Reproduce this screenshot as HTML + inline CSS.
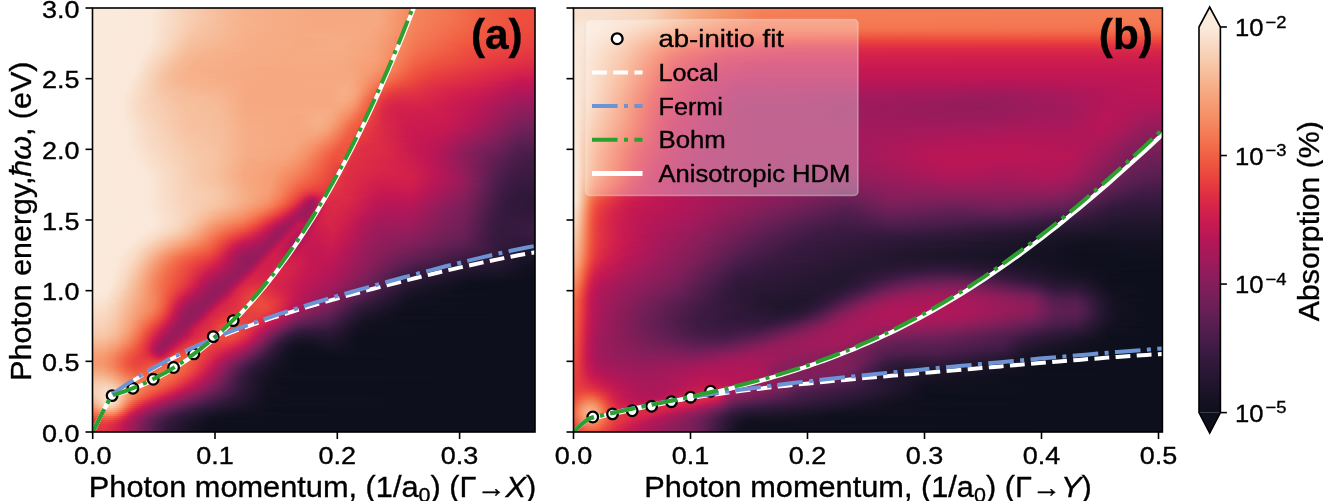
<!DOCTYPE html>
<html><head><meta charset="utf-8"><style>
html,body{margin:0;padding:0;background:#fff;width:1323px;height:501px;overflow:hidden}
.hm{position:absolute;overflow:hidden}
.hm i{display:block;width:100%}
svg{position:absolute;left:0;top:0;will-change:transform}
text{font-family:"Liberation Sans",sans-serif;fill:#000;stroke:#000;stroke-width:0.35px}
</style></head><body>
<div class="hm" style="left:92.5px;top:8px;width:442px;height:424px">
<i style="height:2px;background:linear-gradient(90deg,#faebdd 0,#fae9da 58px,#f8d7c0 82px,#f6be9b 124px,#f6b18b 153px,#f6a981 216px,#f6a981 284px,#f69b71 301px,#f4865e 319px,#f37450 356px,#f05e42 390px,#ed503e 423px,#ed4e3e 441px)"></i>
<i style="height:2px;background:linear-gradient(90deg,#faebdd 0,#fae9da 58px,#f8d7c0 82px,#f6be9b 124px,#f6b18b 153px,#f6a981 216px,#f6a981 284px,#f69b71 301px,#f4865e 319px,#f37450 356px,#f05e42 390px,#ed503e 423px,#ed4e3e 441px)"></i>
<i style="height:2px;background:linear-gradient(90deg,#faebdd 0,#fae9da 57px,#f8d1b8 91px,#f6bc99 127px,#f6b18b 154px,#f6a981 216px,#f6a981 284px,#f69b71 301px,#f4865e 319px,#f37450 356px,#f05e42 390px,#ed503e 423px,#ed4e3e 441px)"></i>
<i style="height:2px;background:linear-gradient(90deg,#faebdd 0,#fae9da 57px,#f8d1b8 91px,#f6bc99 127px,#f6b18b 154px,#f6a981 216px,#f6a981 284px,#f69b71 301px,#f4865e 319px,#f3734e 359px,#f05e42 390px,#ed503e 423px,#ed4e3e 441px)"></i>
<i style="height:2px;background:linear-gradient(90deg,#faebdd 0,#fae9da 57px,#f7ccaf 100px,#f6b893 136px,#f6b089 163px,#f6a981 218px,#f6a981 284px,#f59970 302px,#f4835b 323px,#f37450 356px,#f05c42 393px,#ed4e3e 429px,#ed4e3e 441px)"></i>
<i style="height:2px;background:linear-gradient(90deg,#faebdd 0,#fae9da 57px,#f7c7a8 107px,#f6b48f 144px,#f6b089 164px,#f6a981 217px,#f6a880 287px,#f4845d 321px,#f3734e 358px,#f05e42 389px,#ed4e3e 427px,#ed4e3e 441px)"></i>
<i style="height:2px;background:linear-gradient(90deg,#faebdd 0,#fae9da 57px,#f7c7a8 106px,#f6b48f 143px,#f6ae87 172px,#f6a981 222px,#f6a880 286px,#f59269 307px,#f4815a 326px,#f3734e 357px,#f05e42 388px,#ed4e3e 426px,#ec4c3e 441px)"></i>
<i style="height:2px;background:linear-gradient(90deg,#faebdd 0,#fae9da 57px,#f7c7a8 105px,#f6b48f 143px,#f6b089 163px,#f6a981 218px,#f6a880 285px,#f5966c 304px,#f4835b 323px,#f26f4c 361px,#f05c42 391px,#ed4e3e 426px,#ec4c3e 441px)"></i>
<i style="height:2px;background:linear-gradient(90deg,#faebdd 0,#fae9da 57px,#f7c6a6 106px,#f6b18b 151px,#f6a981 217px,#f6a880 284px,#f5966c 304px,#f4815a 324px,#f26f4c 360px,#ef5a41 393px,#ec4c3e 432px,#ec4c3e 441px)"></i>
<i style="height:2px;background:linear-gradient(90deg,#faebdd 0,#fae9da 57px,#f7c6a6 105px,#f6b38d 146px,#f6ae87 177px,#f6a981 218px,#f6a880 283px,#f5976e 302px,#f4825a 322px,#f26e4b 359px,#ef5a41 391px,#ec4c3e 430px,#ec4c3e 441px)"></i>
<i style="height:2px;background:linear-gradient(90deg,#faebdd 0,#fae9da 57px,#f8d1b8 87px,#f7c4a4 106px,#f6b18b 150px,#f6a981 217px,#f6a881 278px,#f6a077 294px,#f4835b 320px,#f26b49 361px,#ef5840 394px,#ec4a3e 435px,#ec4a3e 441px)"></i>
<i style="height:2px;background:linear-gradient(90deg,#faebdd 0,#fae9da 57px,#f8d6be 81px,#f7c2a2 107px,#f6b089 154px,#f6ab83 199px,#f6a881 276px,#f6a077 293px,#f48059 322px,#f26c4a 358px,#ef5840 391px,#ec4a3e 432px,#ec4a3e 441px)"></i>
<i style="height:2px;background:linear-gradient(90deg,#faebdd 0,#fae9da 57px,#f8d7c0 79px,#f7c6a6 99px,#f6b089 153px,#f6ab83 199px,#f6a981 274px,#f69e75 294px,#f4815a 320px,#f26848 361px,#ef5640 392px,#eb483e 437px,#eb483e 441px)"></i>
<i style="height:2px;background:linear-gradient(90deg,#faebdd 0,#fae9da 57px,#f8d9c3 77px,#f7c4a4 100px,#f6b089 152px,#f6ab83 199px,#f6ac84 235px,#f6a77f 279px,#f69b71 296px,#f47d57 323px,#f26848 359px,#ef5640 390px,#eb483e 432px,#eb483e 441px)"></i>
<i style="height:2px;background:linear-gradient(90deg,#faebdd 0,#fae9da 56px,#f8dac5 75px,#f7c3a3 99px,#f6b089 152px,#f6aa82 199px,#f6ac84 230px,#f6a981 271px,#f69d74 293px,#f47d57 321px,#f16647 359px,#ee543f 390px,#eb463e 437px,#eb463e 441px)"></i>
<i style="height:2px;background:linear-gradient(90deg,#faebdd 0,#fae9da 56px,#f8d9c3 76px,#f7c3a3 97px,#f6b995 124px,#f6ae87 157px,#f6ad85 190px,#f6a981 216px,#f6ad85 249px,#f6a47b 284px,#f59067 303px,#f47b55 324px,#f16244 363px,#ee523f 393px,#ea453e 435px,#ea453e 441px)"></i>
<i style="height:2px;background:linear-gradient(90deg,#faebdd 0,#fae9da 55px,#f8dac5 74px,#f7c2a1 97px,#f6b995 120px,#f6ae87 156px,#f6ad85 190px,#f6a981 216px,#f6ad85 248px,#f6a47b 283px,#f58d64 305px,#f37852 325px,#f16445 358px,#ee523f 388px,#ea443e 434px,#ea443e 441px)"></i>
<i style="height:2px;background:linear-gradient(90deg,#faebdd 0,#fae9da 54px,#f9ddc9 70px,#f6c09e 97px,#f6b995 118px,#f6ae87 155px,#f6ad85 190px,#f6a981 216px,#f6ad85 242px,#f6a67e 278px,#f5946b 299px,#f37852 323px,#f05e42 363px,#ed4f3e 393px,#e9423e 435px,#e9423e 441px)"></i>
<i style="height:2px;background:linear-gradient(90deg,#faebdd 0,#fae9da 54px,#f8d8c1 74px,#f6bf9c 97px,#f6b893 120px,#f6ae87 155px,#f6ad85 190px,#f6a981 215px,#f6ad85 244px,#f6a47b 281px,#f59269 300px,#f37651 323px,#ef5941 367px,#ea433e 420px,#e8403e 441px)"></i>
<i style="height:2px;background:linear-gradient(90deg,#faebdd 0,#fae9da 53px,#f8d8c1 73px,#f6be9b 96px,#f6b792 118px,#f6ad85 160px,#f6ad85 189px,#f6a981 215px,#f6ae87 240px,#f6a279 283px,#f58b63 304px,#f3744f 324px,#ee513f 378px,#e83f3f 435px,#e83f3f 441px)"></i>
<i style="height:2px;background:linear-gradient(90deg,#faebdd 0,#fae9da 52px,#f8d7bf 73px,#f6be9b 95px,#f6b691 112px,#f6b18a 139px,#f6ad85 163px,#f6ab83 197px,#f6ac84 223px,#f6ad85 250px,#f6a077 285px,#f4865e 307px,#f3724e 324px,#ed4f3e 377px,#e73d3f 436px,#e73d3f 441px)"></i>
<i style="height:2px;background:linear-gradient(90deg,#faebdd 0,#fae9da 51px,#f8d4bb 74px,#f6bd9a 94px,#f6b691 109px,#f6ad85 159px,#f6aa82 197px,#f6ab83 222px,#f6ad85 242px,#f6a37a 281px,#f58f66 300px,#f3724e 322px,#ed4f3e 373px,#e63b40 435px,#e63b40 441px)"></i>
<i style="height:2px;background:linear-gradient(90deg,#faebdd 0,#fae9da 49px,#f8d7bf 70px,#f6bc99 93px,#f6b48f 109px,#f6ad86 146px,#f6ab83 196px,#f6ab83 223px,#f6ab83 254px,#f6a178 283px,#f58a61 303px,#f26e4b 323px,#ed4d3e 374px,#e53840 435px,#e53840 441px)"></i>
<i style="height:2px;background:linear-gradient(90deg,#faebdd 0,#fae9da 48px,#f8d6be 69px,#f6bc98 92px,#f6b48e 108px,#f6ac84 160px,#f6ab83 195px,#f6ab83 223px,#f6ab83 252px,#f6a077 285px,#f4845c 306px,#f26a49 325px,#ec4b3e 374px,#e43741 434px,#e43741 441px)"></i>
<i style="height:2px;background:linear-gradient(90deg,#faebdd 0,#fae9da 48px,#f7ceb2 74px,#f6b894 94px,#f6b28c 113px,#f6ab83 164px,#f6aa82 195px,#f6ac84 224px,#f6aa82 251px,#f6a077 284px,#f58960 302px,#f26a49 322px,#ec4c3e 367px,#e33541 431px,#e23442 441px)"></i>
<i style="height:2px;background:linear-gradient(90deg,#faebdd 0,#fae9da 47px,#f6bb97 90px,#f6b28c 105px,#f6ab83 166px,#f6ab83 224px,#f6ab83 249px,#f6a077 283px,#f58960 301px,#f26948 321px,#ef5740 346px,#e9413e 388px,#e13243 435px,#e13243 441px)"></i>
<i style="height:2px;background:linear-gradient(90deg,#faebdd 0,#fae9da 46px,#f6bb97 88px,#f6b18b 105px,#f6ab83 167px,#f6ab83 226px,#f6aa82 248px,#f6a077 282px,#f58b62 299px,#f26948 319px,#ef5941 337px,#e73e3f 392px,#e03043 433px,#e03043 441px)"></i>
<i style="height:2px;background:linear-gradient(90deg,#faebdd 0,#fae9da 45px,#f6bc99 85px,#f6b18b 102px,#f6ab83 164px,#f6ab83 231px,#f6a77f 259px,#f69c73 284px,#f4855d 301px,#f16646 320px,#ee553f 338px,#e43741 403px,#dd2d45 437px,#dd2d45 441px)"></i>
<i style="height:2px;background:linear-gradient(90deg,#faebdd 0,#fae9da 44px,#f8d2b9 64px,#f6bc98 84px,#f6b18b 101px,#f6ab83 161px,#f6a981 251px,#f69c73 283px,#f48059 303px,#f16345 320px,#ee513f 339px,#e03043 414px,#db2a46 441px)"></i>
<i style="height:2px;background:linear-gradient(90deg,#faebdd 0,#fae9da 44px,#f6bf9c 79px,#f6b18b 98px,#f6a981 166px,#f6a981 250px,#f69b72 282px,#f4855d 298px,#f16144 319px,#ed4f3e 337px,#df2f44 411px,#da2947 436px,#da2947 441px)"></i>
<i style="height:2px;background:linear-gradient(90deg,#faebdd 0,#fae9da 43px,#f7d0b5 63px,#f6bc98 81px,#f6b18b 98px,#f6a981 167px,#f6a981 250px,#f69c73 278px,#f58960 295px,#f16647 314px,#ee533f 328px,#ea433e 355px,#d82648 430px,#d82648 441px)"></i>
<i style="height:2px;background:linear-gradient(90deg,#faebdd 0,#fae9da 42px,#f8d8c1 56px,#f6c09e 75px,#f6b48f 90px,#f6ae87 113px,#f6a981 173px,#f6a880 256px,#f5986f 281px,#f47b55 301px,#ef5941 320px,#eb473e 339px,#dc2b46 407px,#d5234a 436px,#d5234a 441px)"></i>
<i style="height:2px;background:linear-gradient(90deg,#faebdd 0,#fae9da 41px,#f8d4bc 58px,#f6c09e 74px,#f6b48f 89px,#f6ae87 114px,#f6a981 171px,#f6a880 257px,#f59a71 277px,#f47d57 297px,#f05b41 317px,#eb483e 333px,#e63c3f 359px,#d82648 413px,#d3214b 441px)"></i>
<i style="height:2px;background:linear-gradient(90deg,#faebdd 0,#fae9da 41px,#f7d0b5 60px,#f6be9b 75px,#f6b38d 93px,#f6a981 158px,#f6a880 258px,#f5966d 278px,#f26848 306px,#ed4d3e 324px,#e73e3f 345px,#da2947 401px,#d01e4d 432px,#d01e4d 441px)"></i>
<i style="height:2px;background:linear-gradient(90deg,#faebdd 0,#fae9da 40px,#f7d1b6 59px,#f6bc99 76px,#f6b18b 98px,#f6a881 166px,#f6a880 259px,#f5956c 277px,#f16546 306px,#ec4a3e 324px,#e63a40 345px,#db2a46 393px,#cd1c4e 428px,#cd1c4e 441px)"></i>
<i style="height:2px;background:linear-gradient(90deg,#faebdd 0,#fae9da 38px,#f8dac4 52px,#f6c19f 71px,#f6b48f 89px,#f6a880 167px,#f6a881 257px,#f69e75 269px,#f26a49 299px,#ed4d3e 319px,#e63a40 339px,#d92748 393px,#ca1a50 428px,#c91a50 441px)"></i>
<i style="height:2px;background:linear-gradient(90deg,#faebdd 0,#fae9da 37px,#f8d9c3 52px,#f6c19f 71px,#f6b48f 90px,#f6ab83 144px,#f6a880 172px,#f6aa82 243px,#f6a981 258px,#f59a71 271px,#f26f4c 293px,#ee543f 310px,#e63c3f 332px,#e13243 353px,#d82648 391px,#c71951 426px,#c61852 441px)"></i>
<i style="height:2px;background:linear-gradient(90deg,#faebdd 0,#fae9da 36px,#f8d9c3 51px,#f7c4a4 68px,#f6b691 88px,#f6ad85 139px,#f6a880 164px,#f6a981 241px,#f6aa82 257px,#f69c73 269px,#f26b49 291px,#ed503e 309px,#e33541 338px,#dc2c45 369px,#cd1c4e 406px,#c31753 432px,#c21753 441px)"></i>
<i style="height:2px;background:linear-gradient(90deg,#faebdd 0,#fae9da 35px,#f8d6be 53px,#f7c2a1 71px,#f6b792 89px,#f6ad86 136px,#f6a880 163px,#f6a880 224px,#f6ab83 245px,#f6ab83 257px,#f69b71 269px,#f26b49 288px,#ee553f 300px,#e43741 331px,#dc2c45 354px,#d4224a 389px,#c11754 423px,#be1655 441px)"></i>
<i style="height:2px;background:linear-gradient(90deg,#faebdd 0,#fae9da 34px,#f7cfb3 59px,#f6bf9d 74px,#f6b691 97px,#f6af88 134px,#f6a880 160px,#f6a880 221px,#f6a880 236px,#f6ad85 254px,#f6a47c 263px,#f5875f 276px,#f16445 288px,#ec4c3e 301px,#dc2c45 345px,#d3214b 387px,#be1655 420px,#bb1656 441px)"></i>
<i style="height:2px;background:linear-gradient(90deg,#faebdd 0,#fae9da 33px,#f7c2a2 71px,#f6b893 94px,#f6b18a 132px,#f6a880 157px,#f6a880 219px,#f6a880 236px,#f6ad86 252px,#f6a67e 262px,#f58960 274px,#f16445 286px,#ed503e 294px,#e9423e 305px,#d92748 351px,#d01e4d 387px,#bb1656 421px,#b61657 441px)"></i>
<i style="height:2px;background:linear-gradient(90deg,#faebdd 0,#fae9da 32px,#f7c2a2 72px,#f6b894 97px,#f6b38d 129px,#f6a880 157px,#f6a880 219px,#f6a880 236px,#f6ae87 253px,#f6a47b 263px,#f4855d 274px,#f06043 285px,#eb463e 295px,#e63a40 310px,#d62449 354px,#cf1d4d 385px,#b81657 420px,#b31758 440px,#b31758 441px)"></i>
<i style="height:2px;background:linear-gradient(90deg,#faebdd 0,#fae9da 31px,#f7c6a6 69px,#f6bb97 92px,#f6b48e 129px,#f6a880 156px,#f6a880 219px,#f6a880 235px,#f6ae87 252px,#f6a67e 261px,#f59168 269px,#f16546 282px,#eb473e 291px,#e53940 301px,#df2f44 329px,#d4224a 357px,#cc1b4f 386px,#b31758 421px,#af1759 441px)"></i>
<i style="height:2px;background:linear-gradient(90deg,#faebdd 0,#fae9da 30px,#f7c7a8 68px,#f6bc98 92px,#f6b590 128px,#f6a880 155px,#f6a981 210px,#f6a77f 229px,#f6ae87 251px,#f6a67e 260px,#f5966c 267px,#f3744f 276px,#ed4f3e 286px,#e63b40 294px,#e13342 307px,#dd2d45 328px,#d3214b 356px,#ca1a50 385px,#ae1759 422px,#aa185a 441px)"></i>
<i style="height:2px;background:linear-gradient(90deg,#faebdd 0,#fae9da 30px,#f7d0b5 57px,#f6bf9d 83px,#f6bb97 112px,#f6b38d 134px,#f6a880 156px,#f6a981 210px,#f6a880 234px,#f6ad86 250px,#f6a47b 261px,#f58e65 268px,#f3714d 275px,#f05e42 281px,#e8413e 289px,#e13243 298px,#db2a46 329px,#d11f4c 358px,#c61852 387px,#a9185a 426px,#a7195a 441px)"></i>
<i style="height:2px;background:linear-gradient(90deg,#faebdd 0,#fae9da 29px,#f7d0b5 57px,#f6bf9d 86px,#f6b893 127px,#f6a981 152px,#f6a981 237px,#f6ad85 251px,#f6a178 261px,#f58b62 268px,#f3724e 273px,#f05f43 280px,#e9413e 287px,#e13243 294px,#dc2c45 305px,#da2947 328px,#cf1d4d 360px,#c41753 387px,#a5195b 425px,#a21a5b 441px)"></i>
<i style="height:2px;background:linear-gradient(90deg,#faebdd 0,#fae9da 29px,#f8d3ba 53px,#f6c19f 85px,#f6bc99 114px,#f6b48f 134px,#f6a981 152px,#f6a981 236px,#f6ac84 249px,#f6a47b 258px,#f5936a 265px,#f3724e 272px,#f05f43 279px,#ea433e 285px,#df2f44 293px,#da2947 304px,#d92748 328px,#cd1c4e 361px,#c21753 386px,#a21a5b 425px,#9e1a5b 441px)"></i>
<i style="height:2px;background:linear-gradient(90deg,#faebdd 0,#fae9da 29px,#f8d4bc 51px,#f6c19f 87px,#f6b995 127px,#f6a981 152px,#f6a981 251px,#f5986f 262px,#f47b55 269px,#f26a49 274px,#f05b41 279px,#e8403f 285px,#df2f44 291px,#d82648 303px,#d62449 330px,#c41753 381px,#9d1a5b 427px,#9b1b5b 441px)"></i>
<i style="height:2px;background:linear-gradient(90deg,#faebdd 0,#fae9da 29px,#f8d7bf 49px,#f7c2a2 85px,#f6be9b 108px,#f6b995 128px,#f6a981 153px,#f6a981 248px,#f59a71 260px,#f4845d 266px,#f26f4c 271px,#f05b41 278px,#e8403f 284px,#df2f44 290px,#d62449 301px,#d5234a 330px,#c31753 380px,#991b5b 427px,#981b5b 441px)"></i>
<i style="height:2px;background:linear-gradient(90deg,#faebdd 0,#fae9da 29px,#f8d9c3 46px,#f7c2a2 86px,#f6be9b 111px,#f6bb97 126px,#f6a981 154px,#f6a981 245px,#f69b72 257px,#f58860 264px,#f26e4b 270px,#f05f43 276px,#e8403f 283px,#dc2b46 291px,#d4224a 302px,#d3214b 333px,#c21753 379px,#a01a5b 414px,#941c5b 432px,#941c5b 441px)"></i>
<i style="height:2px;background:linear-gradient(90deg,#faebdd 0,#fae9da 29px,#f8d7c0 48px,#f6c19f 91px,#f6bc99 124px,#f6a981 154px,#f6ab83 219px,#f6ab83 240px,#f69d74 254px,#f58a61 262px,#f26c4a 270px,#f05b41 276px,#e63c3f 283px,#d92847 292px,#d3214b 305px,#d11f4c 336px,#c21753 377px,#a21a5b 410px,#911d5b 431px,#911d5b 441px)"></i>
<i style="height:2px;background:linear-gradient(90deg,#faebdd 0,#fae9da 29px,#f8d7c0 49px,#f6c19f 92px,#f6bc98 125px,#f6a981 155px,#f6ab83 215px,#f6ac84 236px,#f6a077 249px,#f58e65 259px,#f26a49 269px,#f05f43 274px,#e9413e 281px,#dd2d45 288px,#d3214b 298px,#cf1d4d 343px,#c11754 377px,#a01a5b 409px,#8f1d5b 428px,#8d1d5b 441px)"></i>
<i style="height:2px;background:linear-gradient(90deg,#faebdd 0,#fae9da 29px,#f8d7c0 50px,#f6c19f 92px,#f6bc99 125px,#f6a981 155px,#f6ab83 213px,#f6ad86 232px,#f6a47b 245px,#f58b63 258px,#f26a49 268px,#f05b41 274px,#e73e3f 281px,#db2946 290px,#d2204c 301px,#cd1c4e 352px,#bb1656 383px,#8d1d5b 425px,#8a1d5b 441px)"></i>
<i style="height:2px;background:linear-gradient(90deg,#faebdd 0,#fae9da 29px,#f8d7c0 51px,#f7c2a2 90px,#f6bf9d 106px,#f6bb97 128px,#f6ab83 153px,#f6a981 208px,#f6af88 228px,#f6a981 239px,#f58e65 255px,#f26848 267px,#f05d42 272px,#e83f3f 280px,#d92847 290px,#d11f4c 305px,#cd1c4e 351px,#ba1656 382px,#8a1d5b 425px,#861e5b 441px)"></i>
<i style="height:2px;background:linear-gradient(90deg,#faebdd 0,#fae9da 29px,#f8d9c3 49px,#f6c19f 94px,#f6bc99 126px,#f6ab83 154px,#f6a981 207px,#f6b089 229px,#f6a57d 241px,#f58960 255px,#f26a49 265px,#ef5941 272px,#e63c3f 280px,#d82748 291px,#cf1e4d 308px,#ca1a50 355px,#b71657 384px,#871e5b 425px,#831e5a 441px)"></i>
<i style="height:2px;background:linear-gradient(90deg,#faebdd 0,#fae9da 30px,#f8d9c3 50px,#f7c2a2 91px,#f6bf9d 110px,#f6bb97 129px,#f6ab83 154px,#f6a981 205px,#f6b089 228px,#f6a57d 240px,#f4865e 254px,#f26848 264px,#f05b41 270px,#e8403f 278px,#d92847 290px,#cf1e4d 306px,#ca1a50 354px,#b61657 383px,#851e5a 424px,#801e5a 441px)"></i>
<i style="height:2px;background:linear-gradient(90deg,#faebdd 0,#fae9da 30px,#f8d7c0 54px,#f6c19f 94px,#f6be9b 123px,#f6ab83 155px,#f6a981 203px,#f6b089 228px,#f6a37a 240px,#f4815a 254px,#f16647 263px,#ef5740 270px,#e83f3f 277px,#d82748 292px,#ce1d4e 310px,#ca1a50 355px,#b11758 386px,#811e5a 424px,#7c1f59 441px)"></i>
<i style="height:2px;background:linear-gradient(90deg,#faebdd 0,#fae9da 31px,#f8d7c0 55px,#f7c2a2 92px,#f6bf9d 111px,#f6bb97 130px,#f6ab83 155px,#f6a880 202px,#f6b089 226px,#f6a67e 237px,#f4855d 251px,#f16647 261px,#ef5941 268px,#e73e3f 276px,#d82648 293px,#cd1c4e 314px,#ca1a50 353px,#ae1759 387px,#801e5a 423px,#791f59 440px,#791f59 441px)"></i>
<i style="height:2px;background:linear-gradient(90deg,#faebdd 0,#fae9da 31px,#f8d9c3 53px,#f7c2a2 93px,#f6bf9d 114px,#f6bb97 130px,#f6ad85 153px,#f6a981 182px,#f6a981 208px,#f6ae87 224px,#f6a881 234px,#f59168 245px,#f16647 259px,#ef5740 267px,#e8403f 274px,#d82748 292px,#cb1b4f 316px,#c91a50 352px,#ac185a 386px,#7b1f59 425px,#761f58 441px)"></i>
<i style="height:2px;background:linear-gradient(90deg,#faebdd 0,#fae9da 32px,#f8d9c3 54px,#f7c2a2 93px,#f6bc99 128px,#f6ad85 154px,#f6a880 202px,#f6ad86 225px,#f6a47c 235px,#f58b62 246px,#f16546 258px,#ef5941 265px,#e9413e 272px,#de2e44 285px,#cd1c4e 310px,#c81951 351px,#af1759 380px,#8c1d5b 409px,#761f58 427px,#721f58 441px)"></i>
<i style="height:2px;background:linear-gradient(90deg,#faebdd 0,#fae9da 32px,#f8d9c3 55px,#f7c2a2 94px,#f6be9b 125px,#f6ad85 155px,#f6a880 203px,#f6ab83 225px,#f6a279 235px,#f4845c 247px,#f16445 257px,#ee553f 265px,#e73e3f 272px,#db2946 290px,#ca1a50 316px,#c71951 350px,#ac185a 380px,#8d1d5b 406px,#741f58 425px,#6f1f57 441px)"></i>
<i style="height:2px;background:linear-gradient(90deg,#faebdd 0,#fae9da 33px,#f8dac5 53px,#f7c2a2 95px,#f6be9b 126px,#f6ad85 155px,#f6a881 204px,#f6a881 226px,#f5986f 238px,#f26e4b 252px,#f05f43 258px,#ef5740 263px,#e8403f 270px,#df2f44 283px,#cb1b4f 313px,#c51852 351px,#a21a5b 387px,#861e5b 408px,#6f1f57 427px,#6c1f56 441px)"></i>
<i style="height:2px;background:linear-gradient(90deg,#faebdd 0,#fae9da 33px,#f8dac5 54px,#f7c4a4 93px,#f6c19f 114px,#f6bb97 132px,#f6ae87 152px,#f6a981 182px,#f6a77f 224px,#f5986f 236px,#f3744f 249px,#f06043 256px,#ef5740 262px,#e73e3f 269px,#de2e44 285px,#ca1a50 315px,#c41852 349px,#9e1a5b 387px,#7e1f5a 412px,#6c1f56 427px,#681f55 441px)"></i>
<i style="height:2px;background:linear-gradient(90deg,#faebdd 0,#fae9da 33px,#f8dac5 55px,#f7c4a4 94px,#f6be9b 127px,#f6ad85 155px,#f6a57d 222px,#f5976e 234px,#f37550 247px,#f16144 254px,#ef5740 261px,#e73e3f 268px,#e03143 279px,#d2204c 303px,#c71951 324px,#c41753 347px,#aa185a 371px,#861e5b 404px,#6a1f56 425px,#651f54 439px,#651f54 441px)"></i>
<i style="height:2px;background:linear-gradient(90deg,#faebdd 0,#fae9da 34px,#f8dcc7 53px,#f7c4a4 96px,#f6bf9d 125px,#f6ad85 155px,#f6a57d 216px,#f59970 230px,#f47f58 242px,#f05f43 253px,#ef5740 260px,#e63c3f 267px,#dd2c45 287px,#c81951 316px,#c11754 348px,#961c5b 387px,#811e5a 405px,#661f54 426px,#621f53 441px)"></i>
<i style="height:2px;background:linear-gradient(90deg,#faebdd 0,#fae9da 34px,#f8dac5 56px,#f7c6a6 94px,#f6bf9c 126px,#f6ae87 153px,#f6ab83 173px,#f6a67e 210px,#f59a71 226px,#f4825a 239px,#f05e42 252px,#ef5640 259px,#e63c3f 266px,#e03143 278px,#d2204c 304px,#c71951 322px,#bf1654 348px,#961c5b 383px,#801e5a 404px,#621f53 426px,#5f1f52 441px)"></i>
<i style="height:2px;background:linear-gradient(90deg,#faebdd 0,#fae9da 34px,#f8dac5 57px,#f7c6a6 96px,#f6bf9d 126px,#f6ae87 153px,#f6ab83 173px,#f6a77f 204px,#f59a71 223px,#f4815a 237px,#f05d42 251px,#ef5640 258px,#e53840 266px,#de2e44 284px,#cb1b4f 313px,#c41753 334px,#bb1656 350px,#951c5b 380px,#7c1f59 404px,#5f1f52 426px,#5b1e51 441px)"></i>
<i style="height:2px;background:linear-gradient(90deg,#faebdd 0,#fae9da 35px,#f8dcc7 55px,#f7c6a6 97px,#f6bf9d 127px,#f6ae87 153px,#f6ab83 173px,#f6a77f 203px,#f5956c 224px,#f37450 240px,#f05b41 250px,#ee553f 257px,#e43841 265px,#df2f44 277px,#d82748 296px,#c71951 319px,#bc1656 347px,#911d5b 380px,#791f59 404px,#5b1e51 426px,#581e50 441px)"></i>
<i style="height:2px;background:linear-gradient(90deg,#faebdd 0,#fae9da 35px,#f8dac5 59px,#f7c6a6 98px,#f6c09e 125px,#f6ad85 155px,#f6a981 197px,#f59a71 217px,#f37953 236px,#ef5a41 249px,#ee553f 256px,#e43741 264px,#df2f44 274px,#d92847 294px,#c71951 319px,#bb1656 346px,#8f1d5b 378px,#761f58 404px,#581e50 426px,#551e4e 441px)"></i>
<i style="height:2px;background:linear-gradient(90deg,#faebdd 0,#fae9da 36px,#f8dcc7 57px,#f7c7a8 98px,#f6c19f 125px,#f6ae87 152px,#f6ab83 172px,#f6a880 199px,#f5986f 216px,#f37852 234px,#ef5941 247px,#ee553f 255px,#e43741 263px,#df2f44 271px,#dc2b46 290px,#c81951 318px,#b91656 346px,#8c1d5b 378px,#721f58 404px,#571e4f 425px,#521e4d 439px,#521e4d 441px)"></i>
<i style="height:2px;background:linear-gradient(90deg,#faebdd 0,#fae9da 36px,#f8dac5 61px,#f7c7a8 99px,#f6c19f 125px,#f6ad85 154px,#f6a77f 199px,#f5986f 214px,#f47c55 230px,#ef5941 245px,#ef5840 251px,#ee513f 255px,#e43741 262px,#de2e44 270px,#dc2b46 290px,#c81951 319px,#b81657 346px,#891e5b 378px,#6d1f56 405px,#521e4d 427px,#4f1d4c 441px)"></i>
<i style="height:2px;background:linear-gradient(90deg,#faebdd 0,#fae9da 37px,#f8dcc7 60px,#f7c7a8 99px,#f7c2a2 123px,#f6ae87 151px,#f6a981 177px,#f6a67e 199px,#f59168 217px,#f06043 240px,#ee553f 246px,#ee553f 253px,#e43741 261px,#de2e44 269px,#dc2b46 289px,#c71951 321px,#b91657 344px,#861e5b 378px,#6c1f56 404px,#501d4c 426px,#4c1d4b 441px)"></i>
<i style="height:2px;background:linear-gradient(90deg,#faebdd 0,#fae9da 38px,#f9ddc9 58px,#f7c7a8 102px,#f7c2a2 123px,#f6ad85 153px,#f6a981 182px,#f6a37a 201px,#f59067 216px,#f06043 238px,#ee543f 245px,#ee543f 252px,#e23342 261px,#de2e44 271px,#d92847 294px,#c71951 323px,#b51657 346px,#831e5a 379px,#641f54 408px,#4d1d4b 427px,#4a1d49 441px)"></i>
<i style="height:2px;background:linear-gradient(90deg,#faebdd 0,#fae9da 38px,#f7c9aa 99px,#f7c2a2 123px,#f6ad85 153px,#f6a981 176px,#f6a47b 198px,#f5936a 212px,#f3744f 228px,#ee553f 241px,#ee543f 247px,#ee543f 251px,#e23342 260px,#de2e44 269px,#d82748 296px,#c51852 327px,#b41658 347px,#811e5a 380px,#601f53 408px,#4a1d49 428px,#481c48 441px)"></i>
<i style="height:2px;background:linear-gradient(90deg,#faebdd 0,#fae9da 39px,#f7d0b5 85px,#f7c9aa 102px,#f6c19f 125px,#f6ad85 152px,#f6a880 183px,#f69f76 202px,#f58b63 215px,#f05f43 235px,#ee513f 243px,#ee533f 250px,#e23342 259px,#de2e44 268px,#d72549 299px,#c31753 331px,#b01759 349px,#811e5a 379px,#501d4c 419px,#461c48 434px,#461c48 441px)"></i>
<i style="height:2px;background:linear-gradient(90deg,#faebdd 0,#fae9da 40px,#f8d3ba 81px,#f7c9aa 102px,#f6c19f 125px,#f6ab83 153px,#f6a37a 194px,#f59168 210px,#f26a49 229px,#ee523f 240px,#ee523f 245px,#ee533f 249px,#e23342 258px,#dd2c45 269px,#d72549 299px,#bf1654 336px,#ab185a 352px,#7a1f59 384px,#491d49 424px,#441c46 441px)"></i>
<i style="height:2px;background:linear-gradient(90deg,#faebdd 0,#fae9da 41px,#f8d4bc 80px,#f7caac 98px,#f6c19f 125px,#f6ab83 153px,#f6a279 192px,#f59168 208px,#f26e4b 226px,#ee513f 239px,#ed4f3e 244px,#ee533f 248px,#e23342 257px,#dd2c45 266px,#d62449 302px,#bf1654 337px,#9f1a5b 360px,#741f58 388px,#491d49 422px,#421b45 440px,#421b45 441px)"></i>
<i style="height:2px;background:linear-gradient(90deg,#faebdd 0,#fae9da 43px,#f8d3ba 83px,#f7caac 99px,#f6c19f 124px,#f6a981 154px,#f6a178 190px,#f59168 206px,#f26d4b 225px,#ed4f3e 239px,#ec4b3e 245px,#ec4a3e 249px,#e03143 257px,#dd2c45 270px,#d11f4c 314px,#ba1656 342px,#871e5b 375px,#4d1d4b 416px,#421b45 433px,#421b45 441px)"></i>
<i style="height:2px;background:linear-gradient(90deg,#faebdd 0,#fae9da 44px,#f8d7c0 77px,#f7ccaf 96px,#f6c19f 124px,#f6a981 154px,#f6a077 190px,#f58e65 206px,#f3714d 222px,#ed503e 237px,#ea443e 247px,#e63a40 252px,#de2e44 259px,#d2204c 313px,#bc1656 341px,#8c1d5b 373px,#501d4c 412px,#401b44 432px,#401b44 441px)"></i>
<i style="height:2px;background:linear-gradient(90deg,#faebdd 0,#fae9da 45px,#f8d7c0 78px,#f7caac 99px,#f6c19f 124px,#f6ab83 150px,#f6a47c 176px,#f5966d 197px,#f47e57 214px,#ef5941 232px,#e8403f 246px,#de2e44 258px,#d11f4c 317px,#bc1656 341px,#931c5b 369px,#5b1e51 402px,#441c46 422px,#3f1b43 441px)"></i>
<i style="height:2px;background:linear-gradient(90deg,#faebdd 0,#fae9da 47px,#f8d6be 81px,#f7caac 100px,#f6c19f 123px,#f6a880 154px,#f69f76 185px,#f58b62 204px,#f16144 227px,#e9423e 243px,#de2e44 257px,#d01e4d 319px,#ba1656 343px,#8e1d5b 373px,#571e4f 404px,#421b45 423px,#3e1b43 441px)"></i>
<i style="height:2px;background:linear-gradient(90deg,#faebdd 0,#fae9da 48px,#f8d9c3 77px,#f7ccaf 97px,#f6c19f 123px,#f6a981 151px,#f69e75 184px,#f5875f 204px,#ef5941 230px,#e63b40 246px,#de2e44 256px,#d62449 297px,#cf1d4d 322px,#b51657 347px,#901d5b 373px,#561e4f 403px,#401b44 423px,#3c1a42 441px)"></i>
<i style="height:2px;background:linear-gradient(90deg,#faebdd 0,#fae9da 50px,#f8d7c0 80px,#f7caac 100px,#f6c19f 123px,#f6a981 151px,#f69d74 183px,#f4845c 204px,#ef5a41 228px,#e63b40 245px,#de2e44 255px,#d62449 290px,#d11f4c 320px,#ba1656 343px,#981b5b 369px,#631f53 395px,#471c48 413px,#3c1a42 433px,#3c1a42 441px)"></i>
<i style="height:2px;background:linear-gradient(90deg,#faebdd 0,#fae9da 51px,#f8dac5 76px,#f7ccaf 98px,#f6bf9d 126px,#f6a981 150px,#f69e75 181px,#f47e57 205px,#ef5941 227px,#e53940 245px,#de2e44 255px,#d5224a 289px,#d2204c 318px,#bd1655 340px,#9a1b5b 368px,#781f59 385px,#511e4d 404px,#3f1b43 422px,#3a1a41 441px)"></i>
<i style="height:2px;background:linear-gradient(90deg,#faebdd 0,#fae9da 52px,#f8d5bd 83px,#f7c9aa 105px,#f6c19f 124px,#f6a981 151px,#f69c73 181px,#f4825a 200px,#f05f43 222px,#e8403f 241px,#df2f44 251px,#d4224a 285px,#d2204c 318px,#bd1655 340px,#981b5b 370px,#631f53 394px,#471c48 410px,#3a1a41 429px,#391a40 441px)"></i>
<i style="height:2px;background:linear-gradient(90deg,#faebdd 0,#fae9da 53px,#f8d7c0 81px,#f7ccaf 99px,#f6c09e 125px,#f6a981 151px,#f69d74 179px,#f4845c 197px,#f16546 216px,#ea453e 237px,#de2e44 252px,#d3214b 286px,#d11f4c 320px,#b81657 344px,#9a1b5b 369px,#751f58 386px,#4e1d4b 404px,#3c1a42 422px,#38193f 441px)"></i>
<i style="height:2px;background:linear-gradient(90deg,#faebdd 0,#fae9da 53px,#f8dac5 77px,#f7ccaf 99px,#f6c19f 125px,#f6a981 152px,#f69e75 178px,#f4845d 195px,#f16144 215px,#e9413e 238px,#df2f44 250px,#d11f4c 285px,#d01e4d 320px,#b71657 344px,#971c5b 371px,#601f53 394px,#451c47 409px,#38193f 428px,#36193e 441px)"></i>
<i style="height:2px;background:linear-gradient(90deg,#faebdd 0,#fae9da 54px,#f8d3ba 87px,#f7caac 105px,#f6c19f 126px,#f6a981 152px,#f69e75 177px,#f5875f 192px,#f16144 212px,#e9423e 236px,#df2f44 249px,#d01e4d 285px,#d01e4d 318px,#bc1656 339px,#981b5b 369px,#7b1f59 383px,#4f1d4c 402px,#3c1a42 418px,#35193d 440px,#35193e 441px)"></i>
<i style="height:2px;background:linear-gradient(90deg,#faebdd 0,#fae9da 54px,#f7cfb3 95px,#f7c2a2 125px,#f6ab83 151px,#f69e75 177px,#f48059 194px,#f16144 209px,#eb493e 227px,#e43841 241px,#de2e44 251px,#cf1d4d 285px,#cf1d4d 319px,#b41658 343px,#981b5b 369px,#751f58 385px,#4d1d4b 402px,#3a1a41 418px,#34193d 439px,#34193d 441px)"></i>
<i style="height:2px;background:linear-gradient(90deg,#faebdd 0,#fae9da 54px,#f7cdb1 98px,#f7c5a5 123px,#f6ab83 152px,#f69d74 177px,#f4845d 191px,#f06043 207px,#eb493e 222px,#e63c3f 237px,#de2e44 249px,#d4224a 270px,#cc1b4f 292px,#ce1d4e 317px,#b91656 338px,#941c5b 370px,#6e1f57 387px,#491c49 404px,#36193e 421px,#33193c 441px)"></i>
<i style="height:2px;background:linear-gradient(90deg,#faebdd 0,#fae9da 54px,#f7d0b5 93px,#f7c6a6 124px,#f6ab83 153px,#f69e75 176px,#f4825a 191px,#f05f43 205px,#eb463e 218px,#e63a40 236px,#de2e44 248px,#d72549 265px,#ca1a50 288px,#cb1b4f 319px,#b81657 337px,#911d5b 371px,#601f53 392px,#431c46 407px,#34193d 423px,#32183b 441px)"></i>
<i style="height:2px;background:linear-gradient(90deg,#faebdd 0,#fae9da 54px,#f7cfb3 96px,#f7c7a8 123px,#f6ab83 153px,#f69e75 175px,#f58960 187px,#f16244 202px,#e9433e 214px,#e63b40 222px,#e63a40 233px,#de2e44 247px,#d82748 262px,#c91a50 286px,#ca1a50 318px,#b11758 340px,#8f1d5b 371px,#5c1e51 393px,#401b44 408px,#32183b 427px,#31183a 441px)"></i>
<i style="height:2px;background:linear-gradient(90deg,#faebdd 0,#fae9da 54px,#f8d1b8 91px,#f7c7a8 124px,#f6ad85 152px,#f69d74 175px,#f4845c 188px,#f05d42 202px,#e73e3f 212px,#e03143 219px,#e33641 234px,#de2e44 248px,#d01e4d 272px,#c61852 293px,#c81951 317px,#b71657 334px,#9f1a5b 354px,#8c1d5b 371px,#601f52 391px,#3f1b44 408px,#32183b 424px,#2f1839 441px)"></i>
<i style="height:2px;background:linear-gradient(90deg,#faebdd 0,#fae9da 54px,#f8d1b8 91px,#f7c9aa 122px,#f6ad85 152px,#f69b72 175px,#f4845c 187px,#f05d42 200px,#e83f3f 209px,#d82748 217px,#d92748 223px,#e23342 233px,#d62449 263px,#c41852 287px,#c61852 318px,#b11758 336px,#9b1b5b 355px,#881e5b 372px,#551e4e 395px,#3a1a41 411px,#2f1839 431px,#2f1839 441px)"></i>
<i style="height:2px;background:linear-gradient(90deg,#faebdd 0,#fae9da 54px,#f8d3ba 89px,#f7cdb1 110px,#f7c4a4 128px,#f6ab83 154px,#f5986f 176px,#f47d56 188px,#ef5a41 199px,#e73e3f 207px,#d11f4c 215px,#ca1a50 219px,#d11f4c 224px,#df2f44 232px,#db2946 256px,#c61852 282px,#c21753 297px,#c31753 319px,#a7195a 341px,#861e5b 372px,#561e4f 394px,#3b1a41 410px,#2f1839 426px,#2e1838 441px)"></i>
<i style="height:2px;background:linear-gradient(90deg,#faebdd 0,#fae9da 54px,#f8d1b8 92px,#f7c9aa 122px,#f6a981 155px,#f5986f 174px,#f48059 185px,#ef5740 198px,#e53940 206px,#cc1c4e 213px,#bb1656 218px,#be1755 222px,#d5224a 228px,#dd2d45 234px,#da2947 255px,#c31753 283px,#c11754 301px,#c11754 318px,#a9185a 338px,#961c5b 354px,#851e5a 371px,#571e4f 393px,#3c1a42 408px,#2f1839 424px,#2e1838 441px)"></i>
<i style="height:2px;background:linear-gradient(90deg,#faebdd 0,#fae9da 54px,#f8d3ba 90px,#f7c6a7 124px,#f6a880 156px,#f5936a 175px,#f3734e 188px,#ed503e 198px,#e03043 206px,#c71951 212px,#ae1759 217px,#ab185a 220px,#bb1656 224px,#d3214b 229px,#dc2b46 234px,#db2946 253px,#c11754 282px,#bd1655 297px,#be1655 318px,#a5195b 338px,#921c5b 354px,#811e5a 372px,#511e4d 395px,#35193e 413px,#2d1837 435px,#2d1837 441px)"></i>
<i style="height:2px;background:linear-gradient(90deg,#faebdd 0,#fae9da 54px,#f8d4bc 88px,#f7c6a6 123px,#f69f76 163px,#f58b62 177px,#f16646 190px,#eb483e 198px,#d92748 206px,#c11754 211px,#a3195b 217px,#a11a5b 220px,#b41758 224px,#cc1b4f 228px,#da2947 233px,#da2947 252px,#c31753 279px,#ba1656 295px,#bb1656 319px,#a21a5b 338px,#8f1d5b 355px,#7c1f59 373px,#4a1d49 398px,#34193d 414px,#2d1837 438px,#2d1837 441px)"></i>
<i style="height:2px;background:linear-gradient(90deg,#faebdd 0,#fae9da 54px,#f8d1b8 95px,#f7c2a1 126px,#f59269 170px,#f47d57 180px,#ef5640 192px,#e43741 200px,#cc1b4f 207px,#b71657 211px,#a01a5b 216px,#9e1a5b 220px,#aa185a 223px,#c51852 227px,#d5234a 231px,#dc2b46 239px,#d5234a 259px,#be1655 281px,#b81657 297px,#b91656 317px,#a5195b 334px,#901d5b 351px,#7b1f59 373px,#471c48 399px,#33183c 415px,#2d1837 441px)"></i>
<i style="height:2px;background:linear-gradient(90deg,#faebdd 0,#fae9da 54px,#f7cdb1 104px,#f6bc98 130px,#f59168 167px,#f47c55 178px,#ee543f 190px,#e33541 198px,#cb1b4f 205px,#b11758 210px,#9e1a5b 215px,#9d1a5b 219px,#ac185a 223px,#c61852 227px,#d72549 232px,#db2a46 242px,#d11f4c 262px,#bb1656 282px,#b51657 297px,#b61657 318px,#9b1b5b 339px,#861e5b 360px,#761f58 375px,#3f1b44 403px,#32183b 418px,#2e1838 441px)"></i>
<i style="height:2px;background:linear-gradient(90deg,#faebdd 0,#fae9da 55px,#f7c2a1 120px,#f69d74 155px,#f47d57 174px,#ef5941 186px,#e63a40 194px,#d3214b 201px,#bc1655 206px,#a11a5b 212px,#9a1b5b 215px,#a01a5b 219px,#c31753 226px,#d62449 231px,#db2946 241px,#d11f4c 261px,#ba1656 281px,#b31758 294px,#b31758 319px,#8c1d5b 350px,#781f59 372px,#481c48 397px,#35193e 411px,#2e1838 436px,#2e1838 441px)"></i>
<i style="height:2px;background:linear-gradient(90deg,#faebdd 0,#fae9da 56px,#f7cfb3 100px,#f6a881 142px,#f4865e 166px,#f16647 179px,#eb473e 188px,#db2a46 196px,#c41852 202px,#a11a5b 210px,#991b5b 214px,#a01a5b 218px,#c31753 225px,#d4224a 230px,#da2947 239px,#d2204c 258px,#bb1656 278px,#b01759 293px,#b11758 317px,#991b5b 337px,#871e5b 353px,#761f58 373px,#421b45 400px,#33183c 415px,#2f1839 441px)"></i>
<i style="height:2px;background:linear-gradient(90deg,#faebdd 0,#fae9da 57px,#f7d0b5 97px,#f59a71 150px,#f37550 170px,#ed4d3e 183px,#db2a46 193px,#c31753 200px,#a11a5b 208px,#981b5b 212px,#9e1a5b 216px,#b91657 222px,#cf1d4d 227px,#d82748 234px,#d72549 249px,#c11754 271px,#af1759 288px,#ad1759 319px,#871e5b 351px,#741f58 373px,#3e1b43 402px,#33183c 416px,#31183a 441px)"></i>
<i style="height:2px;background:linear-gradient(90deg,#faebdd 0,#fae9da 58px,#f8d4bc 92px,#f6ab83 130px,#f59269 151px,#f37550 166px,#ed4f3e 179px,#e03043 188px,#c51852 197px,#a21a5b 206px,#991b5b 212px,#a5195b 217px,#c31753 223px,#d5224a 229px,#d92748 241px,#ce1d4e 259px,#b61657 278px,#ac185a 291px,#ab185a 318px,#861e5b 350px,#731f58 373px,#3f1b43 401px,#33183c 416px,#32183b 441px)"></i>
<i style="height:2px;background:linear-gradient(90deg,#faebdd 0,#fae9da 59px,#f8d9c3 86px,#f7c5a5 105px,#f6a880 128px,#f58a61 153px,#f16445 169px,#e9433e 179px,#cc1c4e 192px,#b31758 199px,#a4195b 205px,#9e1a5b 212px,#a6195a 216px,#c61852 223px,#d3214b 228px,#d82748 237px,#d2204c 253px,#b91656 273px,#aa185a 290px,#a8185a 319px,#851e5a 349px,#761f58 370px,#501d4c 390px,#381a40 405px,#33183c 424px,#34193c 441px)"></i>
<i style="height:2px;background:linear-gradient(90deg,#faebdd 0,#fae9da 59px,#f8dac5 84px,#f7c9ab 100px,#f6a77f 124px,#f58860 149px,#f26d4b 162px,#ec4b3e 173px,#d92847 184px,#c41852 191px,#a8185a 200px,#a7195a 209px,#a5195b 214px,#bd1655 220px,#d11f4c 226px,#d82748 235px,#d2204c 252px,#bb1656 270px,#a8185a 289px,#a6195a 318px,#841e5a 349px,#741f58 371px,#451c47 395px,#37193f 407px,#35193d 429px,#35193d 441px)"></i>
<i style="height:2px;background:linear-gradient(90deg,#faebdd 0,#fae9da 60px,#f8dac5 84px,#f7c5a5 102px,#f6a47b 122px,#f47f58 150px,#f16144 163px,#e9433e 172px,#d3214b 183px,#bd1655 190px,#a6195a 198px,#a9185a 202px,#b51657 206px,#b11758 210px,#ab185a 214px,#bb1656 219px,#d01e4d 225px,#d72549 235px,#d3214b 250px,#bb1656 268px,#a7195a 286px,#a4195b 319px,#821e5a 349px,#731f58 371px,#421b45 396px,#35193e 409px,#36193e 441px)"></i>
<i style="height:2px;background:linear-gradient(90deg,#faebdd 0,#fae9da 60px,#f8d7c0 86px,#f7c7a8 99px,#f69e75 122px,#f37550 151px,#ee533f 164px,#e33541 173px,#c71951 184px,#a8185a 193px,#a3195b 198px,#af1759 202px,#c01754 206px,#bf1754 209px,#b11758 213px,#b61657 217px,#cf1d4d 224px,#d72549 235px,#d11f4c 250px,#bb1656 267px,#a5195b 285px,#a3195b 303px,#a11a5b 318px,#801e5a 350px,#731f58 370px,#4f1d4c 389px,#38193f 404px,#35193e 418px,#38193f 441px)"></i>
<i style="height:2px;background:linear-gradient(90deg,#faebdd 0,#fae9da 59px,#f8d7c0 85px,#f7c3a3 100px,#f59970 121px,#f26a49 152px,#eb483e 164px,#d82648 175px,#c01754 183px,#a3195b 192px,#9f1a5b 196px,#b11758 201px,#c41853 205px,#c71951 208px,#b41658 213px,#b91656 217px,#cf1e4d 224px,#d62449 238px,#ce1d4e 252px,#b41658 269px,#a11a5b 288px,#9e1a5b 319px,#801e5a 348px,#721f58 370px,#521e4d 387px,#3b1a41 400px,#34193d 414px,#391a40 441px)"></i>
<i style="height:2px;background:linear-gradient(90deg,#faebdd 0,#fae9da 58px,#f8d5bd 85px,#f6b893 104px,#f58f66 123px,#f16345 151px,#e9433e 162px,#d5234a 173px,#bd1655 181px,#9f1a5b 190px,#9e1a5b 194px,#af1759 199px,#c21753 203px,#c61852 206px,#b51657 213px,#bc1656 217px,#ce1d4e 223px,#d62449 239px,#cb1b4f 253px,#b11758 270px,#9f1a5b 287px,#9c1b5b 318px,#7c1f59 350px,#721f58 369px,#551e4e 385px,#381a40 401px,#34193d 414px,#3a1a41 441px)"></i>
<i style="height:2px;background:linear-gradient(90deg,#faebdd 0,#fae9da 56px,#f8d5bd 83px,#f6b893 102px,#f58d64 121px,#f26e4b 139px,#ee533f 153px,#e23442 164px,#c81951 175px,#ab185a 183px,#9d1a5b 189px,#9e1a5b 193px,#af1759 197px,#c21753 201px,#c61852 204px,#b31758 212px,#c11754 218px,#cf1e4d 224px,#d5224a 242px,#c51852 256px,#a4195b 278px,#9b1b5b 296px,#991b5b 318px,#7b1f59 350px,#701f57 370px,#4c1d4a 389px,#37193f 402px,#35193e 419px,#3a1a41 441px)"></i>
<i style="height:2px;background:linear-gradient(90deg,#faebdd 0,#fae9da 53px,#f8d5bd 80px,#f7c2a2 94px,#f5956c 115px,#f3734e 131px,#ed4f3e 150px,#df2f44 163px,#c31753 174px,#9e1a5b 185px,#9b1b5b 190px,#a9185a 194px,#c41852 200px,#c41852 203px,#b01759 210px,#b61657 214px,#cb1b4f 221px,#d4224a 241px,#c71951 254px,#a7195a 274px,#9a1b5b 290px,#981b5b 317px,#7a1f59 349px,#6e1f57 370px,#3f1b43 396px,#34193d 407px,#3a1a41 441px)"></i>
<i style="height:2px;background:linear-gradient(90deg,#faebdd 0,#fae9da 50px,#f8d5bd 77px,#f6bb97 96px,#f4835b 120px,#f16345 135px,#e9413e 151px,#d4224a 165px,#bb1656 174px,#9b1b5b 184px,#9d1a5b 189px,#b11758 194px,#c41853 198px,#c21753 202px,#ae1759 208px,#b01759 212px,#c81951 219px,#d3214b 237px,#cb1b4f 250px,#b11758 265px,#9b1b5b 284px,#921c5b 320px,#771f59 349px,#6b1f56 371px,#3b1a41 398px,#34193d 409px,#3a1a41 441px)"></i>
<i style="height:2px;background:linear-gradient(90deg,#faebdd 0,#fae9da 47px,#f8d8c1 70px,#f6c19f 89px,#f69e75 107px,#f3714d 125px,#ee533f 138px,#e13342 153px,#c91a50 167px,#ad1759 176px,#9b1b5b 182px,#9a1b5b 186px,#a7195a 190px,#c41853 196px,#c31753 200px,#ac185a 206px,#ab185a 209px,#c81951 219px,#d2204c 240px,#c61852 252px,#a3195b 274px,#961c5b 292px,#911d5b 318px,#741f58 351px,#6a1f56 370px,#3c1a42 397px,#34193d 408px,#381a40 441px)"></i>
<i style="height:2px;background:linear-gradient(90deg,#faebdd 0,#fae9da 44px,#f8dbc6 63px,#f6bf9d 86px,#f6a178 103px,#f26747 126px,#eb493e 138px,#dc2c45 152px,#c11754 167px,#9b1b5b 180px,#9b1b5b 185px,#b11758 190px,#c61852 195px,#c41853 198px,#aa185a 205px,#aa185a 208px,#c61852 217px,#d11f4c 239px,#c61852 251px,#a4195b 272px,#941c5b 291px,#8d1d5b 319px,#721f58 350px,#681f55 369px,#3c1a42 397px,#33183c 409px,#36193e 441px)"></i>
<i style="height:2px;background:linear-gradient(90deg,#faebdd 0,#fae9da 41px,#f9ddc8 58px,#f6b893 87px,#f59269 107px,#f05e42 127px,#e83f3f 138px,#d5234a 152px,#bd1655 166px,#9d1a5b 178px,#9b1b5b 183px,#aa185a 187px,#c41853 192px,#c71951 195px,#ba1656 199px,#aa185a 203px,#a8185a 206px,#c51852 216px,#d01e4d 240px,#c01754 254px,#a01a5b 273px,#921c5b 293px,#8a1d5b 319px,#711f57 348px,#641f54 371px,#37193f 400px,#32183b 419px,#35193d 441px)"></i>
<i style="height:2px;background:linear-gradient(90deg,#faebdd 0,#fae9da 39px,#f9ddc8 55px,#f6af88 88px,#f48059 112px,#ee543f 128px,#e33641 138px,#d01e4d 150px,#b81657 165px,#9b1b5b 177px,#9e1a5b 182px,#c41853 190px,#c81951 193px,#b81657 198px,#a8185a 203px,#ae1759 207px,#c41753 214px,#cd1c4e 232px,#cd1c4e 242px,#ba1656 256px,#9c1b5b 275px,#8e1d5b 297px,#861e5b 319px,#6c1f56 352px,#601f53 371px,#37193f 400px,#31183b 420px,#32193b 441px)"></i>
<i style="height:2px;background:linear-gradient(90deg,#faebdd 0,#fae9da 37px,#f9ddc8 52px,#f6a078 92px,#f3744f 115px,#ed4e3e 128px,#db2946 140px,#c71951 150px,#aa185a 168px,#9a1b5b 176px,#9e1a5b 180px,#c41852 188px,#c91a50 191px,#bf1754 195px,#ab185a 201px,#ae1759 205px,#c41852 213px,#c81951 228px,#cd1c4e 239px,#c11754 251px,#9c1b5b 274px,#8d1d5b 294px,#811e5a 321px,#681f55 352px,#5a1e50 374px,#34193d 403px,#2f1839 437px,#2f1839 441px)"></i>
<i style="height:2px;background:linear-gradient(90deg,#faebdd 0,#fae9da 35px,#f9ddc8 50px,#f6ac84 81px,#f47a54 109px,#ef5840 123px,#e53940 132px,#d01e4d 142px,#bc1656 152px,#a21a5b 169px,#9a1b5b 176px,#a5195a 180px,#c41852 186px,#ca1a50 189px,#c31753 193px,#b01759 198px,#af1759 203px,#c61852 213px,#c61852 226px,#cd1c4e 238px,#bf1654 251px,#9a1b5b 274px,#8a1d5b 297px,#7b1f59 325px,#651f54 352px,#571e4f 374px,#34193d 403px,#2c1837 435px,#2c1837 441px)"></i>
<i style="height:2px;background:linear-gradient(90deg,#faebdd 0,#fae9da 33px,#f9ddc8 48px,#f6af88 75px,#f58960 96px,#f06043 118px,#e8413e 128px,#ce1d4e 140px,#b91657 149px,#991b5b 172px,#9e1a5b 176px,#bc1655 182px,#ca1a50 186px,#c91a50 190px,#b11758 198px,#b71657 204px,#c61852 211px,#c41852 225px,#cb1b4f 238px,#bc1656 252px,#9a1b5b 273px,#861e5b 299px,#741f58 328px,#5f1f52 357px,#4c1d4a 381px,#32183b 406px,#2a1835 434px,#2a1835 441px)"></i>
<i style="height:2px;background:linear-gradient(90deg,#faebdd 0,#fae9da 31px,#f9deca 45px,#f7c2a1 62px,#f59a71 82px,#f37953 101px,#f05f43 116px,#e8413e 126px,#ce1d4e 138px,#b71657 146px,#a6195a 156px,#991b5b 172px,#a5195a 176px,#c61852 182px,#cd1c4e 186px,#bd1655 193px,#b51657 199px,#c71951 210px,#c31753 223px,#ca1a50 237px,#bd1655 250px,#971c5b 275px,#811e5a 303px,#4c1d4a 378px,#2f1839 409px,#271732 437px,#271732 441px)"></i>
<i style="height:2px;background:linear-gradient(90deg,#faebdd 0,#fae9da 29px,#f9e0cc 42px,#f7c7a8 57px,#f69e75 76px,#f47c55 94px,#f05c42 114px,#e9423e 124px,#d11f4c 135px,#b91657 143px,#a6195a 151px,#981b5b 169px,#9f1a5b 173px,#c11754 179px,#cf1d4d 183px,#ca1a50 188px,#bb1656 195px,#c11754 202px,#c91a50 210px,#c21753 222px,#c81951 237px,#bb1656 250px,#951c5b 275px,#771f59 313px,#441c46 383px,#291734 417px,#24162f 441px)"></i>
<i style="height:2px;background:linear-gradient(90deg,#faebdd 0,#fae9da 28px,#f9ddc8 43px,#f6c09e 58px,#f59269 78px,#f3724e 95px,#ee523f 116px,#e33641 126px,#c81951 136px,#ac185a 145px,#9e1a5b 153px,#971c5b 167px,#9f1a5b 171px,#c11754 177px,#cf1d4d 181px,#cd1c4e 186px,#c01754 195px,#ca1a50 209px,#c21753 221px,#c71951 237px,#b61657 252px,#941c5b 275px,#721f58 314px,#3a1a41 392px,#22162e 428px,#21162d 441px)"></i>
<i style="height:2px;background:linear-gradient(90deg,#faebdd 0,#fae9da 27px,#f9deca 40px,#f7ccaf 51px,#f59970 72px,#f37651 88px,#f05c42 105px,#eb463e 118px,#db2a46 128px,#c41853 136px,#9f1a5b 148px,#981b5b 156px,#971c5b 166px,#a7195a 171px,#c61852 176px,#d11f4c 180px,#c51852 195px,#cc1b4f 208px,#c21753 220px,#c41852 238px,#af1759 255px,#8e1d5b 279px,#5b1e51 338px,#2f1839 405px,#1f152b 431px,#1e152a 441px)"></i>
<i style="height:2px;background:linear-gradient(90deg,#faebdd 0,#fae9da 25px,#f9deca 39px,#f7cbae 50px,#f5986f 70px,#f37450 85px,#ef5a41 101px,#e9423e 117px,#d92847 127px,#c21753 135px,#9d1a5b 147px,#951c5b 155px,#981b5b 165px,#ac1859 170px,#ca1a50 175px,#d2204c 179px,#ca1a50 195px,#ce1d4e 206px,#c21753 221px,#c41753 237px,#af1759 254px,#8c1d5b 280px,#631f53 323px,#3c1a42 379px,#2a1735 409px,#1b1428 433px,#1c1428 441px)"></i>
<i style="height:2px;background:linear-gradient(90deg,#faebdd 0,#fae9da 24px,#f9ddc9 38px,#f7c8a9 50px,#f5976e 68px,#f3714d 84px,#ee543f 100px,#e63b40 117px,#d3214b 128px,#bd1655 135px,#9e1a5b 145px,#941c5b 152px,#951c5b 162px,#a11a5b 166px,#c41852 172px,#d11f4c 176px,#cf1d4d 198px,#ce1d4e 207px,#c41753 218px,#c11754 239px,#a11a5b 262px,#6d1f56 305px,#3a1a41 372px,#2d1837 404px,#1a1427 430px,#191326 441px)"></i>
<i style="height:2px;background:linear-gradient(90deg,#faebdd 0,#fae9da 24px,#f9ddc9 37px,#f7c9ab 48px,#f5986f 66px,#f3724e 81px,#ee553f 96px,#e33641 116px,#d11f4c 127px,#b91656 135px,#9c1b5b 145px,#931c5b 152px,#961c5b 161px,#a4195b 165px,#c31753 170px,#d11f4c 174px,#cf1e4d 206px,#c41753 218px,#c01754 238px,#a4195b 259px,#6b1f56 304px,#501d4c 335px,#34193d 376px,#2b1836 403px,#181325 430px,#171224 441px)"></i>
<i style="height:2px;background:linear-gradient(90deg,#faebdd 0,#fae9da 23px,#f9ddc9 36px,#f7cbae 46px,#f5936a 66px,#f3704c 80px,#ee513f 95px,#e23342 114px,#cf1e4d 126px,#b91657 134px,#981b5b 146px,#931c5b 155px,#981b5b 160px,#af1759 165px,#cc1b4f 170px,#d2204c 174px,#d2204c 203px,#c41753 218px,#bd1655 239px,#8c1d5b 275px,#561e4f 319px,#31183b 373px,#291734 403px,#161223 431px,#151122 441px)"></i>
<i style="height:2px;background:linear-gradient(90deg,#faebdd 0,#fae9da 22px,#f9ddc9 35px,#f7c6a7 47px,#f5956c 64px,#f3704c 78px,#ee513f 93px,#e03143 112px,#ca1a50 126px,#ae1759 136px,#971c5b 147px,#931c5b 155px,#9e1a5b 160px,#c11754 166px,#d01e4d 170px,#d5224a 199px,#c41753 218px,#bc1656 239px,#8b1d5b 275px,#531e4d 317px,#2e1838 371px,#261731 405px,#131121 432px,#131121 441px)"></i>
<i style="height:2px;background:linear-gradient(90deg,#faebdd 0,#fae9da 22px,#f8dcc7 35px,#f7c3a3 47px,#f59168 64px,#f3744f 75px,#ee553f 89px,#e33541 106px,#cd1c4e 122px,#b31758 133px,#971c5b 146px,#941c5b 154px,#9e1a5b 158px,#c11754 164px,#d01e4d 168px,#d62449 197px,#c51852 216px,#b91657 240px,#861e5b 277px,#4e1d4b 316px,#2a1734 371px,#23162f 404px,#121020 433px,#11101f 441px)"></i>
<i style="height:2px;background:linear-gradient(90deg,#faebdd 0,#fae9da 21px,#f9ddc9 33px,#f7c6a7 45px,#f5936a 62px,#f3724e 74px,#ee513f 90px,#e13342 105px,#c81951 121px,#aa185a 135px,#971c5b 145px,#961c5b 153px,#9e1a5b 156px,#c11754 162px,#d01e4d 166px,#d62449 197px,#c51852 215px,#b71657 240px,#831e5a 277px,#481c48 317px,#251630 373px,#20152c 405px,#11101f 433px,#10101f 441px)"></i>
<i style="height:2px;background:linear-gradient(90deg,#faebdd 0,#fae9da 21px,#f8dac5 34px,#f7c3a3 45px,#f59067 62px,#f26d4b 75px,#ec4c3e 91px,#dd2c45 106px,#c71951 119px,#a8185a 134px,#951c5b 146px,#981b5b 152px,#af1759 157px,#ca1a50 162px,#d3214b 166px,#d3214b 179px,#d72549 193px,#c41753 216px,#b61657 239px,#8c1d5b 270px,#561e4f 303px,#3d1a42 323px,#21162d 375px,#1d1429 407px,#10101e 433px,#0f0f1e 441px)"></i>
<i style="height:2px;background:linear-gradient(90deg,#faebdd 0,#fae9da 20px,#f8dcc7 32px,#f7c6a7 43px,#f59067 61px,#f3724e 72px,#ee513f 88px,#e13243 102px,#c81951 115px,#aa185a 130px,#961c5b 144px,#981b5b 149px,#a4195b 153px,#c21753 158px,#d11f4c 162px,#d3214b 167px,#d4224a 178px,#d62449 195px,#c51852 214px,#b41658 240px,#801e5a 276px,#4c1d4b 306px,#37193f 324px,#1d1429 376px,#1a1327 407px,#0f0f1d 435px,#0f0f1d 441px)"></i>
<i style="height:2px;background:linear-gradient(90deg,#faebdd 0,#fae9da 20px,#f8d9c3 33px,#f6bc98 46px,#f58b62 62px,#f26d4b 73px,#ed4d3e 89px,#df2f44 102px,#c71951 113px,#a7195a 129px,#951c5b 143px,#9a1b5b 148px,#b71657 154px,#cc1b4f 158px,#d5224a 162px,#d5234a 178px,#d5234a 194px,#c41753 214px,#af1759 242px,#7b1f59 277px,#461c48 307px,#33193c 322px,#1a1327 377px,#171224 409px,#0e0f1c 436px,#0e0f1c 441px)"></i>
<i style="height:2px;background:linear-gradient(90deg,#faebdd 0,#fae9da 19px,#f9ddc8 30px,#f7c2a1 43px,#f58b63 61px,#f26b49 73px,#ec4b3e 89px,#dd2d45 101px,#c41852 112px,#a6195a 126px,#951c5b 141px,#9e1a5b 147px,#bf1754 153px,#d11f4c 157px,#d62449 163px,#d62449 178px,#d5224a 193px,#c31753 214px,#ac185a 243px,#771f59 277px,#451c47 305px,#31183b 320px,#161224 377px,#151222 409px,#0e0f1c 438px,#0e0f1c 441px)"></i>
<i style="height:2px;background:linear-gradient(90deg,#faebdd 0,#fae9da 19px,#f8d6be 33px,#f6af88 49px,#f4845c 63px,#f26747 74px,#eb483e 89px,#db2a46 101px,#c51852 110px,#a5195b 123px,#951c5b 138px,#9c1b5b 144px,#ba1656 150px,#cf1d4d 154px,#d82648 159px,#d62449 190px,#c31753 212px,#ae1759 239px,#801e5a 270px,#4e1d4b 297px,#2f1839 317px,#131121 377px,#10101f 416px,#0d0e1c 441px)"></i>
<i style="height:2px;background:linear-gradient(90deg,#faebdd 0,#fae9da 18px,#f8dac4 30px,#f6b894 45px,#f58b63 60px,#f26848 73px,#eb483e 88px,#db2a46 100px,#c61852 108px,#a4195b 121px,#951c5b 135px,#981b5b 140px,#aa185a 145px,#c21753 149px,#d62449 154px,#d92847 161px,#d62449 189px,#c41753 210px,#a9185a 241px,#731f58 275px,#421b45 301px,#2f1839 314px,#21162d 338px,#10101f 378px,#0e0e1c 441px)"></i>
<i style="height:2px;background:linear-gradient(90deg,#faebdd 0,#fae9da 18px,#f8d4bc 32px,#f6ab83 49px,#f47d57 64px,#f05e42 77px,#e73e3f 91px,#d3214b 102px,#bc1656 110px,#9e1a5b 121px,#951c5b 133px,#981b5b 138px,#aa185a 143px,#c81951 148px,#d92748 153px,#dc2c45 170px,#d3214b 191px,#c11754 212px,#a9185a 239px,#721f58 273px,#421b45 299px,#2b1835 314px,#1d1429 342px,#0e0f1d 377px,#0e0f1c 441px)"></i>
<i style="height:2px;background:linear-gradient(90deg,#faebdd 0,#fae9da 17px,#f8d4bc 31px,#f6af88 47px,#f48059 63px,#f16144 75px,#e9413e 88px,#d5224a 100px,#bd1655 108px,#9e1a5b 119px,#951c5b 127px,#961c5b 135px,#a5195a 140px,#c41853 145px,#d5234a 149px,#dc2c45 154px,#df2f44 167px,#d3214b 191px,#c11754 209px,#a7195a 238px,#731f58 270px,#421b45 296px,#2b1835 311px,#1d1429 332px,#0e0f1c 376px,#0e0f1c 441px)"></i>
<i style="height:2px;background:linear-gradient(90deg,#faebdd 0,#fae9da 16px,#f8d3ba 31px,#f6a880 49px,#f37651 66px,#ee553f 79px,#e43841 90px,#cb1b4f 102px,#b11758 110px,#9b1b5b 119px,#931c5b 129px,#991b5b 135px,#b01759 140px,#c91a50 144px,#d82748 148px,#e23442 161px,#dd2d45 174px,#d2204c 192px,#be1655 211px,#a4195b 238px,#6e1f57 270px,#3e1b43 296px,#251630 314px,#181325 338px,#0e0f1c 374px,#0e0f1c 441px)"></i>
<i style="height:2px;background:linear-gradient(90deg,#faebdd 0,#fae9da 15px,#f8d3ba 30px,#f6a178 51px,#f3714d 68px,#ed4f3e 80px,#de2e44 92px,#c51852 102px,#a01a5b 114px,#941c5b 123px,#961c5b 131px,#a01a5b 135px,#c21753 141px,#d62449 145px,#e43741 158px,#e43741 167px,#d2204c 192px,#be1655 210px,#a01a5b 238px,#6a1f56 269px,#391a40 296px,#21152c 315px,#161223 339px,#0e0f1c 373px,#0e0f1c 441px)"></i>
<i style="height:2px;background:linear-gradient(90deg,#faebdd 0,#fae9da 13px,#f8dcc7 24px,#f6b48f 43px,#f4845d 61px,#f05b41 75px,#e73e3f 84px,#ce1d4e 97px,#b51657 105px,#991b5b 116px,#921c5b 124px,#991b5b 131px,#a9185a 135px,#c71951 140px,#d82648 144px,#e73d3f 161px,#e43741 169px,#d4224a 191px,#c01754 207px,#9d1a5b 238px,#641f54 269px,#32183b 298px,#1c1428 318px,#0e0f1c 363px,#0e0f1c 441px)"></i>
<i style="height:2px;background:linear-gradient(90deg,#faebdd 0,#fae9da 12px,#f8dac5 24px,#f6a47c 49px,#f3714d 68px,#ed4d3e 78px,#dc2b46 89px,#c81951 97px,#ac185a 106px,#981b5b 115px,#931c5b 124px,#9c1b5b 130px,#ba1656 136px,#d4224a 141px,#e03143 150px,#e8403f 159px,#e73e3f 167px,#e03043 177px,#d72549 189px,#c11754 205px,#9d1a5b 235px,#671f55 264px,#32193b 295px,#181325 319px,#0e0f1c 366px,#0e0f1c 441px)"></i>
<i style="height:2px;background:linear-gradient(90deg,#faeadc 0,#fae7d7 13px,#f8d5bd 26px,#f6a178 50px,#f37651 66px,#ee533f 76px,#e23442 84px,#ca1a50 94px,#af1759 103px,#981b5b 113px,#931c5b 122px,#9c1b5b 128px,#b91656 134px,#d3214b 139px,#dd2d45 146px,#ea433e 160px,#e8403f 168px,#e13243 180px,#d01e4d 195px,#b91656 210px,#961c5b 237px,#611f53 264px,#32183b 292px,#181325 316px,#10101e 345px,#0e0f1c 441px)"></i>
<i style="height:2px;background:linear-gradient(90deg,#fae9da 0,#fae6d5 13px,#f8d5bd 25px,#f6a47c 48px,#f47d56 64px,#ee533f 75px,#e33641 82px,#c81951 92px,#ab185a 102px,#981b5b 111px,#931c5b 120px,#9a1b5b 125px,#b41758 131px,#ca1a50 135px,#d92748 140px,#e43841 151px,#ea453e 160px,#ea433e 168px,#db2a46 188px,#c41753 202px,#991b5b 232px,#6d1f56 255px,#451c47 276px,#22162d 303px,#121120 324px,#0e0f1c 378px,#0e0f1c 441px)"></i>
<i style="height:2px;background:linear-gradient(90deg,#fae8d8 0,#f9e4d3 13px,#f7cfb4 27px,#f6a981 45px,#f4835b 62px,#ef5a41 73px,#e73e3f 79px,#d2204c 87px,#be1655 93px,#9f1a5b 104px,#931c5b 113px,#971c5b 121px,#a5195a 126px,#c51852 132px,#d72549 137px,#e33541 149px,#eb463e 159px,#eb463e 168px,#df2f44 186px,#c71951 200px,#a6195a 220px,#891e5b 239px,#511e4d 265px,#32183b 286px,#141122 316px,#0e0f1c 355px,#0e0f1c 441px)"></i>
<i style="height:2px;background:linear-gradient(90deg,#fae6d5 0,#f9e4d3 11px,#f8d7bf 22px,#f6a880 45px,#f4825a 62px,#f05c42 72px,#e73e3f 78px,#cd1c4e 87px,#b41758 94px,#9c1b5b 103px,#931c5b 112px,#981b5b 119px,#a7195a 124px,#c71951 130px,#d92748 136px,#e13342 147px,#eb463e 158px,#eb483e 169px,#e13342 185px,#c71951 199px,#a9185a 215px,#881e5b 237px,#531e4d 261px,#35193d 279px,#131121 315px,#0e0f1c 354px,#0e0f1c 441px)"></i>
<i style="height:2px;background:linear-gradient(90deg,#f9e4d3 0,#f9e2d0 11px,#f8d6be 21px,#f6a881 44px,#f4815a 62px,#f05f43 71px,#e8403f 77px,#d2204c 84px,#bf1754 89px,#9e1a5b 99px,#931c5b 108px,#941c5b 115px,#a4195b 121px,#c21753 127px,#d5234a 132px,#e33641 148px,#eb463e 158px,#ec4a3e 169px,#e53940 182px,#cf1e4d 195px,#b81657 205px,#971c5b 225px,#7c1f59 240px,#421b45 266px,#2c1836 283px,#10101f 317px,#0e0f1c 438px,#0e0f1c 441px)"></i>
<i style="height:2px;background:linear-gradient(90deg,#f9e3d1 0,#f9e0cd 11px,#f8d3ba 22px,#f6a881 43px,#f4835b 61px,#f16144 70px,#ea453e 75px,#d2204c 83px,#bd1655 88px,#9f1a5b 96px,#941c5b 104px,#931c5b 112px,#9e1a5b 117px,#c41852 125px,#d62449 130px,#e23442 146px,#eb483e 160px,#eb483e 173px,#e03143 186px,#c61852 198px,#a4195b 213px,#7b1f59 238px,#481c48 260px,#2f1839 275px,#10101f 314px,#0e0f1c 387px,#0e0f1c 441px)"></i>
<i style="height:2px;background:linear-gradient(90deg,#f9e1cf 0,#f9dfcb 11px,#f8d3ba 21px,#f6a77f 43px,#f4845c 60px,#f16345 69px,#e9413e 75px,#cd1c4e 83px,#b71657 88px,#9d1a5b 95px,#921c5b 104px,#941c5b 111px,#a11a5b 116px,#c11754 122px,#d5224a 127px,#dc2b46 136px,#eb483e 162px,#eb483e 173px,#df2f44 186px,#c61852 197px,#a4195b 210px,#761f58 238px,#421b45 260px,#2f1839 271px,#10101f 312px,#0e0f1c 360px,#0e0f1c 441px)"></i>
<i style="height:2px;background:linear-gradient(90deg,#f9e0cc 0,#f9ddc8 12px,#f7ceb2 23px,#f6a77f 42px,#f4815a 60px,#f05f43 69px,#ea433e 74px,#d2204c 81px,#ba1656 86px,#9e1a5b 93px,#941c5b 98px,#931c5b 109px,#a5195a 115px,#c21753 120px,#d62449 125px,#dc2c45 134px,#eb483e 163px,#ea453e 174px,#e03043 185px,#c41852 196px,#9e1a5b 210px,#721f58 237px,#401b44 258px,#2d1837 269px,#10101e 310px,#0e0f1c 441px)"></i>
<i style="height:2px;background:linear-gradient(90deg,#f9deca 0,#f8dbc6 12px,#f7ccb0 23px,#f6a077 44px,#f4845c 58px,#f05f43 68px,#ea433e 73px,#d3214b 80px,#bf1754 84px,#a01a5b 91px,#921c5b 97px,#941c5b 108px,#a01a5b 112px,#c21753 118px,#d62449 123px,#e8403e 154px,#eb463e 168px,#e63c3f 178px,#d4224a 189px,#bf1754 196px,#971c5b 210px,#6d1f56 237px,#3f1b43 256px,#2b1836 267px,#151122 297px,#0e0f1c 322px,#0e0f1c 441px)"></i>
<i style="height:2px;background:linear-gradient(90deg,#f9ddc8 0,#f8dac4 12px,#f7cbae 23px,#f69f76 44px,#f47d56 59px,#ef5a41 68px,#e83f3f 73px,#ce1d4e 80px,#b51657 85px,#9c1b5b 91px,#921c5b 97px,#941c5b 106px,#a01a5b 110px,#c21753 116px,#d3214b 120px,#dc2c45 127px,#e8403e 154px,#e9413e 171px,#dd2c45 183px,#c31753 193px,#981b5b 206px,#801e5a 220px,#671f55 237px,#37193f 257px,#24162f 270px,#0f0f1d 307px,#0e0f1c 441px)"></i>
<i style="height:2px;background:linear-gradient(90deg,#f8dbc6 0,#f8d8c1 12px,#f7ccaf 22px,#f59a71 45px,#f37752 59px,#ee543f 68px,#e53940 73px,#cf1d4d 79px,#b51657 84px,#9c1b5b 90px,#921c5b 96px,#941c5b 104px,#a4195b 109px,#c21753 114px,#d3214b 118px,#df2f44 128px,#e73e3f 144px,#e8403f 165px,#e33541 176px,#d11f4c 186px,#bb1656 193px,#901d5b 206px,#791f59 219px,#611f53 237px,#31183a 258px,#1c1428 276px,#0d0e1c 311px,#0e0f1c 441px)"></i>
<i style="height:2px;background:linear-gradient(90deg,#f8dac4 0,#f8d7bf 12px,#f7c9aa 23px,#f59067 48px,#f26d4b 60px,#ec4c3e 68px,#db2946 75px,#c51852 80px,#a01a5b 88px,#931c5b 93px,#941c5b 102px,#a01a5b 106px,#c21753 112px,#d62449 117px,#e8403f 139px,#e73e3f 164px,#df2f44 176px,#cc1b4f 185px,#b11758 193px,#881e5b 205px,#761f58 214px,#5e1f52 235px,#36193e 253px,#1e152a 269px,#10101e 298px,#0e0f1c 441px)"></i>
<i style="height:2px;background:linear-gradient(90deg,#f8d8c1 0,#f8d6be 11px,#f7cbae 21px,#f6a47b 39px,#f3714d 57px,#ed4e3e 66px,#e03143 72px,#c41853 79px,#a01a5b 87px,#941c5b 92px,#931c5b 99px,#9c1b5b 103px,#c21753 110px,#d62449 115px,#e53840 129px,#ea433e 140px,#e73e3f 159px,#dc2b46 174px,#cc1b4f 182px,#b21758 190px,#7e1f5a 205px,#6d1f56 214px,#581e4f 235px,#32183b 253px,#1c1428 269px,#10101f 293px,#0e0e1c 362px,#0e0f1c 441px)"></i>
<i style="height:2px;background:linear-gradient(90deg,#f8d7bf 0,#f8d4bc 11px,#f7c9ab 21px,#f6a67e 37px,#f37450 54px,#ed4e3e 64px,#df2f44 71px,#c81951 77px,#ab185a 83px,#981b5b 89px,#931c5b 96px,#9e1a5b 101px,#bd1655 107px,#d11f4c 111px,#da2947 117px,#e53940 127px,#eb473e 138px,#e9423e 152px,#de2e44 169px,#c91a50 180px,#ae1759 188px,#781f59 203px,#651f54 212px,#511e4d 235px,#2c1836 254px,#171224 271px,#0e0f1c 307px,#0e0f1c 441px)"></i>
<i style="height:2px;background:linear-gradient(90deg,#f8d5bd 0,#f8d3ba 11px,#f7c8a9 21px,#f6a77f 36px,#f26f4c 54px,#ec4a3e 63px,#da2947 71px,#c21753 77px,#9e1a5b 85px,#931c5b 92px,#981b5b 97px,#ad1759 102px,#c91a50 107px,#d62449 112px,#e13342 122px,#eb493e 134px,#eb493e 145px,#e23342 162px,#cd1c4e 175px,#b41658 183px,#821e5a 196px,#631f53 207px,#561e4f 219px,#4b1d4a 235px,#261731 256px,#131121 273px,#0e0f1c 317px,#0e0f1c 441px)"></i>
<i style="height:2px;background:linear-gradient(90deg,#f8d4bb 0,#f8d1b8 11px,#f7c5a5 22px,#f6a279 37px,#f26747 54px,#ec4a3e 61px,#d82648 70px,#bf1754 76px,#9e1a5b 84px,#951c5b 89px,#981b5b 94px,#a01a5b 97px,#c51852 104px,#d3214b 108px,#e13243 120px,#eb473e 129px,#ed4d3e 139px,#eb463e 149px,#dc2c45 164px,#c41852 175px,#a01a5b 185px,#6c1f56 199px,#561e4f 208px,#4c1d4a 221px,#451c47 235px,#181325 264px,#0f0f1e 283px,#0e0f1c 441px)"></i>
<i style="height:2px;background:linear-gradient(90deg,#f8d2b9 0,#f7cfb4 12px,#f6c09e 24px,#f69d74 38px,#f16646 53px,#eb463e 60px,#d5234a 69px,#c11754 74px,#9d1a5b 83px,#951c5b 88px,#991b5b 93px,#a9185a 97px,#c71951 102px,#d62449 107px,#e03143 118px,#eb493e 128px,#ed503e 140px,#ea443e 150px,#da2947 163px,#c01754 173px,#8e1d5b 186px,#591e50 201px,#471c48 212px,#3f1b43 235px,#161223 264px,#0f0f1d 284px,#0e0f1c 441px)"></i>
<i style="height:2px;background:linear-gradient(90deg,#f7d0b5 0,#f7ceb2 12px,#f6c09e 23px,#f6a077 36px,#f37450 48px,#ed503e 56px,#e13342 63px,#c71951 71px,#a9185a 78px,#981b5b 84px,#961c5b 89px,#a6195a 95px,#c61852 100px,#d3214b 103px,#e03043 116px,#ed4d3e 129px,#ee513f 139px,#ec4a3e 146px,#e03043 158px,#c81951 168px,#aa185a 176px,#751f58 189px,#4c1d4a 202px,#3e1b43 211px,#381a40 235px,#121020 266px,#0e0f1c 302px,#0e0f1c 441px)"></i>
<i style="height:2px;background:linear-gradient(90deg,#f7ceb2 0,#f7ccb0 11px,#f6bd9a 23px,#f6a47b 34px,#f37852 46px,#ee533f 54px,#e13342 61px,#c71951 69px,#aa185a 76px,#971c5b 83px,#9a1b5b 89px,#aa185a 94px,#c71951 99px,#d62449 103px,#e03043 114px,#ec4c3e 127px,#ee523f 137px,#eb483e 147px,#dd2c45 158px,#c41853 167px,#9a1b5b 177px,#611f53 191px,#421b45 201px,#35193d 210px,#32183b 237px,#10101f 267px,#0e0f1c 330px,#0e0f1c 441px)"></i>
<i style="height:2px;background:linear-gradient(90deg,#f7cbae 0,#f7c9ab 12px,#f6bc98 23px,#f59a71 36px,#f26a49 48px,#ec4c3e 54px,#db2946 62px,#c41852 68px,#9e1a5b 78px,#971c5b 83px,#9f1a5b 89px,#bd1655 96px,#d62449 102px,#e43741 115px,#ed503e 129px,#ed503e 140px,#e63c3f 151px,#d4224a 160px,#bf1754 166px,#8e1d5b 177px,#541e4e 191px,#38193f 201px,#2e1838 211px,#2d1837 238px,#0f0f1e 267px,#0e0f1c 441px)"></i>
<i style="height:2px;background:linear-gradient(90deg,#f7c9ab 0,#f7c6a7 12px,#f6b894 23px,#f5966d 36px,#f26948 47px,#ec4b3e 53px,#d92847 61px,#c71951 66px,#a8185a 73px,#981b5b 79px,#991b5b 84px,#af1759 91px,#c91a50 97px,#d92748 103px,#eb473e 122px,#ed503e 132px,#ec4b3e 142px,#e13243 153px,#c71951 162px,#a9185a 169px,#741f58 180px,#451c47 192px,#31183b 200px,#281733 209px,#291734 238px,#0f0f1d 266px,#0e0f1c 441px)"></i>
<i style="height:2px;background:linear-gradient(90deg,#f7c5a6 0,#f7c3a3 12px,#f6b691 22px,#f5986f 34px,#f37752 43px,#ee553f 50px,#e43841 56px,#c81951 64px,#ad1759 70px,#991b5b 77px,#981b5b 81px,#a9185a 87px,#c61852 94px,#d92847 101px,#eb463e 120px,#ed4d3e 132px,#eb493e 140px,#e13342 151px,#c81951 160px,#ae1759 166px,#7b1f59 176px,#411b45 190px,#2b1836 199px,#22162d 211px,#261731 237px,#0e0f1c 266px,#0e0f1c 441px)"></i>
<i style="height:2px;background:linear-gradient(90deg,#f7c2a1 0,#f6c09e 11px,#f6b28c 22px,#f59067 35px,#f16445 46px,#ea453e 52px,#d3214b 60px,#bd1655 65px,#9e1a5b 73px,#981b5b 78px,#a3195b 83px,#c41852 91px,#d92847 98px,#e8403e 114px,#ec4b3e 130px,#e8413e 142px,#db2946 152px,#c01754 160px,#8f1d5b 170px,#551e4e 182px,#32183b 192px,#1f152b 204px,#1d1429 217px,#23162e 237px,#0e0f1c 265px,#0e0f1c 441px)"></i>
<i style="height:2px;background:linear-gradient(90deg,#f6be9b 0,#f6bb97 12px,#f6ad86 22px,#f58e65 34px,#f05f43 46px,#e9413e 52px,#cf1e4d 60px,#bc1656 64px,#9e1a5b 71px,#981b5b 76px,#a3195b 81px,#c21753 88px,#da2947 95px,#e8403f 109px,#eb473e 127px,#e73d3f 140px,#d62449 151px,#c01754 158px,#8f1d5b 168px,#541e4e 180px,#33193c 189px,#1c1428 202px,#191326 216px,#1f152b 237px,#0e0f1c 266px,#0e0f1c 441px)"></i>
<i style="height:2px;background:linear-gradient(90deg,#f6ba96 0,#f6b792 12px,#f6a077 26px,#f37651 39px,#ee553f 47px,#e53840 53px,#ca1a50 60px,#b01759 65px,#9b1b5b 71px,#991b5b 75px,#ac1859 81px,#c91a50 87px,#e03043 95px,#e8403f 105px,#ea443e 121px,#e53940 137px,#d62449 148px,#c21753 155px,#941c5b 165px,#581e4f 177px,#32183b 187px,#1c1428 199px,#151122 211px,#1d1429 238px,#0e0f1c 265px,#0e0f1c 441px)"></i>
<i style="height:2px;background:linear-gradient(90deg,#f6b590 0,#f6b28c 12px,#f69b72 25px,#f3744f 38px,#ed4f3e 47px,#e03043 54px,#ca1a50 59px,#af1759 64px,#9d1a5b 69px,#9c1b5b 74px,#b21758 80px,#ca1a50 85px,#e03043 92px,#e9413e 102px,#ea443e 115px,#e33641 133px,#d5234a 145px,#bc1655 154px,#881e5b 165px,#4f1d4c 177px,#2f1839 186px,#171225 199px,#11101f 212px,#1b1427 238px,#0e0f1c 264px,#0e0f1c 441px)"></i>
<i style="height:2px;background:linear-gradient(90deg,#f6b18a 0,#f6ae87 11px,#f69b71 23px,#f3714d 37px,#ed4f3e 46px,#e13342 53px,#cc1b4f 58px,#b31758 62px,#a01a5b 66px,#9a1b5b 70px,#a5195a 75px,#c41853 81px,#dd2d45 88px,#e9423e 97px,#eb473e 107px,#e63a40 124px,#d62449 140px,#bc1655 151px,#8c1d5b 162px,#541e4e 174px,#32193b 183px,#181325 196px,#0f0f1e 208px,#181325 238px,#0e0f1c 264px,#0e0f1c 441px)"></i>
<i style="height:2px;background:linear-gradient(90deg,#f6ac84 0,#f6a981 11px,#f5966d 22px,#f26d4b 36px,#ed4e3e 45px,#e03143 53px,#cb1b4f 58px,#b71657 61px,#a01a5b 65px,#9c1b5b 68px,#a3195b 72px,#c51852 79px,#dd2c45 85px,#ea443e 94px,#ec4a3e 103px,#e9413e 115px,#d82648 134px,#c21753 145px,#9c1b5b 156px,#651f54 168px,#34193d 180px,#181325 194px,#0f0f1d 206px,#131121 228px,#141122 243px,#0e0f1c 267px,#0e0f1c 441px)"></i>
<i style="height:2px;background:linear-gradient(90deg,#f6a880 0,#f6a47b 12px,#f58f66 23px,#f06043 38px,#e9413e 48px,#da2947 55px,#c61852 59px,#a5195b 64px,#9e1a5b 67px,#ac1859 72px,#c71951 77px,#dc2c45 82px,#e9423e 89px,#ed4d3e 97px,#ec4a3e 107px,#de2e44 125px,#c41852 140px,#9f1a5b 152px,#681f55 165px,#34193d 178px,#171224 193px,#0e0e1c 207px,#131121 242px,#0e0f1c 270px,#0e0f1c 441px)"></i>
<i style="height:2px;background:linear-gradient(90deg,#f6a47b 0,#f6a077 11px,#f58e65 21px,#f05d42 37px,#e8403f 48px,#dc2c45 55px,#c51852 60px,#aa185a 65px,#a7195a 68px,#c41852 74px,#df2f44 80px,#eb463e 87px,#ee513f 95px,#ec4c3e 105px,#df2f44 121px,#c41853 136px,#9c1b5b 149px,#651f54 163px,#2f1839 178px,#141122 194px,#0e0f1c 207px,#11101f 245px,#0e0f1c 280px,#0e0f1c 441px)"></i>
<i style="height:2px;background:linear-gradient(90deg,#f6a077 0,#f69d74 11px,#f5875f 22px,#f05e42 35px,#ea433e 45px,#dd2c45 56px,#c41853 62px,#b61657 66px,#b91656 69px,#cd1c4e 73px,#e43841 79px,#ed4e3e 86px,#ee553f 95px,#ec4c3e 105px,#dd2d45 120px,#c41852 132px,#9e1a5b 145px,#661f54 160px,#35193d 174px,#171224 190px,#0e0e1c 203px,#0f0f1d 250px,#0e0f1c 441px)"></i>
<i style="height:2px;background:linear-gradient(90deg,#f69d74 0,#f59a71 11px,#f4855d 21px,#f05f43 33px,#ea453e 43px,#e23442 55px,#cb1b4f 64px,#c91a50 68px,#d5234a 72px,#e8413f 78px,#ee513f 83px,#ef5941 91px,#ee523f 101px,#e63c3f 112px,#cd1c4e 126px,#b31758 135px,#7f1e5a 150px,#471c48 166px,#2e1838 175px,#161223 190px,#0e0f1c 203px,#0e0f1c 254px,#0e0f1c 441px)"></i>
<i style="height:2px;background:linear-gradient(90deg,#f69b72 0,#f5976e 11px,#f4855d 20px,#f05b41 33px,#ea433e 43px,#e33541 58px,#d82748 66px,#df3044 71px,#ed4d3e 78px,#ef5a41 83px,#f05c42 93px,#ed4e3e 103px,#e03043 115px,#c51852 126px,#a21a5b 137px,#6c1f56 152px,#34193c 170px,#191326 186px,#0d0e1c 201px,#0e0f1c 441px)"></i>
<i style="height:2px;background:linear-gradient(90deg,#f69b71 0,#f5956c 12px,#f47d57 22px,#ef5941 33px,#ea453e 41px,#e8403f 51px,#e63b40 62px,#e53940 67px,#eb493e 73px,#f05e42 80px,#f06043 91px,#ee543f 100px,#e43741 111px,#c81951 123px,#aa185a 132px,#761f58 146px,#391a40 165px,#1a1327 183px,#0e0f1c 199px,#0e0f1c 441px)"></i>
<i style="height:2px;background:linear-gradient(90deg,#f69b71 0,#f5966c 11px,#f4835b 20px,#f06043 31px,#eb483e 39px,#e9413e 47px,#ec4c3e 67px,#f16646 81px,#f16244 91px,#ec4a3e 103px,#db2a46 114px,#c21753 123px,#941c5b 135px,#5a1e50 151px,#34193d 164px,#191326 183px,#0e0f1c 199px,#0e0f1c 441px)"></i>
<i style="height:2px;background:linear-gradient(90deg,#f69b72 0,#f5976e 11px,#f4815a 21px,#f05d42 32px,#eb473e 41px,#eb473e 51px,#f16445 73px,#f26a49 83px,#f05f43 93px,#e9413e 105px,#d3214b 116px,#bc1656 123px,#8c1d5b 135px,#501d4c 151px,#30183a 163px,#171224 183px,#0e0f1c 204px,#0e0f1c 441px)"></i>
<i style="height:2px;background:linear-gradient(90deg,#f69d74 0,#f69d74 8px,#f58c63 18px,#f05f43 32px,#ed4d3e 40px,#eb493e 47px,#f16646 68px,#f26e4b 79px,#f16445 90px,#eb493e 101px,#d92748 112px,#c11754 120px,#901d5b 132px,#561e4f 147px,#33183c 159px,#1a1327 177px,#0e0f1c 200px,#0e0f1c 441px)"></i>
<i style="height:2px;background:linear-gradient(90deg,#f6a279 0,#f69e75 11px,#f58860 21px,#f16244 33px,#ed4f3e 42px,#ee543f 52px,#f26e4b 70px,#f26f4c 81px,#f05d42 92px,#e73e3f 103px,#cd1c4e 115px,#b41758 122px,#811e5a 134px,#481c48 149px,#2f1839 159px,#191326 176px,#0e0f1c 199px,#0e0f1c 441px)"></i>
<i style="height:2px;background:linear-gradient(90deg,#f6a67e 0,#f6a47c 10px,#f59067 20px,#f26747 33px,#ef5640 42px,#ef5941 51px,#f3724e 69px,#f3714d 79px,#f05d42 91px,#e83f3f 101px,#ce1d4e 113px,#b51657 120px,#831e5a 132px,#491d49 147px,#2f1839 157px,#171224 177px,#0e0f1c 200px,#0e0f1c 441px)"></i>
<i style="height:2px;background:linear-gradient(90deg,#f6ac84 0,#f6ab83 9px,#f69b71 19px,#f26f4c 33px,#f05c42 43px,#f16345 54px,#f3734e 68px,#f26f4c 79px,#ee553f 92px,#e33641 102px,#c81951 113px,#ab185a 121px,#751f58 134px,#3f1b43 149px,#291734 159px,#131121 180px,#0e0f1c 211px,#0e0f1c 441px)"></i>
<i style="height:2px;background:linear-gradient(90deg,#f6b18b 0,#f6b18b 9px,#f6a47c 18px,#f3734e 35px,#f16445 43px,#f26848 55px,#f37450 70px,#f26747 82px,#eb483e 94px,#d72549 106px,#c21753 113px,#911d5b 126px,#581e50 140px,#31183b 153px,#1a1327 169px,#0f0f1d 191px,#0e0f1c 441px)"></i>
<i style="height:2px;background:linear-gradient(90deg,#f6b893 0,#f6b893 10px,#f6a77f 20px,#f37852 36px,#f26b49 43px,#f26c4a 55px,#f3734e 68px,#f26a49 78px,#ed4e3e 90px,#df2f44 100px,#c51852 110px,#a3195b 120px,#6b1f56 134px,#38193f 149px,#1e152a 164px,#10101e 185px,#0e0f1c 441px)"></i>
<i style="height:2px;background:linear-gradient(90deg,#f6be9b 0,#f6be9b 10px,#f6b48e 18px,#f59269 30px,#f47a54 39px,#f3704c 47px,#f3714d 69px,#f16445 79px,#e9423e 91px,#d11f4c 104px,#b91657 112px,#891e5b 125px,#501d4c 140px,#31183b 151px,#191326 168px,#0f0f1d 188px,#0e0f1c 441px)"></i>
<i style="height:2px;background:linear-gradient(90deg,#f7c2a2 0,#f7c4a4 11px,#f6ba96 19px,#f58860 36px,#f37752 45px,#f26c4a 70px,#ef5840 81px,#e63a40 91px,#ca1a50 104px,#ae1759 113px,#781f59 128px,#411b45 144px,#281733 155px,#121120 176px,#0e0f1c 209px,#0e0f1c 441px)"></i>
<i style="height:2px;background:linear-gradient(90deg,#f7c8a9 0,#f7caac 12px,#f6bf9d 20px,#f69c73 32px,#f4845d 40px,#f37651 51px,#f26747 70px,#ec4c3e 82px,#db2a46 94px,#c41852 103px,#9f1a5b 115px,#681f55 131px,#34193d 148px,#1a1327 166px,#0e0f1c 186px,#0e0f1c 441px)"></i>
<i style="height:2px;background:linear-gradient(90deg,#f7ccaf 0,#f7cfb4 11px,#f7caac 18px,#f6b48f 27px,#f59269 37px,#f47e57 46px,#f16244 69px,#ea453e 81px,#d4224a 94px,#bd1655 103px,#8d1d5b 118px,#571e4f 135px,#31183b 149px,#181325 168px,#0e0f1c 186px,#0e0f1c 441px)"></i>
<i style="height:2px;background:linear-gradient(90deg,#f7cfb3 0,#f8d4bb 13px,#f7cdb1 20px,#f6b893 28px,#f5936a 38px,#f37852 50px,#ef5a41 69px,#e63a40 81px,#c91a50 95px,#ac1859 105px,#761f58 123px,#3f1b44 142px,#23162f 157px,#11101f 176px,#0e0f1c 216px,#0e0f1c 441px)"></i>
<i style="height:2px;background:linear-gradient(90deg,#f7d0b5 0,#f8d8c1 14px,#f8d3ba 20px,#f6c09e 27px,#f59a71 37px,#f47f58 46px,#ef5a41 65px,#e63a40 77px,#ca1a50 91px,#b11758 100px,#7d1f5a 118px,#461c48 138px,#2a1734 152px,#11101f 175px,#0e0f1c 202px,#0e0f1c 441px)"></i>
<i style="height:2px;background:linear-gradient(90deg,#f7d0b5 0,#f8dbc6 13px,#f8d9c3 19px,#f7cfb3 24px,#f69b71 37px,#f48059 45px,#f05c42 60px,#e73d3f 72px,#ca1a50 87px,#b11758 96px,#7c1f59 115px,#451c47 137px,#2b1836 150px,#121020 173px,#0e0f1c 197px,#0e0f1c 441px)"></i>
<i style="height:2px;background:linear-gradient(90deg,#f7cfb3 0,#f9deca 14px,#f9ddc8 19px,#f8d2b9 24px,#f69e75 36px,#f4835b 43px,#f16646 53px,#eb473e 64px,#d72549 77px,#c21753 86px,#951c5b 102px,#5b1e51 125px,#31183b 145px,#131121 171px,#0e0f1c 192px,#0e0f1c 441px)"></i>
<i style="height:2px;background:linear-gradient(90deg,#f7cbae 0,#f9e1cf 14px,#f9e0cc 19px,#f8d7c0 23px,#f7c4a4 28px,#f69b71 36px,#f37852 44px,#ee5540 55px,#e33541 66px,#cb1b4f 78px,#b21758 87px,#7e1f5a 106px,#431c46 133px,#291734 149px,#10101f 175px,#0e0f1c 222px,#0e0f1c 441px)"></i>
<i style="height:2px;background:linear-gradient(90deg,#f7c7a8 0,#f9e3d1 14px,#f9e3d1 19px,#f8d5bd 24px,#f6a077 34px,#f37852 42px,#f05b41 50px,#e63c3f 59px,#cf1e4d 71px,#b51657 81px,#841e5a 99px,#4b1d4a 125px,#2c1837 144px,#100f1e 175px,#0e0f1c 347px,#0e0f1c 441px)"></i>
<i style="height:2px;background:linear-gradient(90deg,#f6c19f 0,#f9e3d2 14px,#f9e3d2 19px,#f8d4bc 24px,#f6b48e 30px,#f5946b 35px,#f3744f 41px,#ef5941 47px,#e63b40 55px,#d01e4d 66px,#b91657 75px,#871e5b 93px,#571e4f 114px,#30183a 137px,#100f1e 174px,#0e0f1c 347px,#0e0f1c 441px)"></i>
<i style="height:2px;background:linear-gradient(90deg,#f6b995 0,#f9e0cc 13px,#f9e4d3 17px,#f9deca 21px,#f7cdb1 25px,#f5986f 33px,#f26c4a 40px,#ed4f3e 46px,#dc2c45 56px,#c71951 65px,#a7195a 76px,#701f57 97px,#411b45 121px,#271732 143px,#0f0f1d 176px,#0e0f1c 441px)"></i>
<i style="height:2px;background:linear-gradient(90deg,#f6b18a 0,#f7ccaf 8px,#f9ddc9 14px,#f9e0cd 17px,#f8d9c3 21px,#f7c7a8 25px,#f58e65 33px,#f26c4a 38px,#ed4e3e 43px,#dc2b46 52px,#c71951 60px,#aa185a 70px,#731f58 90px,#471c48 112px,#2d1837 131px,#0f0f1e 174px,#0e0f1c 441px)"></i>
<i style="height:2px;background:linear-gradient(90deg,#f6a67e 0,#f7c3a3 8px,#f8d4bb 13px,#f8d8c1 17px,#f8d4bb 20px,#f7c3a3 24px,#f59269 31px,#f26b49 36px,#ed503f 40px,#e13342 46px,#cc1c4e 54px,#b41758 62px,#811e5a 79px,#4e1d4b 102px,#2e1838 124px,#10101e 171px,#0e0f1c 347px,#0e0f1c 441px)"></i>
<i style="height:2px;background:linear-gradient(90deg,#f59b71 0,#f6b48f 7px,#f7c6a7 12px,#f7cdb1 16px,#f7caad 19px,#f6c09e 22px,#f6a37a 27px,#f3734f 33px,#ee543f 37px,#e13243 43px,#cc1c4e 50px,#b51657 57px,#861e5b 72px,#581e4f 91px,#34193d 112px,#1e152a 139px,#0e0f1c 177px,#0e0f1c 441px)"></i>
<i style="height:2px;background:linear-gradient(90deg,#f58d64 0,#f6aa82 8px,#f6ba96 13px,#f6bd9a 17px,#f6b893 20px,#f6a67e 24px,#f3734e 31px,#ee523f 35px,#e13342 40px,#d11f4c 45px,#b91657 52px,#891e5b 66px,#631f53 80px,#35193d 105px,#1e152a 131px,#0e0f1c 175px,#0e0f1c 441px)"></i>
<i style="height:2px;background:linear-gradient(90deg,#f47f58 0,#f6a67e 12px,#f6ab83 16px,#f6a47c 20px,#f58d64 25px,#f06044 31px,#eb483e 34px,#db2a46 39px,#c51852 45px,#a11a5b 55px,#721f58 69px,#4b1d4a 86px,#2f1839 104px,#1b1427 129px,#0d0e1c 177px,#0e0f1c 441px)"></i>
<i style="height:2px;background:linear-gradient(90deg,#f3714d 0,#f59269 12px,#f5956c 17px,#f5875f 22px,#f16345 28px,#ea453e 32px,#d92748 37px,#c51852 42px,#a21a5b 51px,#681f55 68px,#421b45 85px,#23162f 110px,#141122 135px,#0e0f1c 192px,#0e0f1c 441px)"></i>
<i style="height:2px;background:linear-gradient(90deg,#f16445 0,#f47e57 12px,#f47f58 17px,#f3714d 22px,#ec4d3e 28px,#db2946 34px,#c71951 39px,#aa185a 46px,#721f58 61px,#4f1d4c 74px,#31183b 91px,#181325 119px,#0f0f1e 148px,#0e0f1c 441px)"></i>
<i style="height:2px;background:linear-gradient(90deg,#ef5640 0,#f26a49 12px,#f16747 18px,#ee513f 24px,#e03043 30px,#c91a50 36px,#af1759 42px,#7c1f59 55px,#4f1d4c 70px,#33193c 85px,#151223 116px,#0f0f1d 140px,#0e0f1c 441px)"></i>
<i style="height:2px;background:linear-gradient(90deg,#ec4b3e 0,#ef5941 13px,#ed503f 19px,#e33641 26px,#cc1b4f 33px,#b31758 39px,#7f1e5a 52px,#4a1d49 69px,#33193c 81px,#141122 113px,#0e0f1c 134px,#0e0f1c 441px)"></i>
<i style="height:2px;background:linear-gradient(90deg,#e9423e 0,#ec4a3e 12px,#e8413f 19px,#d5234a 28px,#c01754 34px,#931c5b 45px,#5b1e51 61px,#391a40 74px,#1f152b 96px,#0f0f1d 119px,#0e0f1c 441px)"></i>
<i style="height:2px;background:linear-gradient(90deg,#e63c3f 0,#e8403f 11px,#e23342 20px,#cd1c4e 29px,#b61657 35px,#831e5a 48px,#541e4e 62px,#35193d 74px,#1c1428 97px,#0e0e1c 119px,#0e0f1c 441px)"></i>
<i style="height:2px;background:linear-gradient(90deg,#e53840 0,#e43841 13px,#d72549 23px,#bd1655 32px,#8c1d5b 45px,#531e4d 61px,#35193d 73px,#191326 99px,#0e0f1c 118px,#0e0f1c 441px)"></i>
<i style="height:2px;background:linear-gradient(90deg,#e33641 0,#e33541 12px,#d62449 22px,#be1655 31px,#8d1d5b 44px,#511e4d 61px,#32183b 74px,#151223 102px,#0e0f1c 119px,#0e0f1c 441px)"></i>
<i style="height:2px;background:linear-gradient(90deg,#e33641 0,#e13342 12px,#d3214b 23px,#bd1655 31px,#8c1d5b 44px,#511e4d 61px,#33183c 73px,#1b1427 95px,#0e0e1c 115px,#0e0f1c 441px)"></i>
<i style="height:2px;background:linear-gradient(90deg,#e33641 0,#e13342 12px,#d11f4c 24px,#b91656 32px,#891e5b 45px,#511e4d 61px,#32183b 74px,#131121 105px,#0e0f1c 122px,#0e0f1c 441px)"></i>
</div>
<div class="hm" style="left:573.5px;top:8px;width:589px;height:424px">
<i style="height:2px;background:linear-gradient(90deg,#f9e2d0 0,#f9e1cf 29px,#f8d4bb 73px,#f6a880 123px,#f59269 156px,#f4815a 190px,#f47d57 233px,#f47e57 588px)"></i>
<i style="height:2px;background:linear-gradient(90deg,#f9e0cd 0,#f9e0cd 30px,#f8d4bc 73px,#f6ae87 116px,#f59970 144px,#f4815a 187px,#f47d57 234px,#f47d57 588px)"></i>
<i style="height:2px;background:linear-gradient(90deg,#f9e0cd 0,#f9deca 36px,#f8d4bc 73px,#f6ab83 119px,#f5966c 150px,#f47f58 188px,#f47d57 429px,#f47d57 588px)"></i>
<i style="height:2px;background:linear-gradient(90deg,#f9e0cd 0,#f9dfcb 35px,#f8d4bb 73px,#f6a880 122px,#f59269 155px,#f47d57 188px,#f47c55 588px)"></i>
<i style="height:2px;background:linear-gradient(90deg,#f9e0cd 0,#f9e0cd 28px,#f8d4bb 72px,#f6a880 121px,#f59067 155px,#f47d56 188px,#f47c55 588px)"></i>
<i style="height:2px;background:linear-gradient(90deg,#f9e2d0 0,#f9e0cd 31px,#f8d3ba 71px,#f6a881 118px,#f5936a 147px,#f47c55 187px,#f47a54 588px)"></i>
<i style="height:2px;background:linear-gradient(90deg,#f9e3d2 0,#f9e2d0 28px,#f7d1b6 72px,#f6b590 101px,#f59a71 132px,#f47b55 186px,#f47a54 588px)"></i>
<i style="height:2px;background:linear-gradient(90deg,#f9e5d4 0,#f9e3d1 27px,#f7d1b6 69px,#f6b18a 102px,#f5936a 138px,#f47a54 185px,#f37953 588px)"></i>
<i style="height:2px;background:linear-gradient(90deg,#fae6d6 0,#f9e5d4 23px,#f7cfb4 67px,#f6ac84 103px,#f58c63 141px,#f37953 182px,#f37752 588px)"></i>
<i style="height:2px;background:linear-gradient(90deg,#fae8d8 0,#f9e5d4 23px,#f8d4bb 55px,#f7c4a4 75px,#f6aa82 100px,#f58d64 133px,#f37752 176px,#f37550 588px)"></i>
<i style="height:2px;background:linear-gradient(90deg,#fae9da 0,#f9e4d3 23px,#f8d2b9 53px,#f6bb97 79px,#f69f76 106px,#f4845d 137px,#f3744f 174px,#f3724e 588px)"></i>
<i style="height:2px;background:linear-gradient(90deg,#faeadc 0,#f9e3d1 25px,#f7ceb2 55px,#f6a077 98px,#f4835b 131px,#f26e4b 171px,#f26d4b 207px,#f26d4b 588px)"></i>
<i style="height:2px;background:linear-gradient(90deg,#faebdd 0,#f9e3d2 21px,#f8d2b9 47px,#f6a67e 87px,#f58860 116px,#f26f4c 153px,#f26747 175px,#f16647 203px,#f26747 588px)"></i>
<i style="height:2px;background:linear-gradient(90deg,#faebdd 0,#f9e3d2 19px,#f8d4bb 42px,#f6a880 81px,#f58f66 102px,#f3734e 135px,#f16244 168px,#f05f43 244px,#f06043 588px)"></i>
<i style="height:2px;background:linear-gradient(90deg,#faebdd 0,#fae6d5 13px,#f8d4bb 39px,#f6ae87 72px,#f58d64 97px,#f26f4c 129px,#ef5a41 168px,#ef5640 255px,#ef5740 588px)"></i>
<i style="height:2px;background:linear-gradient(90deg,#faebdd 0,#fae6d6 11px,#f7ceb2 43px,#f6a077 78px,#f4825a 101px,#f16646 132px,#ee523f 170px,#ec4c3e 227px,#ed4e3e 588px)"></i>
<i style="height:2px;background:linear-gradient(90deg,#faebdd 0,#fae7d7 9px,#f7ccb0 42px,#f6a077 74px,#f47d57 98px,#f16445 125px,#ec4c3e 164px,#ea443e 217px,#ea453e 588px)"></i>
<i style="height:2px;background:linear-gradient(90deg,#faebdd 0,#fae8d8 8px,#f7c9ab 42px,#f6a178 70px,#f47c55 94px,#f16244 118px,#ec4a3e 153px,#e8413e 184px,#e73d3f 224px,#e73d3f 588px)"></i>
<i style="height:2px;background:linear-gradient(90deg,#faebdd 0,#fae8d8 7px,#f7c5a5 44px,#f4845d 84px,#f16646 106px,#ec4a3e 140px,#e63b40 177px,#e33641 217px,#e33641 588px)"></i>
<i style="height:2px;background:linear-gradient(90deg,#faebdd 0,#fae6d6 8px,#f7c3a3 43px,#f59168 74px,#f26d4b 95px,#ee523f 119px,#e63b40 157px,#e03043 207px,#e03143 588px)"></i>
<i style="height:2px;background:linear-gradient(90deg,#faebdd 0,#fae6d6 8px,#f6bd9a 46px,#f59269 71px,#f26848 94px,#ed4d3e 117px,#e43741 154px,#dc2c45 206px,#dc2c45 588px)"></i>
<i style="height:2px;background:linear-gradient(90deg,#faebdd 0,#fae8d8 6px,#f6bb97 46px,#f58b62 73px,#f26848 91px,#ed4e3e 110px,#e53840 139px,#db2a46 186px,#da2947 260px,#d92748 588px)"></i>
<i style="height:2px;background:linear-gradient(90deg,#faebdd 0,#fae8d8 6px,#f7ceb2 29px,#f6af88 52px,#f47e57 77px,#f05e42 94px,#ea433e 115px,#dd2d45 156px,#d62449 209px,#d62449 588px)"></i>
<i style="height:2px;background:linear-gradient(90deg,#faebdd 0,#fae8d8 6px,#f7d1b6 25px,#f6b18a 50px,#f37550 79px,#ee553f 96px,#e8403f 114px,#db2a46 153px,#d4224a 207px,#d4224a 588px)"></i>
<i style="height:2px;background:linear-gradient(90deg,#faebdd 0,#fae9da 4px,#f7caac 30px,#f6ac84 51px,#f3704c 80px,#ee533f 95px,#e73e3f 111px,#db2a46 145px,#d3214b 191px,#d11f4c 588px)"></i>
<i style="height:2px;background:linear-gradient(90deg,#faebdd 0,#fae9da 4px,#f7ccb0 27px,#f6b089 48px,#f37550 76px,#ee553f 91px,#e73e3f 107px,#dd2d45 132px,#d3214b 170px,#d11f4c 353px,#cf1d4d 588px)"></i>
<i style="height:2px;background:linear-gradient(90deg,#faebdd 0,#fae9da 4px,#f7caac 28px,#f6a881 51px,#f3704c 77px,#ed4f3e 92px,#e43741 111px,#d5234a 149px,#ce1d4e 199px,#ce1d4e 516px,#cd1c4e 588px)"></i>
<i style="height:2px;background:linear-gradient(90deg,#faebdd 0,#fae9da 4px,#f7ceb2 24px,#f6ae87 47px,#f3724e 75px,#ee553f 88px,#e63c3f 103px,#da2947 129px,#cd1c4e 173px,#cb1b4f 545px,#ca1a50 588px)"></i>
<i style="height:2px;background:linear-gradient(90deg,#faebdd 0,#fae9da 4px,#f7c9ab 27px,#f6a37a 52px,#f26c4a 76px,#ed4d3e 90px,#e43741 105px,#d62449 134px,#cb1b4f 175px,#ca1a50 536px,#c91a50 588px)"></i>
<i style="height:2px;background:linear-gradient(90deg,#faebdd 0,#fae6d6 6px,#f7c5a5 30px,#f6a37a 51px,#f26c4a 75px,#ed4f3e 88px,#e53940 101px,#d72549 128px,#c91a50 172px,#c81951 533px,#c71951 588px)"></i>
<i style="height:2px;background:linear-gradient(90deg,#faebdd 0,#fae6d6 6px,#f7c9aa 26px,#f6a57d 49px,#f26c4a 74px,#ed4e3e 87px,#e33641 102px,#d5234a 128px,#c71951 171px,#c71951 534px,#c61852 588px)"></i>
<i style="height:2px;background:linear-gradient(90deg,#faebdd 0,#fae6d6 6px,#f7c4a4 29px,#f6a47b 49px,#f26c4a 73px,#ed4d3e 86px,#e23342 102px,#d11f4c 133px,#c41852 176px,#c41852 588px)"></i>
<i style="height:2px;background:linear-gradient(90deg,#faebdd 0,#fae6d6 6px,#f6bc99 34px,#f59067 57px,#f16345 76px,#ea453e 89px,#e03143 103px,#d01e4d 133px,#c31753 173px,#c41753 588px)"></i>
<i style="height:2px;background:linear-gradient(90deg,#faebdd 0,#fae6d6 6px,#f6be9b 32px,#f59a71 52px,#f26747 73px,#eb493e 86px,#e03143 101px,#d01e4d 130px,#c11754 170px,#c21753 588px)"></i>
<i style="height:2px;background:linear-gradient(90deg,#faebdd 0,#fae6d6 6px,#f7c7a8 25px,#f6a881 44px,#f26c4a 70px,#ed4d3e 83px,#e13342 98px,#d11f4c 126px,#c01754 167px,#c11754 540px,#c11754 588px)"></i>
<i style="height:2px;background:linear-gradient(90deg,#faebdd 0,#fae6d6 6px,#f7c2a2 28px,#f69c73 49px,#f26747 71px,#eb483e 84px,#df2f44 100px,#cd1c4e 130px,#bd1655 170px,#bd1655 501px,#c11754 588px)"></i>
<i style="height:2px;background:linear-gradient(90deg,#faebdd 0,#fae6d6 6px,#f6bf9c 30px,#f5966c 51px,#f16546 71px,#eb463e 84px,#df2f44 98px,#cf1d4d 125px,#bb1656 168px,#b91656 468px,#c01754 588px)"></i>
<i style="height:2px;background:linear-gradient(90deg,#faebdd 0,#fae6d6 6px,#f7c2a2 27px,#f69b71 48px,#f16546 70px,#eb463e 83px,#de2e44 98px,#ce1d4e 125px,#b91656 166px,#b61657 439px,#bd1655 532px,#bf1654 588px)"></i>
<i style="height:2px;background:linear-gradient(90deg,#faebdd 0,#fae6d6 6px,#f7c2a1 27px,#f59970 48px,#f26747 68px,#eb483e 81px,#df2f44 96px,#cd1c4e 125px,#b61657 168px,#b51657 254px,#b11758 439px,#bd1655 541px,#be1655 588px)"></i>
<i style="height:2px;background:linear-gradient(90deg,#faebdd 0,#fae6d6 6px,#f6c19f 27px,#f5956c 49px,#f16646 68px,#eb483e 80px,#df2f44 95px,#ce1d4e 120px,#b61657 161px,#b21758 262px,#ad1759 390px,#ae1759 440px,#b91657 524px,#bd1655 581px,#bd1655 588px)"></i>
<i style="height:2px;background:linear-gradient(90deg,#faebdd 0,#fae6d6 6px,#f6bc99 29px,#f59067 50px,#f16345 68px,#eb463e 80px,#dd2d45 95px,#ce1d4e 119px,#b61657 158px,#b11758 183px,#b21758 235px,#af1759 300px,#a9185a 428px,#b51657 516px,#bd1655 565px,#bd1655 588px)"></i>
<i style="height:2px;background:linear-gradient(90deg,#faebdd 0,#fae6d6 6px,#f6c19f 26px,#f5966c 47px,#f16646 66px,#eb463e 79px,#dc2c45 95px,#cb1b4f 122px,#b11758 164px,#af1759 243px,#a9185a 361px,#a5195b 429px,#ac185a 482px,#bc1656 556px,#bc1656 588px)"></i>
<i style="height:2px;background:linear-gradient(90deg,#faebdd 0,#fae6d6 6px,#f6c09e 26px,#f5946b 47px,#f16647 65px,#eb483e 77px,#dc2c45 94px,#cd1c4e 117px,#b41658 155px,#ae1759 178px,#ad1759 238px,#a9185a 310px,#a21a5b 425px,#aa185a 487px,#ba1656 549px,#bb1656 588px)"></i>
<i style="height:2px;background:linear-gradient(90deg,#faebdd 0,#fae6d6 6px,#f6c19f 25px,#f59269 47px,#f16445 65px,#ea443e 78px,#dc2c45 93px,#cd1c4e 116px,#b31758 155px,#ac185a 176px,#ab185a 235px,#a7195a 297px,#9e1a5b 422px,#a9185a 492px,#ba1656 548px,#ba1656 588px)"></i>
<i style="height:2px;background:linear-gradient(90deg,#faebdd 0,#fae8d8 5px,#f6bc99 27px,#f58e65 48px,#f16244 65px,#ea443e 77px,#db2a46 93px,#c91a50 121px,#ad1759 164px,#a9185a 240px,#a4195b 305px,#9b1b5b 420px,#a5195b 479px,#ae1759 511px,#b91657 543px,#b91657 588px)"></i>
<i style="height:2px;background:linear-gradient(90deg,#faebdd 0,#fae8d8 4px,#f8d7c0 13px,#f6b893 29px,#f4845d 51px,#f05d42 66px,#e83f3f 79px,#d92748 95px,#c81951 120px,#aa185a 167px,#a9185a 229px,#a21a5b 291px,#9e1a5b 355px,#991b5b 423px,#a4195b 478px,#ac185a 510px,#b91657 542px,#b71657 588px)"></i>
<i style="height:2px;background:linear-gradient(90deg,#faebdd 0,#fae8d8 4px,#f9ddc9 10px,#f6bc99 26px,#f58960 49px,#f05e42 65px,#e83f3f 78px,#d82648 95px,#c51852 124px,#aa185a 165px,#a7195a 230px,#a11a5b 288px,#991b5b 376px,#981b5b 428px,#a21a5b 474px,#a9185a 505px,#b71657 537px,#b61657 588px)"></i>
<i style="height:2px;background:linear-gradient(90deg,#faebdd 0,#fae8d8 4px,#f8d1b8 15px,#f6ab83 34px,#f26948 60px,#ec4a3e 72px,#dc2c45 89px,#cd1c4e 109px,#b41658 147px,#a8185a 168px,#a5195b 232px,#9f1a5b 293px,#991b5b 361px,#961c5b 419px,#a11a5b 475px,#a7195a 503px,#b71657 536px,#b41658 588px)"></i>
<i style="height:2px;background:linear-gradient(90deg,#faebdd 0,#fae8d8 4px,#f8d7c0 12px,#f6ba96 26px,#f58860 48px,#f06043 63px,#e9423e 75px,#dc2b46 89px,#cd1c4e 108px,#b21758 148px,#a6195a 171px,#a5195b 226px,#9e1a5b 286px,#991b5b 352px,#951c5b 422px,#9f1a5b 466px,#a4195b 500px,#b71657 534px,#b21758 588px)"></i>
<i style="height:2px;background:linear-gradient(90deg,#faebdd 0,#fae8d8 4px,#f6bb97 25px,#f5875f 48px,#f05f43 63px,#e8403e 75px,#d92748 91px,#c71951 115px,#a9185a 161px,#a4195b 184px,#a5195b 221px,#9e1a5b 287px,#991b5b 346px,#941c5b 412px,#9f1a5b 468px,#a3195b 498px,#b71657 534px,#b31758 564px,#af1759 588px)"></i>
<i style="height:2px;background:linear-gradient(90deg,#faebdd 0,#fae8d8 4px,#f8d1b8 14px,#f6b893 26px,#f58860 47px,#f06043 62px,#e9423e 74px,#d92748 90px,#c91a50 111px,#ab185a 154px,#a4195b 179px,#a4195b 226px,#9e1a5b 285px,#981b5b 355px,#941c5b 411px,#9f1a5b 468px,#a3195b 498px,#b71657 532px,#b31758 559px,#ae1759 588px)"></i>
<i style="height:2px;background:linear-gradient(90deg,#faebdd 0,#fae8d8 4px,#f6ba96 24px,#f5875f 47px,#f05f43 62px,#e8403e 74px,#d92847 89px,#ca1a50 107px,#af1759 149px,#a4195b 172px,#a4195b 224px,#9e1a5b 280px,#981b5b 354px,#961c5b 421px,#9f1a5b 464px,#a11a5b 494px,#b71657 532px,#b41658 551px,#ab185a 582px,#ab185a 588px)"></i>
<i style="height:2px;background:linear-gradient(90deg,#faebdd 0,#fae8d8 4px,#f6bd9a 22px,#f58b62 45px,#f06043 61px,#e9413e 73px,#d72549 90px,#c51852 114px,#a6195a 164px,#a4195b 222px,#9e1a5b 278px,#981b5b 357px,#971c5b 422px,#a11a5b 469px,#a11a5b 493px,#b91657 533px,#ad1759 564px,#a9185a 588px)"></i>
<i style="height:2px;background:linear-gradient(90deg,#faebdd 0,#fae8d8 4px,#f6be9b 21px,#f4825a 48px,#f05c42 62px,#e83f3f 74px,#d82648 89px,#c71951 110px,#a6195a 164px,#a4195b 220px,#9e1a5b 271px,#991b5b 346px,#981b5b 419px,#a11a5b 465px,#a4195b 497px,#b71657 529px,#b61657 544px,#a5195b 580px,#a5195b 588px)"></i>
<i style="height:2px;background:linear-gradient(90deg,#faebdd 0,#fae8d8 4px,#f6bf9c 20px,#f4835b 47px,#f05b41 62px,#e73d3f 74px,#d5234a 91px,#c51852 111px,#a6195a 163px,#a3195b 228px,#9e1a5b 288px,#981b5b 412px,#a3195b 468px,#a4195b 495px,#b91657 532px,#b01759 553px,#a4195b 578px,#a4195b 588px)"></i>
<i style="height:2px;background:linear-gradient(90deg,#faebdd 0,#fae8d8 4px,#f6bd9a 20px,#f4825a 47px,#f05c42 61px,#e83f3f 73px,#d62449 89px,#c51852 109px,#a6195a 163px,#a3195b 228px,#9f1a5b 268px,#991b5b 408px,#a4195b 467px,#a5195b 497px,#b91657 531px,#b11758 550px,#a21a5b 574px,#a01a5b 588px)"></i>
<i style="height:2px;background:linear-gradient(90deg,#faebdd 0,#fae9da 3px,#f8d4bc 11px,#f6bc98 20px,#f48059 47px,#ef5840 62px,#e53940 75px,#d3214b 92px,#c31753 112px,#a6195a 163px,#a3195b 228px,#9f1a5b 272px,#9b1b5b 406px,#a4195b 464px,#a6195a 498px,#b91657 530px,#b21758 547px,#9e1a5b 575px,#9e1a5b 588px)"></i>
<i style="height:2px;background:linear-gradient(90deg,#faebdd 0,#fae9da 3px,#f7caac 14px,#f6b38d 23px,#f47e57 47px,#ef5a41 61px,#e73d3f 73px,#d5234a 89px,#c41753 109px,#a6195a 162px,#a3195b 228px,#9f1a5b 279px,#9e1a5b 416px,#a6195a 465px,#a7195a 497px,#b91657 530px,#ae1759 551px,#9d1a5b 573px,#9b1b5b 588px)"></i>
<i style="height:2px;background:linear-gradient(90deg,#faebdd 0,#f9e2d0 6px,#f6be9b 18px,#f6a57d 29px,#f3704c 52px,#ed503e 64px,#df2f44 80px,#cd1c4e 97px,#b71657 130px,#a6195a 162px,#a3195b 229px,#a01a5b 275px,#a11a5b 415px,#a8185a 467px,#a9185a 498px,#b71657 527px,#b31758 543px,#991b5b 574px,#981b5b 588px)"></i>
<i style="height:2px;background:linear-gradient(90deg,#faebdd 0,#f9e2d0 6px,#f6b995 19px,#f59970 34px,#f16445 56px,#ea453e 68px,#db2946 83px,#c81951 101px,#ab185a 150px,#a4195b 173px,#a3195b 230px,#a21a5b 407px,#aa185a 464px,#a9185a 495px,#b71657 528px,#af1759 545px,#981b5b 572px,#951c5b 588px)"></i>
<i style="height:2px;background:linear-gradient(90deg,#faebdd 0,#f9e2d0 6px,#f6bb97 18px,#f6a47b 28px,#f26c4a 52px,#ed4d3e 64px,#dd2d45 80px,#cc1b4f 97px,#b61657 128px,#a6195a 162px,#a11a5b 298px,#a6195a 416px,#aa185a 468px,#ab185a 499px,#b71657 527px,#ae1759 545px,#941c5b 573px,#921c5b 588px)"></i>
<i style="height:2px;background:linear-gradient(90deg,#faebdd 0,#f9e3d2 5px,#f6b691 19px,#f5936a 35px,#f16244 55px,#ea443e 67px,#d62449 86px,#c21753 107px,#a8185a 156px,#a4195b 193px,#a21a5b 289px,#a9185a 419px,#ab185a 472px,#ae1759 502px,#b51657 528px,#aa185a 547px,#921c5b 571px,#8f1d5b 588px)"></i>
<i style="height:2px;background:linear-gradient(90deg,#faebdd 0,#f9e3d2 5px,#f6b893 18px,#f69b72 30px,#f26747 52px,#eb493e 64px,#dc2b46 80px,#c91a50 99px,#af1759 138px,#a4195b 173px,#a3195b 232px,#a4195b 314px,#ac185a 426px,#af1759 502px,#b41658 526px,#a9185a 545px,#8f1d5b 572px,#8d1d5b 588px)"></i>
<i style="height:2px;background:linear-gradient(90deg,#faebdd 0,#f9e3d2 5px,#f6b691 18px,#f59a71 30px,#f16345 53px,#ea453e 65px,#d92847 82px,#c81951 99px,#af1759 137px,#a4195b 174px,#a3195b 284px,#af1759 454px,#b01759 506px,#b31758 527px,#a5195b 546px,#8d1d5b 570px,#8a1d5b 588px)"></i>
<i style="height:2px;background:linear-gradient(90deg,#faebdd 0,#f9e3d2 5px,#f6b894 17px,#f6a077 26px,#f16646 51px,#eb473e 63px,#d82648 83px,#c51852 102px,#ad1759 140px,#a4195b 175px,#a3195b 285px,#ac185a 386px,#b11758 447px,#af1759 531px,#981b5b 556px,#881e5b 575px,#871e5b 588px)"></i>
<i style="height:2px;background:linear-gradient(90deg,#faebdd 0,#f9e3d2 5px,#f6b792 17px,#f69f76 26px,#f16646 50px,#eb473e 62px,#da2947 80px,#c81951 98px,#b01759 132px,#a6195a 164px,#a11a5b 268px,#ae1759 374px,#b31758 442px,#af1759 527px,#991b5b 552px,#861e5b 573px,#851e5a 588px)"></i>
<i style="height:2px;background:linear-gradient(90deg,#faebdd 0,#f9e5d4 4px,#f7ccb0 11px,#f6b28c 18px,#f5986f 28px,#f16345 50px,#ea453e 62px,#d82748 81px,#c51852 101px,#af1759 134px,#a4195b 174px,#a3195b 286px,#af1759 365px,#b41658 443px,#af1759 522px,#a01a5b 543px,#851e5a 571px,#821e5a 588px)"></i>
<i style="height:2px;background:linear-gradient(90deg,#faebdd 0,#f9e5d4 4px,#f7d0b5 10px,#f6b48f 17px,#f69e75 25px,#f16646 48px,#eb473e 60px,#db2946 78px,#c81951 98px,#af1759 132px,#a4195b 174px,#a3195b 284px,#b21758 367px,#b51657 443px,#b11758 513px,#a5195b 535px,#851e5a 567px,#801e5a 586px,#801e5a 588px)"></i>
<i style="height:2px;background:linear-gradient(90deg,#faebdd 0,#f9e5d4 4px,#f7c7a8 12px,#f6ad85 19px,#f58b63 32px,#f05e42 50px,#e8403f 63px,#d92748 79px,#c41852 101px,#af1759 132px,#a6195a 165px,#a11a5b 272px,#af1759 337px,#b71657 430px,#b41658 487px,#af1759 516px,#9d1a5b 540px,#811e5a 568px,#7d1f5a 588px)"></i>
<i style="height:2px;background:linear-gradient(90deg,#faebdd 0,#f9e5d4 4px,#f7cfb3 10px,#f6b28c 17px,#f69b71 25px,#f16647 46px,#eb473e 58px,#db2946 76px,#c61852 99px,#ad1759 133px,#a4195b 178px,#a21a5b 276px,#ae1759 327px,#b61657 376px,#b81657 436px,#b41658 505px,#a21a5b 533px,#801e5a 566px,#7b1f59 588px)"></i>
<i style="height:2px;background:linear-gradient(90deg,#faebdd 0,#f9e5d4 4px,#f7cfb3 10px,#f6b48f 16px,#f69b72 24px,#f26747 45px,#ec4a3e 56px,#df2f44 71px,#cb1b4f 92px,#b21758 123px,#a8185a 152px,#a11a5b 230px,#a3195b 289px,#b71657 363px,#b91657 438px,#b61657 476px,#b41658 505px,#9d1a5b 535px,#7e1f5a 565px,#781f59 588px)"></i>
<i style="height:2px;background:linear-gradient(90deg,#faebdd 0,#f9e5d4 4px,#f8d6be 8px,#f6b089 17px,#f59269 27px,#f06043 47px,#e9413e 59px,#da2947 75px,#c51852 98px,#ad1759 132px,#a4195b 174px,#a11a5b 258px,#a4195b 297px,#b71657 358px,#b91656 432px,#b71657 470px,#b51657 501px,#a01a5b 529px,#7b1f59 566px,#761f58 588px)"></i>
<i style="height:2px;background:linear-gradient(90deg,#faebdd 0,#f9e5d4 4px,#f7cdb1 10px,#f6b38d 16px,#f59970 24px,#f16646 44px,#eb463e 56px,#de2e44 70px,#cb1b4f 91px,#b21758 121px,#a8185a 149px,#a11a5b 218px,#a4195b 292px,#b91657 362px,#ba1656 432px,#b71657 475px,#b71657 497px,#a4195b 523px,#791f59 565px,#741f58 585px,#741f58 588px)"></i>
<i style="height:2px;background:linear-gradient(90deg,#faebdd 0,#f9e5d4 4px,#f7cdb1 10px,#f6ae87 17px,#f59269 26px,#f16244 45px,#ea443e 56px,#da2947 73px,#c61852 96px,#ad1759 130px,#a4195b 171px,#a11a5b 241px,#a4195b 293px,#b91657 361px,#ba1656 424px,#b81657 472px,#b71657 497px,#a01a5b 525px,#791f59 561px,#711f57 585px,#711f57 588px)"></i>
<i style="height:2px;background:linear-gradient(90deg,#faebdd 0,#f9e5d4 4px,#f7cdb1 10px,#f6b18b 16px,#f5976e 24px,#f16646 43px,#eb483e 54px,#de2e44 68px,#cb1b4f 89px,#b21758 120px,#a8185a 146px,#9f1a5b 224px,#a21a5b 288px,#b91657 362px,#bb1656 411px,#b81657 470px,#b71657 496px,#a3195b 521px,#791f59 558px,#6f1f57 579px,#6f1f57 588px)"></i>
<i style="height:2px;background:linear-gradient(90deg,#faebdd 0,#f9e5d4 4px,#f6ad85 17px,#f59067 26px,#f16244 44px,#ea443e 55px,#db2a46 70px,#c81951 92px,#ad1759 128px,#a6195a 159px,#9f1a5b 220px,#a21a5b 291px,#ba1656 369px,#b91656 420px,#b71657 495px,#9e1a5b 524px,#761f58 559px,#6d1f56 581px,#6d1f56 588px)"></i>
<i style="height:2px;background:linear-gradient(90deg,#faebdd 0,#f9e5d4 4px,#f6ad85 17px,#f59269 25px,#f06043 44px,#e8403e 56px,#d92847 71px,#c61852 93px,#ad1759 127px,#a4195b 166px,#9f1a5b 220px,#a11a5b 293px,#ba1656 370px,#b91657 417px,#b71657 469px,#b61657 494px,#a3195b 518px,#741f58 558px,#6a1f56 580px,#6a1f56 588px)"></i>
<i style="height:2px;background:linear-gradient(90deg,#faebdd 0,#f9e5d4 4px,#f6b089 16px,#f5946b 24px,#f26747 41px,#eb493e 52px,#df2f44 65px,#cc1b4f 85px,#b41658 115px,#a8185a 142px,#9e1a5b 218px,#a01a5b 291px,#ba1656 375px,#b61657 459px,#b61657 492px,#a21a5b 517px,#721f58 557px,#681f55 577px,#681f55 588px)"></i>
<i style="height:2px;background:linear-gradient(90deg,#faebdd 0,#f9e5d4 4px,#f6af88 16px,#f5966c 23px,#f16647 41px,#eb483e 52px,#de2e44 65px,#cd1c4e 83px,#b51657 112px,#a8185a 139px,#9e1a5b 220px,#a01a5b 296px,#ba1656 379px,#b41658 448px,#b61657 489px,#a4195b 513px,#711f57 557px,#651f54 578px,#651f54 588px)"></i>
<i style="height:2px;background:linear-gradient(90deg,#faebdd 0,#fae6d6 3px,#f8d9c3 7px,#f6ae87 16px,#f5956c 23px,#f16646 41px,#eb463e 52px,#dc2c45 66px,#ca1a50 85px,#b01759 119px,#a6195a 147px,#9e1a5b 217px,#9e1a5b 293px,#b91657 379px,#b21758 440px,#b61657 484px,#aa185a 506px,#741f58 551px,#641f54 574px,#631f53 588px)"></i>
<i style="height:2px;background:linear-gradient(90deg,#faebdd 0,#fae6d6 3px,#f8d4bb 8px,#f6b18b 15px,#f59a71 21px,#f26f4c 37px,#ed503e 48px,#e13342 61px,#d11f4c 77px,#bc1656 100px,#aa185a 132px,#9c1b5b 220px,#9e1a5b 297px,#b71657 379px,#af1759 438px,#b51657 482px,#a9185a 505px,#711f57 551px,#621f53 573px,#601f53 588px)"></i>
<i style="height:2px;background:linear-gradient(90deg,#faebdd 0,#fae6d6 3px,#f8d7c0 7px,#f6ac84 16px,#f59269 23px,#f26848 39px,#eb493e 50px,#dd2c45 64px,#ca1a50 82px,#b11758 115px,#a6195a 145px,#9c1b5b 217px,#9b1b5b 291px,#b61657 383px,#ad1759 432px,#b41658 479px,#aa185a 501px,#831e5a 534px,#651f54 562px,#5e1f52 582px,#5e1f52 588px)"></i>
<i style="height:2px;background:linear-gradient(90deg,#faebdd 0,#fae6d6 3px,#f8d7c0 7px,#f6af88 15px,#f5946b 22px,#f26e4b 36px,#ed4d3e 48px,#de2e44 62px,#ca1a50 81px,#b11758 114px,#a6195a 146px,#9a1b5b 223px,#991b5b 291px,#b41658 383px,#aa185a 432px,#b31758 478px,#a8185a 501px,#7c1f59 537px,#611f53 564px,#5b1e51 585px,#5b1e51 588px)"></i>
<i style="height:2px;background:linear-gradient(90deg,#faebdd 0,#fae6d6 3px,#f8d7c0 7px,#f6ad86 15px,#f59168 22px,#f26c4a 36px,#ec4b3e 48px,#dd2d45 62px,#cb1b4f 79px,#b41658 110px,#a8185a 137px,#991b5b 221px,#981b5b 288px,#ad1759 362px,#b11758 391px,#a8185a 428px,#b11758 476px,#a7195a 499px,#811e5a 531px,#621f53 559px,#581e50 581px,#581e50 588px)"></i>
<i style="height:2px;background:linear-gradient(90deg,#faebdd 0,#fae6d6 3px,#f8d1b8 8px,#f6ac84 15px,#f5936a 21px,#f37953 30px,#ee543f 44px,#e23442 57px,#cf1d4d 75px,#b91656 100px,#aa185a 130px,#981b5b 218px,#941c5b 285px,#af1759 384px,#a5195b 430px,#af1759 475px,#a6195a 496px,#8c1d5b 521px,#651f54 552px,#571e4f 575px,#571e4f 588px)"></i>
<i style="height:2px;background:linear-gradient(90deg,#faebdd 0,#fae6d6 3px,#f7d0b5 8px,#f6aa82 15px,#f59067 21px,#f26e4b 33px,#ec4c3e 46px,#de2e44 60px,#cd1c4e 76px,#b61657 104px,#a6195a 139px,#971c5b 224px,#921c5b 282px,#a9185a 369px,#ab185a 389px,#a3195b 428px,#ac185a 474px,#a4195b 496px,#851e5a 523px,#601f53 554px,#541e4e 577px,#541e4e 588px)"></i>
<i style="height:2px;background:linear-gradient(90deg,#faebdd 0,#fae6d6 3px,#f8d4bc 7px,#f6a77f 15px,#f58c63 21px,#f26e4b 32px,#ec4c3e 45px,#dd2d45 59px,#cc1b4f 76px,#b41658 106px,#a6195a 140px,#951c5b 224px,#8f1d5b 280px,#a9185a 387px,#a01a5b 427px,#aa185a 472px,#a21a5b 494px,#861e5b 519px,#5f1f52 552px,#521e4d 575px,#501d4c 588px)"></i>
<i style="height:2px;background:linear-gradient(90deg,#faebdd 0,#fae6d6 3px,#f7cfb3 8px,#f6aa82 14px,#f58c63 20px,#f26c4a 31px,#ec4b3e 44px,#dd2d45 58px,#cc1b4f 75px,#b51657 105px,#a6195a 139px,#921c5b 228px,#8c1d5b 276px,#a5195b 388px,#9e1a5b 428px,#a7195a 474px,#9d1a5b 496px,#791f59 526px,#571e4f 557px,#4d1d4b 583px,#4d1d4b 588px)"></i>
<i style="height:2px;background:linear-gradient(90deg,#faebdd 0,#fae8d8 2px,#f8d9c3 6px,#f6a77f 14px,#f58960 20px,#f26a49 30px,#eb493e 43px,#dd2d45 57px,#cd1c4e 73px,#b71657 103px,#a8185a 134px,#921c5b 223px,#881e5b 273px,#8e1d5b 298px,#981b5b 341px,#a01a5b 386px,#9b1b5b 432px,#a4195b 473px,#981b5b 496px,#771f59 524px,#581e50 551px,#4c1d4a 576px,#4c1d4a 588px)"></i>
<i style="height:2px;background:linear-gradient(90deg,#faebdd 0,#fae8d8 2px,#f9ddc9 5px,#f6ab83 13px,#f58e65 18px,#f37651 24px,#ef5740 36px,#e53840 49px,#d3214b 65px,#c01754 88px,#aa185a 128px,#8f1d5b 226px,#841e5a 274px,#941c5b 330px,#9d1a5b 395px,#981b5b 429px,#9e1a5b 471px,#981b5b 491px,#7c1f59 517px,#581e4f 548px,#4a1d49 570px,#491c49 588px)"></i>
<i style="height:2px;background:linear-gradient(90deg,#faebdd 0,#fae8d8 2px,#f8dcc7 5px,#f6a881 13px,#f59067 17px,#f37953 22px,#f05f43 31px,#e9413e 43px,#d5234a 61px,#c41753 82px,#aa185a 128px,#8d1d5b 225px,#801e5a 275px,#921c5b 326px,#981b5b 404px,#981b5b 444px,#9b1b5b 475px,#8f1d5b 497px,#581e4f 543px,#471c48 569px,#451c47 588px)"></i>
<i style="height:2px;background:linear-gradient(90deg,#faebdd 0,#fae8d8 2px,#f8d6be 6px,#f6a57d 13px,#f4855d 18px,#f26c4a 24px,#ed4f3e 35px,#dd2d45 52px,#ce1d4e 67px,#b91657 98px,#a4195b 142px,#8a1d5b 229px,#7c1f59 272px,#841e5a 295px,#8f1d5b 324px,#931c5b 382px,#941c5b 444px,#951c5b 480px,#881e5b 500px,#541e4e 543px,#451c47 566px,#421b45 588px)"></i>
<i style="height:2px;background:linear-gradient(90deg,#faebdd 0,#fae8d8 2px,#f8dac5 5px,#f6a981 12px,#f58d64 16px,#f26e4b 22px,#ee513f 32px,#e03043 48px,#cf1d4d 64px,#ba1656 97px,#a4195b 140px,#861e5b 232px,#771f59 274px,#8c1d5b 322px,#8e1d5b 379px,#911d5b 479px,#821e5a 501px,#4f1d4c 543px,#411b45 569px,#3f1b44 588px)"></i>
<i style="height:2px;background:linear-gradient(90deg,#faebdd 0,#fae8d8 2px,#f8dac5 5px,#f69f76 13px,#f47d56 18px,#f16244 24px,#ea453e 35px,#d62449 54px,#c61852 74px,#a4195b 139px,#851e5a 229px,#741f58 271px,#791f59 289px,#8a1d5b 319px,#8b1d5b 393px,#8c1d5b 479px,#7d1f5a 501px,#4e1d4b 539px,#3f1b44 564px,#3c1a42 588px)"></i>
<i style="height:2px;background:linear-gradient(90deg,#faebdd 0,#fae8d8 2px,#f8d3ba 6px,#f69b72 13px,#f37953 18px,#f16144 23px,#eb473e 32px,#d82648 51px,#c81951 69px,#ab185a 124px,#831e5a 225px,#6f1f57 272px,#791f59 294px,#861e5b 318px,#851e5a 384px,#8a1d5b 445px,#831e5a 487px,#6e1f57 509px,#4a1d49 538px,#3c1a42 563px,#391a40 588px)"></i>
<i style="height:2px;background:linear-gradient(90deg,#faebdd 0,#fae8d8 2px,#f8d9c3 5px,#f6aa82 11px,#f58960 15px,#f26e4b 19px,#ee543f 25px,#e53840 37px,#d11f4c 56px,#c11754 82px,#a11a5b 145px,#801e5a 227px,#6c1f56 269px,#6f1f57 285px,#831e5a 316px,#821e5a 341px,#801e5a 384px,#861e5b 435px,#7e1f5a 486px,#6d1f56 506px,#451c47 539px,#391a40 563px,#37193f 588px)"></i>
<i style="height:2px;background:linear-gradient(90deg,#faeadc 0,#fae6d6 2px,#f8d7c0 5px,#f6b18a 10px,#f58d64 14px,#f3704c 18px,#ef5640 23px,#e8403f 31px,#d11f4c 53px,#c11754 78px,#ae1759 117px,#801e5a 219px,#671f55 272px,#711f57 293px,#801e5a 315px,#801e5a 340px,#7a1f59 374px,#821e5a 431px,#771f59 488px,#641f54 508px,#401b44 539px,#36193e 563px,#35193d 588px)"></i>
<i style="height:2px;background:linear-gradient(90deg,#fae9d9 0,#f9e0cd 3px,#f7cfb3 6px,#f69b72 12px,#f37953 16px,#f05f43 20px,#eb473e 26px,#d82648 45px,#c71951 62px,#b11758 111px,#9a1b5b 158px,#7c1f59 219px,#691f55 255px,#641f54 274px,#6d1f56 293px,#7e1f5a 317px,#7a1f59 345px,#761f58 384px,#7e1f5a 431px,#711f57 489px,#5e1f52 509px,#3c1a42 538px,#34193c 562px,#32193b 588px)"></i>
<i style="height:2px;background:linear-gradient(90deg,#fae7d7 0,#f9deca 3px,#f7ccb0 6px,#f5986f 12px,#f37550 16px,#f05b41 20px,#e8403f 27px,#d11f4c 49px,#c11754 72px,#b41658 107px,#9d1a5b 148px,#791f59 220px,#651f54 256px,#601f52 275px,#6c1f56 296px,#791f59 314px,#781f59 338px,#711f57 378px,#791f59 429px,#6b1f56 490px,#501d4c 516px,#37193f 540px,#30183a 572px,#30183a 588px)"></i>
<i style="height:2px;background:linear-gradient(90deg,#f9e5d4 0,#f9ddc8 3px,#f6ba96 8px,#f58c63 13px,#f26a49 17px,#ed4d3e 22px,#e63a40 28px,#d11f4c 48px,#c11754 71px,#b41658 106px,#9a1b5b 151px,#761f58 220px,#5b1e51 269px,#601f53 286px,#761f58 314px,#751f58 337px,#6c1f56 377px,#741f58 429px,#641f54 490px,#4e1d4b 513px,#35193d 537px,#2f1839 566px,#2e1838 588px)"></i>
<i style="height:2px;background:linear-gradient(90deg,#f9e3d1 0,#f8dac5 3px,#f7c8a9 6px,#f59269 12px,#f3704c 16px,#ee543f 20px,#e8403f 25px,#dc2b46 36px,#c81951 55px,#bc1656 84px,#ae1759 113px,#791f59 206px,#5d1f52 257px,#581e50 273px,#5f1f52 289px,#721f58 315px,#6f1f57 343px,#671f55 379px,#6f1f57 429px,#5e1f52 490px,#461c48 515px,#31183b 538px,#2d1837 572px,#2d1837 588px)"></i>
<i style="height:2px;background:linear-gradient(90deg,#f9e1cf 0,#f8d8c1 3px,#f7c6a7 6px,#f59067 12px,#f26c4a 16px,#ee513f 20px,#e63a40 26px,#d5234a 41px,#c41753 60px,#b21758 106px,#8c1d5b 171px,#711f57 216px,#551e4e 268px,#581e50 285px,#6e1f57 315px,#6c1f56 341px,#621f53 379px,#691f55 430px,#561e4f 493px,#30183a 535px,#2a1735 568px,#2a1735 588px)"></i>
<i style="height:2px;background:linear-gradient(90deg,#f9dfcb 0,#f8dbc6 2px,#f7cbae 5px,#f6aa82 9px,#f47c55 14px,#f16345 17px,#ea453e 22px,#e03043 30px,#cc1b4f 49px,#bd1655 71px,#b01759 106px,#7c1f59 190px,#521e4d 267px,#541e4e 283px,#6a1f56 315px,#671f55 342px,#5d1f52 381px,#641f54 426px,#501d4c 493px,#2f1839 532px,#291734 559px,#291734 588px)"></i>
<i style="height:2px;background:linear-gradient(90deg,#f9ddc8 0,#f8d9c3 2px,#f7c9ab 5px,#f58c63 12px,#f26848 16px,#ed4d3e 20px,#e43741 26px,#d11f4c 43px,#c11754 63px,#ae1759 108px,#7b1f59 188px,#4f1d4c 266px,#501d4c 283px,#661f54 316px,#611f53 345px,#581e50 385px,#5d1f52 428px,#481c48 495px,#2b1836 533px,#271732 574px,#271732 588px)"></i>
<i style="height:2px;background:linear-gradient(90deg,#f8dbc6 0,#f8d3ba 3px,#f6b894 7px,#f58b62 12px,#f16647 16px,#ec4c3e 20px,#e33641 26px,#d4224a 40px,#c21753 58px,#ac185a 108px,#771f59 189px,#621f53 224px,#4c1d4a 266px,#4f1d4c 286px,#621f53 317px,#5b1e51 351px,#541e4e 388px,#561e4f 434px,#401b44 497px,#281733 537px,#261731 588px)"></i>
<i style="height:2px;background:linear-gradient(90deg,#f8dac4 0,#f7d1b6 3px,#f6b792 7px,#f58960 12px,#f16646 16px,#ec4a3e 20px,#e23442 26px,#d11f4c 43px,#bf1654 63px,#aa185a 110px,#741f58 189px,#5b1e51 229px,#491c49 267px,#4c1d4a 286px,#5d1f52 317px,#561e4f 353px,#501d4c 392px,#501d4c 434px,#381a40 500px,#261731 538px,#24162f 588px)"></i>
<i style="height:2px;background:linear-gradient(90deg,#f8d7c0 0,#f8d4bb 2px,#f6bd9a 6px,#f5875f 12px,#f16445 16px,#ec4a3e 20px,#e23442 26px,#d5224a 38px,#c21753 57px,#a7195a 111px,#711f57 189px,#551e4e 234px,#451c47 268px,#4a1d49 288px,#581e50 318px,#511e4d 354px,#4b1d4a 395px,#491d49 434px,#2f1839 509px,#22162e 546px,#22162e 588px)"></i>
<i style="height:2px;background:linear-gradient(90deg,#f8d5bd 0,#f7ceb2 3px,#f6b48e 7px,#f4865e 12px,#f16445 16px,#eb483e 20px,#e33641 25px,#d3214b 39px,#c11754 59px,#a3195b 115px,#6c1f56 192px,#521e4d 233px,#431c46 269px,#491d49 292px,#541e4e 320px,#461c48 395px,#431c46 434px,#291734 514px,#21152c 552px,#21162d 588px)"></i>
<i style="height:2px;background:linear-gradient(90deg,#f8d4bb 0,#f7ccaf 3px,#f6a981 8px,#f47c55 13px,#f05b41 17px,#e83f3f 22px,#dd2c45 30px,#ca1a50 49px,#b91657 71px,#a11a5b 115px,#6a1f56 190px,#521e4d 227px,#411b45 268px,#471c48 295px,#501d4c 322px,#411b45 400px,#3c1a42 440px,#20152c 541px,#1f152b 588px)"></i>
<i style="height:2px;background:linear-gradient(90deg,#f8d1b8 0,#f7ceb2 2px,#f6b893 6px,#f4845c 12px,#f16244 16px,#eb483e 20px,#e13342 26px,#ce1d4e 44px,#b91656 68px,#9e1a5b 116px,#681f55 188px,#501d4c 224px,#3f1b44 265px,#421b45 292px,#4a1d49 321px,#3a1a41 421px,#1e152a 542px,#1e152a 588px)"></i>
<i style="height:2px;background:linear-gradient(90deg,#f7d0b5 0,#f7ccb0 2px,#f6b691 6px,#f4835b 12px,#f26948 15px,#ec4c3e 19px,#e13342 26px,#ce1d4e 44px,#b91656 67px,#9b1b5b 118px,#651f54 188px,#4a1d49 229px,#3c1a42 269px,#451c47 326px,#2a1734 474px,#1d1429 544px,#1d1429 588px)"></i>
<i style="height:2px;background:linear-gradient(90deg,#f7ceb2 0,#f7c6a7 3px,#f6a57d 8px,#f37953 13px,#f06043 16px,#e9423e 21px,#e03143 27px,#ce1d4e 44px,#b91657 67px,#981b5b 120px,#621f53 188px,#491c49 227px,#3b1a41 267px,#411b45 330px,#24162f 482px,#1c1428 543px,#1c1428 588px)"></i>
<i style="height:2px;background:linear-gradient(90deg,#f7ccb0 0,#f7c5a5 3px,#f6a47b 8px,#f26f4c 14px,#ee523f 18px,#e83f3f 22px,#de2e44 29px,#c81951 49px,#af1759 82px,#8c1d5b 132px,#541e4e 204px,#3f1b44 242px,#381a40 279px,#3c1a42 331px,#1f152b 487px,#1a1427 546px,#1a1427 588px)"></i>
<i style="height:2px;background:linear-gradient(90deg,#f7caac 0,#f7c2a2 3px,#f6aa82 7px,#f37752 13px,#ef5840 17px,#e9423e 21px,#e03143 27px,#cd1c4e 45px,#b61657 69px,#8c1d5b 130px,#541e4e 200px,#3e1b43 240px,#37193f 282px,#36193e 342px,#1d1429 484px,#191326 533px,#191326 588px)"></i>
<i style="height:2px;background:linear-gradient(90deg,#f7c8a9 0,#f6c19f 3px,#f6a077 8px,#f37651 13px,#f05e42 16px,#e9423e 21px,#e03143 27px,#cd1c4e 45px,#b51657 69px,#881e5b 133px,#501d4c 201px,#3b1a41 243px,#35193d 294px,#2d1837 379px,#1d1429 478px,#171224 519px,#181325 588px)"></i>
<i style="height:2px;background:linear-gradient(90deg,#f7c6a7 0,#f6bf9c 3px,#f6a77f 7px,#f37450 13px,#ef5640 17px,#e73d3f 22px,#dd2c45 30px,#ca1a50 48px,#b21758 73px,#861e5b 132px,#501d4c 196px,#391a40 242px,#32193b 305px,#261731 400px,#1a1327 479px,#161223 517px,#171224 588px)"></i>
<i style="height:2px;background:linear-gradient(90deg,#f7c4a4 0,#f6bd9a 3px,#f69e75 8px,#f37450 13px,#f05d42 16px,#e8403e 21px,#dd2c45 29px,#c71951 50px,#ad1759 78px,#861e5b 131px,#541e4e 188px,#3b1a41 232px,#31183b 289px,#251730 398px,#181325 481px,#141122 520px,#161223 588px)"></i>
<i style="height:2px;background:linear-gradient(90deg,#f7c2a2 0,#f6b792 4px,#f5946b 9px,#f26b49 14px,#ed4e3e 18px,#e23442 25px,#d2204c 39px,#bd1655 58px,#a11a5b 94px,#711f57 151px,#4a1d49 198px,#36193e 241px,#1f152b 411px,#181325 475px,#121120 514px,#151122 588px)"></i>
<i style="height:2px;background:linear-gradient(90deg,#f6c09e 0,#f6b995 3px,#f69b71 8px,#f3724e 13px,#ee543f 17px,#e63b40 22px,#d92847 32px,#c41753 51px,#a4195b 87px,#7c1f59 137px,#521e4d 183px,#381a40 229px,#281733 338px,#1c1428 445px,#11101f 512px,#141122 588px)"></i>
<i style="height:2px;background:linear-gradient(90deg,#f6bf9c 0,#f6b38d 4px,#f58960 10px,#f26848 14px,#ec4c3e 18px,#e13342 25px,#d11f4c 39px,#bc1656 57px,#8c1d5b 117px,#551e4e 176px,#3a1a41 221px,#31183a 267px,#261731 341px,#1a1427 443px,#10101f 511px,#131121 588px)"></i>
<i style="height:2px;background:linear-gradient(90deg,#f6bc99 0,#f6b590 3px,#f69f76 7px,#f26e4b 13px,#ee513f 17px,#e53940 22px,#db2946 30px,#c61852 48px,#a8185a 79px,#831e5a 126px,#521e4d 176px,#38193f 223px,#23162f 341px,#191326 449px,#10101e 510px,#121020 588px)"></i>
<i style="height:2px;background:linear-gradient(90deg,#f6ba96 0,#f6b48e 3px,#f69c73 7px,#f26d4b 13px,#ed503e 17px,#e53840 22px,#d92847 30px,#c41753 49px,#a8185a 77px,#811e5a 126px,#521e4d 172px,#37193f 221px,#23162e 334px,#191326 446px,#0f0f1d 509px,#11101f 588px)"></i>
<i style="height:2px;background:linear-gradient(90deg,#f6b894 0,#f6b18b 3px,#f5936a 8px,#f26a49 13px,#ed4e3e 17px,#e43741 22px,#d72549 31px,#c01754 51px,#a4195b 82px,#791f59 132px,#521e4d 169px,#391a40 212px,#2e1838 262px,#22162d 336px,#191326 442px,#0f0f1d 511px,#11101f 588px)"></i>
<i style="height:2px;background:linear-gradient(90deg,#f6b792 0,#f6ab83 4px,#f58960 9px,#f16144 14px,#ea453e 18px,#dd2d45 25px,#ca1a50 42px,#af1759 66px,#7f1e5a 124px,#4d1d4b 171px,#35193e 218px,#22162d 330px,#191326 415px,#151223 470px,#0f0f1d 504px,#100f1e 588px)"></i>
<i style="height:2px;background:linear-gradient(90deg,#f6b48f 0,#f6a881 4px,#f5875f 9px,#f16647 13px,#eb493e 17px,#e03043 23px,#d01e4d 35px,#b91656 54px,#9a1b5b 91px,#761f58 131px,#4d1d4b 168px,#381a40 207px,#2b1835 271px,#22162d 331px,#191326 421px,#151223 470px,#0f0f1d 504px,#10101e 588px)"></i>
<i style="height:2px;background:linear-gradient(90deg,#f6b28c 0,#f6ac84 3px,#f5946b 7px,#f16445 13px,#eb473e 17px,#e03143 22px,#d2204c 32px,#bb1656 51px,#8c1d5b 106px,#641f54 144px,#471c48 173px,#33183c 220px,#22162e 325px,#1e152a 393px,#131121 475px,#0f0f1d 518px,#0f0f1d 588px)"></i>
<i style="height:2px;background:linear-gradient(90deg,#f6af88 0,#f6ac84 2px,#f5986f 6px,#f26848 12px,#eb493e 16px,#e13243 21px,#d5234a 28px,#c11754 45px,#a4195b 74px,#801e5a 118px,#4c1d4a 163px,#3a1a41 194px,#291734 268px,#23162f 329px,#22162e 384px,#131121 480px,#0f0f1d 522px,#0f0f1d 588px)"></i>
<i style="height:2px;background:linear-gradient(90deg,#f6ac84 0,#f6a57d 3px,#f58e65 7px,#f16546 12px,#eb473e 16px,#e13243 20px,#d11f4c 29px,#bb1656 48px,#9e1a5b 80px,#7c1f59 119px,#471c48 165px,#38193f 196px,#261731 282px,#261731 345px,#22162d 399px,#0f0f1d 512px,#0e0f1c 588px)"></i>
<i style="height:2px;background:linear-gradient(90deg,#f6a881 0,#f6a279 3px,#f58b62 7px,#f16144 12px,#ea433e 16px,#df2f44 20px,#d01e4d 28px,#b91656 48px,#9d1a5b 79px,#7c1f59 117px,#471c48 162px,#37193f 192px,#251730 285px,#291733 383px,#0f0f1d 512px,#0e0f1c 588px)"></i>
<i style="height:2px;background:linear-gradient(90deg,#f6a57d 0,#f69e75 3px,#f5875f 7px,#f05d42 12px,#e8403f 16px,#dc2c45 20px,#d01e4d 27px,#bd1655 43px,#9f1a5b 73px,#811e5a 111px,#4f1d4c 152px,#3c1a42 174px,#271732 256px,#261731 304px,#2e1838 370px,#0f0f1d 514px,#0e0f1c 588px)"></i>
<i style="height:2px;background:linear-gradient(90deg,#f6a279 0,#f5966d 4px,#f26a49 10px,#ee513f 13px,#e33541 17px,#d5234a 22px,#c31753 35px,#a21a5b 67px,#831e5a 107px,#521e4d 147px,#3c1a42 169px,#32183b 202px,#24162f 280px,#33193c 368px,#2a1734 410px,#11101f 506px,#0e0f1c 588px)"></i>
<i style="height:2px;background:linear-gradient(90deg,#f69e75 0,#f59168 4px,#f16647 10px,#ed4d3e 13px,#e13243 17px,#d3214b 22px,#c01754 35px,#9e1a5b 69px,#811e5a 106px,#521e4d 145px,#3c1a42 165px,#33193c 190px,#23162f 278px,#381a40 361px,#34193c 396px,#161223 484px,#0d0e1c 552px,#0d0e1c 588px)"></i>
<i style="height:2px;background:linear-gradient(90deg,#f59a71 0,#f5936a 3px,#f3744f 8px,#ee513f 12px,#e63a40 15px,#d5234a 20px,#c61852 28px,#a3195b 61px,#801e5a 106px,#501d4c 144px,#391a40 166px,#31183b 192px,#23162e 275px,#37193f 330px,#411b45 368px,#3a1a41 397px,#22162e 451px,#161223 495px,#0e0e1c 548px,#0e0e1c 588px)"></i>
<i style="height:2px;background:linear-gradient(90deg,#f5966d 0,#f59067 3px,#f37752 7px,#ee553f 11px,#e33541 15px,#d3214b 20px,#c41852 27px,#a01a5b 61px,#801e5a 104px,#501d4c 142px,#38193f 164px,#30183a 192px,#22162e 273px,#32183b 310px,#451c47 349px,#481c48 382px,#3c1a42 406px,#251630 451px,#191326 488px,#0e0e1c 543px,#0e0e1c 588px)"></i>
<i style="height:2px;background:linear-gradient(90deg,#f5936a 0,#f58c63 3px,#f3744f 7px,#ee513f 11px,#e13243 15px,#d01e4d 20px,#c01754 28px,#9d1a5b 63px,#801e5a 102px,#501d4c 140px,#36193e 163px,#2f1839 191px,#22162d 272px,#34193d 307px,#4c1d4a 342px,#521e4d 378px,#491c49 401px,#2e1838 440px,#1c1428 486px,#131121 517px,#0e0f1c 551px,#0e0f1c 588px)"></i>
<i style="height:2px;background:linear-gradient(90deg,#f59067 0,#f58860 3px,#f3704c 7px,#ed4d3e 11px,#df2f44 15px,#cd1c4e 20px,#be1655 27px,#9b1b5b 62px,#7d1f5a 102px,#4f1d4c 139px,#33183c 164px,#2d1837 201px,#22162d 269px,#2f1839 295px,#501d4c 334px,#5a1e50 362px,#5a1e50 388px,#2e1838 450px,#1e152a 485px,#181325 511px,#0e0f1c 537px,#0e0f1c 588px)"></i>
<i style="height:2px;background:linear-gradient(90deg,#f58c63 0,#f48059 4px,#f05b41 9px,#e8403f 12px,#d92748 16px,#c71951 21px,#b31758 33px,#941c5b 68px,#7b1f59 102px,#4c1d4b 139px,#34193c 162px,#2d1837 190px,#22162d 268px,#30183a 293px,#541e4e 328px,#621f53 354px,#641f54 384px,#5a1e50 403px,#32183b 454px,#22162d 483px,#1c1428 510px,#0e0f1c 536px,#0e0f1c 588px)"></i>
<i style="height:2px;background:linear-gradient(90deg,#f58860 0,#f47b55 4px,#ef5740 9px,#e63c3f 12px,#d62449 16px,#c41852 21px,#b41658 30px,#941c5b 65px,#7b1f59 100px,#4c1d4a 138px,#32183b 161px,#2b1835 195px,#22162d 264px,#2d1837 285px,#4b1d4a 311px,#651f54 339px,#6f1f57 371px,#6c1f56 393px,#38193f 456px,#251630 482px,#20152c 508px,#0f0f1d 535px,#0e0f1c 588px)"></i>
<i style="height:2px;background:linear-gradient(90deg,#f4845c 0,#f47d56 3px,#f16345 7px,#e9413e 11px,#d82648 15px,#c41852 20px,#b11758 30px,#8f1d5b 69px,#761f58 101px,#471c48 140px,#31183b 161px,#2a1835 191px,#22162e 262px,#2f1839 285px,#5c1e51 318px,#721f58 346px,#791f59 378px,#741f58 395px,#3e1b43 460px,#2b1835 477px,#251730 506px,#10101e 534px,#0e0f1c 588px)"></i>
<i style="height:2px;background:linear-gradient(90deg,#f48059 0,#f37953 3px,#f05f43 7px,#ea453e 10px,#da2947 14px,#ca1a50 18px,#b41658 26px,#941c5b 59px,#741f58 101px,#451c47 140px,#31183a 161px,#291734 189px,#23162e 257px,#2c1837 278px,#401b44 294px,#671f55 320px,#7b1f59 344px,#821e5a 378px,#7c1f59 397px,#471c48 460px,#2f1839 477px,#2a1834 506px,#11101f 534px,#0e0f1c 571px,#0e0f1c 588px)"></i>
<i style="height:2px;background:linear-gradient(90deg,#f47d56 0,#f37550 3px,#f05b41 7px,#e9413e 10px,#d4224a 15px,#c11754 20px,#af1759 28px,#8c1d5b 67px,#6f1f57 103px,#3d1a42 145px,#2d1837 165px,#22162e 250px,#2c1836 273px,#461c48 293px,#701f57 320px,#831e5a 343px,#8b1d5b 377px,#851e5a 397px,#501d4c 460px,#33183c 479px,#2f1839 504px,#11101f 535px,#0e0f1c 570px,#0e0f1c 588px)"></i>
<i style="height:2px;background:linear-gradient(90deg,#f37953 0,#f3724e 3px,#ef5740 7px,#e43841 11px,#d3214b 15px,#c21753 19px,#af1759 27px,#8a1d5b 66px,#6f1f57 100px,#3e1b43 143px,#2d1837 164px,#22162d 232px,#271732 261px,#381a40 280px,#6c1f56 310px,#851e5a 332px,#901d5b 357px,#921c5b 382px,#8b1d5b 401px,#581e50 462px,#3c1a42 476px,#37193f 485px,#34193d 504px,#11101f 537px,#0e0f1c 581px,#0e0f1c 588px)"></i>
<i style="height:2px;background:linear-gradient(90deg,#f37550 0,#f26e4b 3px,#ec4c3e 8px,#da2947 13px,#c81951 17px,#b31758 24px,#9f1a5b 40px,#681f55 104px,#33183c 153px,#271732 184px,#22162d 243px,#2e1838 267px,#431c46 282px,#761f58 310px,#8e1d5b 333px,#981b5b 366px,#961c5b 393px,#651f54 460px,#421b45 477px,#3d1a42 485px,#3d1a42 501px,#251730 520px,#11101f 538px,#0e0f1c 575px,#0e0f1c 588px)"></i>
<i style="height:2px;background:linear-gradient(90deg,#f3704c 0,#f26848 3px,#ee513f 7px,#e13342 11px,#ca1a50 16px,#b41658 23px,#a11a5b 36px,#7c1f59 78px,#5f1f52 110px,#33183c 152px,#261731 185px,#20152c 237px,#2e1838 262px,#491d49 281px,#7a1f59 307px,#901d5b 325px,#9b1b5b 348px,#9e1a5b 387px,#841e5a 431px,#6e1f57 460px,#491d49 476px,#421b45 485px,#431c46 501px,#2f1839 515px,#161224 533px,#0e0f1c 552px,#0e0f1c 588px)"></i>
<i style="height:2px;background:linear-gradient(90deg,#f26c4a 0,#f26848 2px,#ee553f 6px,#e43741 10px,#d2204c 14px,#c11754 18px,#aa185a 27px,#801e5a 70px,#601f53 106px,#34193d 150px,#261731 183px,#20152c 232px,#2a1735 254px,#3f1b43 271px,#721f58 297px,#921c5b 318px,#9f1a5b 342px,#a3195b 381px,#961c5b 412px,#761f58 460px,#4e1d4b 477px,#481c48 487px,#481c48 503px,#2e1838 518px,#161223 535px,#0e0f1c 554px,#0e0f1c 588px)"></i>
<i style="height:2px;background:linear-gradient(90deg,#f26848 0,#f05d42 4px,#e9423e 8px,#d5234a 13px,#c01754 18px,#ad1759 25px,#871e5b 59px,#5b1e51 108px,#34193d 149px,#24162f 190px,#1f152b 231px,#2d1837 254px,#491c49 272px,#771f59 295px,#951c5b 314px,#a4195b 340px,#a6195a 381px,#9b1b5b 411px,#7e1f5a 459px,#631f53 470px,#511e4d 478px,#4d1d4b 489px,#4d1d4b 502px,#391a40 514px,#1e152a 529px,#100f1e 546px,#0e0f1c 588px)"></i>
<i style="height:2px;background:linear-gradient(90deg,#f16646 0,#ef5a41 4px,#e8403e 8px,#d5224a 13px,#c21753 17px,#ac185a 25px,#801e5a 65px,#541e4e 113px,#33183c 150px,#22162d 198px,#1f152b 230px,#2e1838 251px,#411b45 264px,#761f58 289px,#961c5b 309px,#a4195b 328px,#aa185a 374px,#9f1a5b 408px,#831e5a 459px,#651f54 471px,#541e4e 480px,#511e4d 503px,#3f1b44 513px,#22162e 527px,#121020 543px,#0e0f1c 577px,#0e0f1c 588px)"></i>
<i style="height:2px;background:linear-gradient(90deg,#f16646 0,#ef5a41 4px,#e8403f 8px,#cf1e4d 14px,#ba1656 19px,#a6195a 28px,#761f58 74px,#451c47 125px,#32183b 153px,#1f152b 206px,#21162d 232px,#31183b 251px,#561e4f 270px,#821e5a 291px,#9c1b5b 308px,#a9185a 331px,#aa185a 388px,#881e5b 458px,#741f58 467px,#5a1e50 478px,#551e4e 488px,#571e4f 501px,#451c47 512px,#2b1835 523px,#161223 538px,#0e0f1c 558px,#0e0f1c 588px)"></i>
<i style="height:2px;background:linear-gradient(90deg,#f16445 0,#ef5840 4px,#e83f3f 8px,#d3214b 13px,#c21753 17px,#ad1759 24px,#941c5b 43px,#681f55 86px,#3a1a41 138px,#24162f 188px,#1f152b 221px,#2b1836 243px,#3e1b43 255px,#741f58 279px,#991b5b 301px,#a9185a 320px,#ad1759 378px,#9b1b5b 424px,#891e5b 459px,#5f1f52 477px,#581e50 486px,#581e50 503px,#421b45 514px,#271732 526px,#131121 542px,#0e0f1c 568px,#0e0f1c 588px)"></i>
<i style="height:2px;background:linear-gradient(90deg,#f16445 0,#ef5840 4px,#e43841 9px,#ce1d4e 14px,#ba1656 19px,#a6195a 27px,#711f57 74px,#3a1a41 136px,#1f152b 206px,#23162f 230px,#37193f 248px,#721f58 274px,#911d5b 290px,#a7195a 310px,#ae1759 341px,#ab185a 390px,#8b1d5b 458px,#761f58 468px,#601f52 478px,#5b1e51 488px,#5b1e51 502px,#491d49 512px,#271732 526px,#141122 541px,#0e0f1c 569px,#0e0f1c 588px)"></i>
<i style="height:2px;background:linear-gradient(90deg,#f16244 0,#ef5640 4px,#e73d3f 8px,#ce1d4e 14px,#b91657 19px,#a3195b 29px,#6e1f57 76px,#3c1a42 132px,#21162d 202px,#22162e 223px,#32193b 241px,#491c49 253px,#7b1f59 274px,#9b1b5b 293px,#ab185a 313px,#af1759 358px,#ab185a 392px,#891e5b 459px,#611f53 478px,#5b1e51 487px,#5c1e51 502px,#4b1d4a 512px,#2a1734 525px,#151223 540px,#0e0e1c 565px,#0e0f1c 588px)"></i>
<i style="height:2px;background:linear-gradient(90deg,#f16244 0,#ef5640 4px,#e33641 9px,#ce1d4e 14px,#b91657 19px,#a6195a 27px,#711f57 71px,#3d1a42 128px,#2c1836 171px,#22162d 209px,#291734 229px,#381a40 242px,#741f58 267px,#971c5b 285px,#aa185a 307px,#b01759 341px,#ad1759 387px,#881e5b 458px,#781f59 467px,#611f53 478px,#5c1e51 488px,#5c1e51 502px,#481c48 513px,#2a1734 525px,#151223 540px,#0e0e1c 565px,#0e0f1c 588px)"></i>
<i style="height:2px;background:linear-gradient(90deg,#f06043 0,#ee543f 4px,#e33541 9px,#cd1c4e 14px,#b51657 20px,#a4195b 28px,#6e1f57 73px,#3e1b43 126px,#32183b 155px,#23162f 208px,#2e1838 230px,#451c47 244px,#7a1f59 266px,#991b5b 283px,#ab185a 305px,#b01759 334px,#ab185a 389px,#861e5b 458px,#5e1f52 480px,#5a1e50 503px,#441c46 514px,#24162f 528px,#121020 545px,#0e0f1c 579px,#0e0f1c 588px)"></i>
<i style="height:2px;background:linear-gradient(90deg,#f06043 0,#ee543f 4px,#e23442 9px,#cd1c4e 14px,#b81657 19px,#a4195b 27px,#6d1f56 73px,#3f1b43 123px,#32183b 155px,#261731 205px,#2f1839 225px,#411b45 238px,#791f59 262px,#981b5b 278px,#a9185a 297px,#b01759 325px,#aa185a 389px,#831e5a 457px,#6f1f57 469px,#5c1e51 481px,#581e50 502px,#471c48 512px,#271732 526px,#141122 541px,#0e0f1c 569px,#0e0f1c 588px)"></i>
<i style="height:2px;background:linear-gradient(90deg,#f05e42 0,#ee523f 4px,#e23442 9px,#cc1b4f 14px,#b41658 20px,#9f1a5b 30px,#681f55 77px,#3d1a42 124px,#32183b 156px,#291734 203px,#34193c 224px,#501d4c 241px,#841e5a 263px,#9e1a5b 280px,#ad1759 306px,#af1759 340px,#a7195a 390px,#7d1f5a 458px,#5a1e50 480px,#551e4e 503px,#3e1b43 515px,#261731 526px,#131121 542px,#0e0f1c 572px,#0e0f1c 588px)"></i>
<i style="height:2px;background:linear-gradient(90deg,#f05e42 0,#ee523f 4px,#e13342 9px,#cb1b4f 14px,#b41658 20px,#a21a5b 28px,#6c1f56 73px,#3f1b43 121px,#33183c 152px,#2c1837 201px,#38193f 221px,#581e50 240px,#8b1d5b 263px,#a11a5b 280px,#ad1759 307px,#ab185a 352px,#a3195b 390px,#7a1f59 456px,#571e4f 480px,#521e4d 502px,#3a1a41 515px,#1f152b 529px,#11101f 546px,#0e0f1c 588px)"></i>
<i style="height:2px;background:linear-gradient(90deg,#f05c42 0,#ed503e 4px,#e13342 9px,#cf1e4d 13px,#b91656 18px,#a3195b 27px,#6b1f56 73px,#401b44 119px,#34193d 147px,#2f1839 197px,#391a40 215px,#5b1e51 236px,#8e1d5b 261px,#a21a5b 278px,#ab185a 303px,#aa185a 342px,#9e1a5b 389px,#731f58 456px,#541e4e 480px,#4c1d4a 503px,#36193e 515px,#1c1428 531px,#100f1e 547px,#0e0f1c 588px)"></i>
<i style="height:2px;background:linear-gradient(90deg,#f05b41 0,#ed503e 4px,#e03143 9px,#ca1a50 14px,#b21758 20px,#9e1a5b 30px,#681f55 76px,#3f1b43 121px,#34193d 152px,#33183c 195px,#421b45 215px,#601f52 233px,#911d5b 259px,#a4195b 277px,#aa185a 304px,#a01a5b 371px,#8c1d5b 411px,#691f55 459px,#501d4c 479px,#481c48 502px,#2b1836 519px,#141122 537px,#0e0f1c 564px,#0e0f1c 588px)"></i>
<i style="height:2px;background:linear-gradient(90deg,#ef5a41 0,#ed4e3e 4px,#e03143 9px,#ce1d4e 13px,#b91657 18px,#a3195b 26px,#6b1f56 73px,#3f1b43 122px,#35193e 152px,#37193f 192px,#471c48 211px,#711f57 237px,#961c5b 259px,#a6195a 279px,#a7195a 314px,#961c5b 382px,#711f57 441px,#591e50 466px,#491d49 480px,#411b45 503px,#20152c 525px,#11101f 541px,#0e0f1c 588px)"></i>
<i style="height:2px;background:linear-gradient(90deg,#ef5941 0,#ed4e3e 4px,#df2f44 9px,#c81951 14px,#ad1759 21px,#991b5b 33px,#641f54 81px,#3f1b43 124px,#37193f 151px,#3a1a41 186px,#4d1d4b 209px,#851e5a 243px,#9e1a5b 264px,#a8185a 285px,#931c5b 373px,#751f58 425px,#571e4f 462px,#441c46 480px,#3c1a42 502px,#151122 533px,#0d0e1c 556px,#0e0f1c 588px)"></i>
<i style="height:2px;background:linear-gradient(90deg,#ef5840 0,#ec4c3e 4px,#df2f44 9px,#cd1c4e 13px,#b71657 18px,#a6195a 24px,#921c5b 39px,#5e1f52 88px,#3f1b44 125px,#381a40 155px,#401b44 187px,#5a1e50 211px,#8e1d5b 245px,#a21a5b 265px,#a7195a 287px,#951c5b 340px,#881e5b 380px,#611f53 443px,#3f1b43 479px,#34193d 504px,#121120 534px,#0e0f1c 567px,#0e0f1c 588px)"></i>
<i style="height:2px;background:linear-gradient(90deg,#ef5740 0,#ec4c3e 4px,#de2e44 9px,#c71951 14px,#af1759 20px,#9e1a5b 28px,#691f55 77px,#421b45 122px,#3b1a41 151px,#431c46 182px,#5c1e51 205px,#901d5b 241px,#a4195b 265px,#a6195a 283px,#981b5b 309px,#8e1d5b 339px,#801e5a 382px,#5b1e51 441px,#37193f 481px,#2e1838 505px,#11101f 534px,#0e0f1c 571px,#0e0f1c 588px)"></i>
<i style="height:2px;background:linear-gradient(90deg,#ef5640 0,#ec4a3e 4px,#de2e44 9px,#cb1b4f 13px,#b21758 19px,#a11a5b 26px,#6f1f57 72px,#441c46 123px,#3e1b43 150px,#481c48 179px,#621f53 203px,#911d5b 237px,#a4195b 264px,#a5195b 284px,#8c1d5b 318px,#7b1f59 375px,#591e50 435px,#33183c 479px,#281733 506px,#100f1e 534px,#0e0f1c 588px)"></i>
<i style="height:2px;background:linear-gradient(90deg,#ee553f 0,#ec4a3e 4px,#d92748 10px,#c61852 14px,#ae1759 20px,#981b5b 32px,#661f54 84px,#451c47 126px,#421b45 151px,#4e1d4b 178px,#6c1f56 203px,#901d5b 231px,#a4195b 259px,#a4195b 281px,#841e5a 317px,#741f58 375px,#531e4d 436px,#32183b 472px,#23162e 508px,#0f0f1d 534px,#0e0f1c 588px)"></i>
<i style="height:2px;background:linear-gradient(90deg,#ee543f 0,#eb483e 4px,#d82748 10px,#c51852 14px,#aa185a 21px,#9a1b5b 30px,#641f54 88px,#491c49 126px,#461c48 153px,#541e4e 177px,#8c1d5b 221px,#9e1a5b 246px,#a6195a 271px,#9d1a5b 287px,#811e5a 310px,#761f58 336px,#701f57 370px,#4f1d4c 434px,#33183c 462px,#271732 489px,#1a1427 514px,#0e0f1c 535px,#0e0f1c 588px)"></i>
<i style="height:2px;background:linear-gradient(90deg,#ee533f 0,#eb483e 4px,#d82748 10px,#c41852 14px,#aa185a 21px,#991b5b 31px,#6d1f56 81px,#4d1d4b 124px,#4b1d4a 151px,#5c1e51 176px,#8e1d5b 218px,#9f1a5b 245px,#a6195a 270px,#991b5b 286px,#7a1f59 309px,#701f57 332px,#6a1f56 367px,#4d1d4b 432px,#34193d 453px,#24162f 486px,#181325 513px,#0e0f1c 536px,#0e0f1c 588px)"></i>
<i style="height:2px;background:linear-gradient(90deg,#ee523f 0,#eb463e 4px,#d72549 10px,#c41753 14px,#ab185a 20px,#981b5b 31px,#6c1f56 85px,#511e4d 126px,#521e4d 152px,#671f55 178px,#911d5b 215px,#9f1a5b 243px,#a5195b 266px,#9b1b5b 281px,#731f58 309px,#691f55 330px,#651f54 366px,#4c1d4a 430px,#31183b 451px,#21152c 485px,#11101f 520px,#0e0f1c 545px,#0e0f1c 588px)"></i>
<i style="height:2px;background:linear-gradient(90deg,#ee513f 0,#eb463e 4px,#d72549 10px,#c41753 14px,#a8185a 21px,#971c5b 33px,#711f57 82px,#561e4f 127px,#591e50 152px,#6d1f56 176px,#911d5b 208px,#a11a5b 247px,#a21a5b 270px,#901d5b 285px,#6e1f57 308px,#641f54 327px,#601f52 369px,#491c49 430px,#2e1838 450px,#1d1429 485px,#0e0f1c 532px,#0e0f1c 588px)"></i>
<i style="height:2px;background:linear-gradient(90deg,#ed503e 0,#ea443e 4px,#db2946 9px,#c81951 13px,#ab185a 20px,#9e1a5b 26px,#7c1f59 67px,#5c1e51 126px,#601f52 149px,#761f58 175px,#921c5b 204px,#9e1a5b 237px,#a11a5b 263px,#941c5b 279px,#6b1f56 306px,#601f52 325px,#5b1e51 371px,#451c47 430px,#2c1837 447px,#1d1429 477px,#0e0f1c 532px,#0e0f1c 588px)"></i>
<i style="height:2px;background:linear-gradient(90deg,#ed4f3e 0,#ea443e 4px,#d62449 10px,#c21753 14px,#ad1759 19px,#9e1a5b 26px,#7c1f59 71px,#631f53 125px,#681f55 148px,#811e5a 177px,#941c5b 199px,#9e1a5b 238px,#9e1a5b 262px,#901d5b 278px,#651f54 307px,#5b1e51 326px,#581e50 370px,#421b45 430px,#281733 448px,#191326 480px,#0e0f1c 531px,#0e0f1c 588px)"></i>
<i style="height:2px;background:linear-gradient(90deg,#ed4e3e 0,#e9423e 4px,#d5234a 10px,#c21753 14px,#aa185a 20px,#9a1b5b 29px,#7e1f5a 74px,#691f55 125px,#711f57 150px,#961c5b 194px,#9c1b5b 233px,#9a1b5b 261px,#8a1d5b 279px,#621f53 306px,#581e4f 324px,#561e4f 363px,#3f1b43 429px,#24162f 449px,#171224 480px,#0e0f1c 532px,#0e0f1c 588px)"></i>
<i style="height:2px;background:linear-gradient(90deg,#ed4d3e 0,#e9423e 4px,#d5224a 10px,#c21753 14px,#aa185a 20px,#9c1b5b 28px,#831e5a 68px,#701f57 125px,#7b1f59 151px,#981b5b 188px,#9a1b5b 218px,#971c5b 259px,#891e5b 276px,#5b1e51 309px,#541e4e 327px,#501d4c 370px,#381a40 430px,#1f152b 451px,#121120 491px,#0e0f1c 540px,#0e0f1c 588px)"></i>
<i style="height:2px;background:linear-gradient(90deg,#ec4c3e 0,#e73d3f 5px,#cb1b4f 12px,#b51657 17px,#a4195b 23px,#931c5b 41px,#831e5a 76px,#761f58 124px,#8a1d5b 159px,#9b1b5b 185px,#981b5b 225px,#901d5b 263px,#801e5a 280px,#571e4f 310px,#4f1d4c 328px,#4d1d4b 365px,#33183c 430px,#1d1429 451px,#11101f 489px,#0e0f1c 549px,#0e0f1c 588px)"></i>
<i style="height:2px;background:linear-gradient(90deg,#ec4b3e 0,#e8403e 4px,#d5224a 10px,#c21753 14px,#a8185a 21px,#9a1b5b 32px,#881e5b 68px,#7d1f5a 122px,#9e1a5b 183px,#971c5b 222px,#8a1d5b 267px,#711f57 289px,#511e4d 312px,#491d49 330px,#491c49 364px,#2d1837 432px,#191326 452px,#0f0f1d 499px,#0e0f1c 588px)"></i>
<i style="height:2px;background:linear-gradient(90deg,#ec4a3e 0,#e63b40 5px,#cb1b4f 12px,#b21758 18px,#a21a5b 25px,#8f1d5b 54px,#861e5b 103px,#861e5b 127px,#a21a5b 178px,#9f1a5b 195px,#8d1d5b 243px,#841e5a 271px,#6c1f56 291px,#4a1d49 314px,#431c46 333px,#421b45 365px,#271732 433px,#171224 453px,#0f0f1d 497px,#0e0f1c 588px)"></i>
<i style="height:2px;background:linear-gradient(90deg,#eb493e 0,#e83f3f 4px,#d5224a 10px,#c21753 14px,#a8185a 22px,#981b5b 39px,#8c1d5b 73px,#8c1d5b 126px,#a21a5b 165px,#a4195b 187px,#911d5b 221px,#881e5b 254px,#7d1f5a 277px,#631f53 295px,#451c47 313px,#3d1a42 330px,#3d1a42 364px,#271732 425px,#131121 457px,#0e0f1c 519px,#0e0f1c 588px)"></i>
<i style="height:2px;background:linear-gradient(90deg,#eb483e 0,#e83f3f 4px,#d11f4c 11px,#bb1656 16px,#a8185a 23px,#981b5b 42px,#8f1d5b 74px,#921c5b 122px,#a4195b 158px,#a8185a 183px,#9e1a5b 196px,#921c5b 210px,#861e5b 241px,#821e5a 270px,#6f1f57 287px,#411b45 312px,#37193f 327px,#36193e 364px,#1e152a 434px,#121020 457px,#0e0f1c 538px,#0e0f1c 588px)"></i>
<i style="height:2px;background:linear-gradient(90deg,#eb473e 0,#e73d3f 4px,#d82748 9px,#c41753 14px,#ab185a 22px,#9d1a5b 38px,#921c5b 68px,#981b5b 120px,#a7195a 153px,#aa185a 182px,#9f1a5b 194px,#911d5b 207px,#851e5a 236px,#811e5a 270px,#711f57 285px,#3c1a42 311px,#32183b 325px,#31183a 367px,#191326 437px,#0f0f1e 465px,#0e0f1c 588px)"></i>
<i style="height:2px;background:linear-gradient(90deg,#eb463e 0,#e53940 5px,#cd1c4e 12px,#b81657 18px,#a8185a 26px,#961c5b 59px,#961c5b 91px,#a21a5b 129px,#ac185a 157px,#ab185a 184px,#9e1a5b 195px,#8f1d5b 204px,#821e5a 235px,#821e5a 269px,#721f58 283px,#421b45 305px,#31183a 317px,#2d1837 340px,#2c1836 367px,#151222 441px,#0e0e1c 482px,#0e0f1c 588px)"></i>
<i style="height:2px;background:linear-gradient(90deg,#ea443e 0,#e53940 5px,#ca1a50 13px,#b31758 21px,#a7195a 30px,#981b5b 61px,#9b1b5b 98px,#ae1759 150px,#ad1759 183px,#a01a5b 193px,#8c1d5b 204px,#811e5a 238px,#821e5a 267px,#761f58 279px,#5b1e51 292px,#33183c 310px,#281733 328px,#271732 367px,#0e0f1c 464px,#0e0f1c 588px)"></i>
<i style="height:2px;background:linear-gradient(90deg,#ea443e 0,#e53940 5px,#cc1b4f 13px,#b51657 21px,#a9185a 32px,#9a1b5b 61px,#9e1a5b 93px,#b01759 147px,#af1759 183px,#a11a5b 192px,#8b1d5b 203px,#811e5a 231px,#811e5a 266px,#731f58 279px,#451c47 299px,#30183a 310px,#261731 325px,#22162e 371px,#0d0e1c 467px,#0e0f1c 588px)"></i>
<i style="height:2px;background:linear-gradient(90deg,#e9423e 0,#e53840 5px,#ca1a50 14px,#b41658 23px,#a01a5b 50px,#9c1b5b 77px,#b31758 145px,#b01759 182px,#a4195b 191px,#891e5b 203px,#811e5a 228px,#801e5a 265px,#6f1f57 279px,#3f1b43 300px,#2b1836 311px,#22162e 329px,#1e152a 373px,#0e0e1c 462px,#0e0f1c 588px)"></i>
<i style="height:2px;background:linear-gradient(90deg,#e9423e 0,#e63b40 4px,#cd1c4e 14px,#b91656 23px,#a4195b 49px,#9e1a5b 73px,#a9185a 107px,#b41658 137px,#b21758 180px,#a6195a 190px,#871e5b 203px,#7f1e5a 236px,#7d1f5a 261px,#711f57 275px,#451c47 295px,#2b1836 309px,#22162d 326px,#191326 382px,#0e0f1c 467px,#0e0f1c 588px)"></i>
<i style="height:2px;background:linear-gradient(90deg,#e9413e 0,#e13342 7px,#cd1c4e 15px,#ba1656 25px,#a4195b 54px,#a01a5b 80px,#b61657 133px,#b41658 177px,#a7195a 189px,#871e5b 203px,#7e1f5a 237px,#761f58 264px,#661f54 278px,#34193c 302px,#23162e 318px,#1c1428 359px,#0f0f1e 433px,#0e0f1c 588px)"></i>
<i style="height:2px;background:linear-gradient(90deg,#e8403e 0,#e33641 6px,#cd1c4e 16px,#ba1656 29px,#a4195b 59px,#a3195b 84px,#b91657 131px,#b41658 176px,#a6195a 189px,#881e5b 203px,#791f59 244px,#6e1f57 266px,#561e4f 283px,#31183b 302px,#23162e 318px,#191326 354px,#0f0f1d 433px,#0e0f1c 588px)"></i>
<i style="height:2px;background:linear-gradient(90deg,#e8403f 0,#e23442 7px,#cf1d4d 17px,#bb1656 32px,#a5195b 60px,#a4195b 85px,#bb1656 130px,#b41658 170px,#aa185a 185px,#861e5b 206px,#671f55 266px,#4d1d4b 284px,#2d1837 304px,#22162d 324px,#181325 351px,#0e0f1c 435px,#0e0f1c 588px)"></i>
<i style="height:2px;background:linear-gradient(90deg,#e83f3f 0,#e43841 6px,#d11f4c 18px,#bd1655 34px,#a7195a 61px,#a6195a 86px,#be1655 132px,#ba1656 152px,#ac185a 181px,#991b5b 194px,#861e5b 206px,#701f57 238px,#5c1e51 269px,#3b1a41 292px,#261731 312px,#1d1529 334px,#161223 351px,#0e0f1c 431px,#0e0f1c 588px)"></i>
<i style="height:2px;background:linear-gradient(90deg,#e83f3f 0,#e33541 8px,#cf1e4d 22px,#b91656 42px,#a8185a 63px,#a9185a 89px,#c01754 131px,#bf1654 146px,#a5195b 184px,#851e5a 206px,#6e1f57 229px,#511e4d 272px,#2e1838 302px,#23162e 322px,#1d1529 334px,#141122 350px,#0e0f1c 445px,#0e0f1c 588px)"></i>
<i style="height:2px;background:linear-gradient(90deg,#e83f3f 0,#e33541 9px,#ca1a50 30px,#b11758 53px,#a7195a 72px,#ab185a 94px,#c31753 130px,#c41852 144px,#b31758 160px,#9c1b5b 188px,#801e5a 208px,#681f55 228px,#491d49 274px,#2c1836 303px,#1d1429 333px,#121020 350px,#0e0f1c 457px,#0e0f1c 588px)"></i>
<i style="height:2px;background:linear-gradient(90deg,#e83f3f 0,#e63a40 8px,#d11f4c 29px,#bb1656 45px,#aa185a 67px,#aa185a 89px,#c81951 133px,#ca1a50 143px,#af1759 160px,#951c5b 189px,#691f55 220px,#5d1f51 232px,#411b45 278px,#271732 310px,#1c1428 333px,#11101f 350px,#0e0f1c 460px,#0e0f1c 588px)"></i>
<i style="height:2px;background:linear-gradient(90deg,#e8403f 0,#e73d3f 11px,#d62449 29px,#c31753 41px,#ad1759 63px,#aa185a 84px,#b81657 106px,#ce1d4e 136px,#cd1c4e 144px,#b31758 155px,#a11a5b 170px,#7d1f5a 203px,#681f55 217px,#5b1e51 225px,#381a40 283px,#21162d 320px,#191326 335px,#10101f 351px,#0e0f1c 506px,#0e0f1c 588px)"></i>
<i style="height:2px;background:linear-gradient(90deg,#e8403e 0,#e9423e 11px,#e53840 21px,#cd1c4e 37px,#b61657 54px,#aa185a 74px,#ae1759 91px,#c81951 120px,#d4224a 142px,#c21753 149px,#a8185a 158px,#711f57 208px,#531e4d 226px,#36193e 282px,#1f152b 321px,#171224 335px,#0f0f1e 352px,#0e0f1c 588px)"></i>
<i style="height:2px;background:linear-gradient(90deg,#e9423e 0,#ec4c3e 12px,#ea453e 20px,#d3214b 36px,#c01754 48px,#ae1759 67px,#af1759 87px,#ca1a50 116px,#d82648 140px,#d4224a 144px,#bd1655 150px,#a11a5b 158px,#8a1d5b 176px,#681f55 209px,#4e1d4b 225px,#30183a 287px,#1c1428 324px,#0f0f1d 349px,#0e0f1c 588px)"></i>
<i style="height:2px;background:linear-gradient(90deg,#ea453e 0,#ef5740 12px,#ee533f 19px,#e53940 28px,#d01e4d 39px,#bd1655 52px,#af1759 69px,#b01759 83px,#c71951 107px,#d82648 130px,#d82748 142px,#ca1a50 147px,#b01759 152px,#991b5b 158px,#881e5b 168px,#5e1f52 211px,#491c49 226px,#2d1837 287px,#181325 327px,#0e0f1c 350px,#0e0f1c 588px)"></i>
<i style="height:2px;background:linear-gradient(90deg,#eb493e 0,#f16244 11px,#f16445 17px,#ee533f 24px,#e23442 32px,#d11f4c 40px,#bd1655 53px,#b31758 69px,#b51657 84px,#cd1c4e 107px,#d92847 129px,#d72549 142px,#c71951 147px,#a9185a 152px,#921c5b 157px,#811e5a 165px,#601f53 201px,#441c46 227px,#291734 288px,#151122 329px,#0d0e1c 357px,#0e0f1c 588px)"></i>
<i style="height:2px;background:linear-gradient(90deg,#ed4d3e 0,#f3704c 12px,#f3714d 18px,#f06043 24px,#e9433e 30px,#db2946 37px,#c91a50 46px,#b91656 61px,#b71657 76px,#cd1c4e 101px,#d92847 122px,#d4224a 139px,#cc1c4e 144px,#b81657 148px,#8f1d5b 155px,#7b1f59 162px,#651f54 182px,#4c1d4b 213px,#3e1b43 230px,#24162f 291px,#121120 330px,#0e0f1c 363px,#0e0f1c 588px)"></i>
<i style="height:2px;background:linear-gradient(90deg,#ee513f 0,#f47a54 11px,#f48059 16px,#f37852 21px,#ee523f 29px,#e03143 36px,#d11f4c 43px,#c01754 56px,#bd1655 72px,#cf1e4d 96px,#d82748 115px,#d62449 129px,#c41852 143px,#b21758 147px,#881e5b 154px,#721f57 161px,#5d1f51 178px,#421b45 217px,#2f1839 254px,#181325 308px,#0e0e1c 349px,#0e0f1c 588px)"></i>
<i style="height:2px;background:linear-gradient(90deg,#ee553f 0,#f47e57 9px,#f58c63 14px,#f58a61 19px,#f3744f 25px,#ed503e 31px,#e13243 37px,#d01e4d 45px,#c41853 58px,#c41852 73px,#d82648 104px,#d5224a 122px,#c01754 138px,#ad1859 145px,#761f58 155px,#611f53 164px,#501d4c 182px,#2f1839 241px,#10101e 328px,#0e0f1c 588px)"></i>
<i style="height:2px;background:linear-gradient(90deg,#ef5a41 0,#f47b55 6px,#f5946b 12px,#f59970 17px,#f59067 21px,#f47e57 25px,#ef5840 31px,#e63b40 36px,#d72549 43px,#ca1a50 54px,#cb1b4f 71px,#d82748 99px,#d01e4d 119px,#b61657 135px,#991b5b 145px,#6e1f57 154px,#581e50 162px,#451c47 180px,#24162f 261px,#0f0f1d 328px,#0e0f1c 588px)"></i>
<i style="height:2px;background:linear-gradient(90deg,#f05e42 0,#f4825a 6px,#f69e75 12px,#f6a47b 17px,#f5966d 22px,#f26d4b 29px,#ee523f 33px,#e43741 38px,#d72549 45px,#ce1d4e 58px,#d82648 94px,#cc1c4e 113px,#b71657 127px,#901d5b 142px,#5b1e51 156px,#471c48 166px,#391a40 185px,#10101f 314px,#0e0f1c 415px,#0e0f1c 588px)"></i>
<i style="height:2px;background:linear-gradient(90deg,#f16144 0,#f5875f 6px,#f6a178 11px,#f6ab83 15px,#f6a880 19px,#f5946b 24px,#f16546 31px,#ec4b3e 35px,#e53840 39px,#db2946 45px,#d5224a 56px,#d82648 88px,#c81951 108px,#aa185a 126px,#741f58 145px,#4c1d4b 157px,#37193f 171px,#2f1839 196px,#121120 298px,#0e0f1c 360px,#0e0f1c 588px)"></i>
<i style="height:2px;background:linear-gradient(90deg,#f16244 0,#f58b62 6px,#f6a67e 11px,#f6b18a 15px,#f6ad86 19px,#f5986f 24px,#f26948 31px,#ed4f3e 35px,#e53840 40px,#db2946 49px,#d72549 83px,#c21753 104px,#9e1a5b 124px,#681f55 144px,#3e1b43 159px,#2e1838 172px,#281733 199px,#151122 275px,#0e0f1c 345px,#0e0f1c 588px)"></i>
<i style="height:2px;background:linear-gradient(90deg,#f16244 0,#f58b63 6px,#f6a880 11px,#f6b18b 15px,#f6ae87 19px,#f6a077 23px,#f26c4a 31px,#ed4d3e 36px,#e63a40 41px,#df2f44 48px,#d82648 77px,#c11754 97px,#921c5b 124px,#5f1f52 143px,#36193e 158px,#271732 172px,#1e152a 223px,#121120 268px,#0e0f1c 368px,#0e0f1c 588px)"></i>
<i style="height:2px;background:linear-gradient(90deg,#f16144 0,#f4845c 5px,#f6a67e 11px,#f6b18a 15px,#f6ad86 19px,#f5936a 25px,#f16646 32px,#ec4b3e 37px,#e53840 43px,#de2e44 57px,#d3214b 77px,#ba1656 94px,#881e5b 123px,#581e4f 142px,#32183b 157px,#21162d 172px,#1e152a 201px,#10101f 266px,#0e0f1c 511px,#0e0f1c 588px)"></i>
<i style="height:2px;background:linear-gradient(90deg,#f05f43 0,#f48059 5px,#f69e75 10px,#f6ab83 15px,#f6a67e 20px,#f4845c 27px,#f06043 33px,#ea443e 39px,#e13342 49px,#d3214b 71px,#b91656 88px,#891e5b 118px,#661f54 134px,#2f1839 155px,#1c1428 171px,#191326 191px,#161224 223px,#0f0f1d 259px,#0e0f1c 588px)"></i>
<i style="height:2px;background:linear-gradient(90deg,#ef5a41 0,#f47a54 5px,#f5966d 10px,#f6a47b 15px,#f69f76 20px,#f4845d 26px,#f05d42 33px,#e9413e 40px,#e03043 51px,#cf1e4d 69px,#b71657 84px,#8f1d5b 110px,#6f1f57 128px,#3f1b44 146px,#251630 159px,#161223 175px,#151222 219px,#0e0f1c 255px,#0e0f1c 588px)"></i>
<i style="height:2px;background:linear-gradient(90deg,#ee543f 0,#f3734e 5px,#f59168 11px,#f59b71 16px,#f5936a 21px,#f26f4c 29px,#ee513f 35px,#e63a40 42px,#cd1c4e 66px,#b41758 81px,#921c5b 104px,#721f58 125px,#461c48 142px,#261731 156px,#131121 172px,#131121 199px,#11101f 224px,#0e0f1c 271px,#0e0f1c 588px)"></i>
<i style="height:2px;background:linear-gradient(90deg,#ed4e3e 0,#f26948 5px,#f4865e 11px,#f59067 16px,#f58960 21px,#f26d4b 28px,#ee513f 34px,#e63c3f 40px,#d5224a 56px,#bc1656 72px,#961c5b 97px,#771f59 121px,#521e4d 137px,#2f1839 150px,#161223 166px,#0f0f1e 182px,#11101f 219px,#0e0f1c 263px,#0e0f1c 588px)"></i>
<i style="height:2px;background:linear-gradient(90deg,#eb483e 0,#f16546 6px,#f47b55 11px,#f4845c 16px,#f47d57 21px,#ef5840 31px,#e63a40 39px,#d4224a 53px,#bd1655 68px,#971c5b 94px,#781f59 119px,#5b1e51 133px,#2b1836 151px,#131121 167px,#0f0f1d 189px,#0f0f1d 224px,#0e0f1c 588px)"></i>
<i style="height:2px;background:linear-gradient(90deg,#e9413e 0,#f05f43 7px,#f3724e 12px,#f37651 18px,#f26a49 24px,#eb483e 33px,#dd2d45 43px,#c71951 59px,#a9185a 78px,#781f59 119px,#581e4f 134px,#2b1835 151px,#121020 167px,#0f0f1d 189px,#0f0f1d 223px,#0e0f1c 588px)"></i>
<i style="height:2px;background:linear-gradient(90deg,#e63c3f 0,#ed503e 6px,#f16345 11px,#f26a49 16px,#f16647 21px,#ee543f 28px,#e23442 38px,#d11f4c 50px,#bb1656 64px,#951c5b 93px,#7d1f5a 115px,#6b1f56 126px,#401b44 142px,#20152c 156px,#10101e 170px,#0f0f1d 194px,#0e0f1c 226px,#0e0f1c 588px)"></i>
<i style="height:2px;background:linear-gradient(90deg,#e43741 0,#ee5540 10px,#f06043 16px,#ef5941 23px,#e63a40 34px,#d3214b 47px,#bb1656 63px,#981b5b 89px,#7f1e5a 114px,#681f55 127px,#3c1a42 144px,#1f152b 157px,#100f1e 170px,#10101f 199px,#0e0f1c 329px,#0e0f1c 588px)"></i>
</div>
<svg width="1323" height="501" viewBox="0 0 1323 501">
<defs><clipPath id="ca"><rect x="92.5" y="8" width="442.5" height="424"/></clipPath>
<clipPath id="cb"><rect x="573.5" y="8" width="588.9" height="424"/></clipPath>
<linearGradient id="cbg" x1="0" y1="0" x2="0" y2="1"><stop offset="0.000" stop-color="#faebdd"/><stop offset="0.050" stop-color="#f8d9c3"/><stop offset="0.100" stop-color="#f7c6a6"/><stop offset="0.150" stop-color="#f6b18b"/><stop offset="0.200" stop-color="#f69c73"/><stop offset="0.250" stop-color="#f58860"/><stop offset="0.300" stop-color="#f3714d"/><stop offset="0.350" stop-color="#ef5840"/><stop offset="0.400" stop-color="#e83f3f"/><stop offset="0.450" stop-color="#db2946"/><stop offset="0.500" stop-color="#cb1b4f"/><stop offset="0.550" stop-color="#b71657"/><stop offset="0.600" stop-color="#a11a5b"/><stop offset="0.650" stop-color="#8b1d5b"/><stop offset="0.700" stop-color="#751f58"/><stop offset="0.750" stop-color="#611f53"/><stop offset="0.800" stop-color="#4c1d4b"/><stop offset="0.850" stop-color="#381a40"/><stop offset="0.900" stop-color="#281733"/><stop offset="0.950" stop-color="#1a1327"/><stop offset="1.000" stop-color="#0e0f1c"/></linearGradient></defs>
<g clip-path="url(#ca)">
<path d="M92.7,432.0 L96.5,424.5 L101.5,414.5 L106.5,404.8 L113.0,395.8 L117.4,394.5 L121.9,393.0 L126.3,391.4 L130.7,389.8 L135.2,388.0 L139.6,386.2 L144.0,384.2 L148.5,382.2 L152.9,380.1 L157.3,377.8 L161.8,375.4 L166.2,373.0 L170.7,370.4 L175.1,367.7 L179.5,364.9 L184.0,362.0 L188.4,358.9 L192.8,355.8 L197.3,352.5 L201.7,349.1 L206.1,345.6 L210.6,341.9 L215.0,338.1 L219.4,334.2 L223.9,330.2 L228.3,326.0 L232.7,321.7 L237.2,317.3 L241.6,312.7 L246.0,307.9 L250.5,303.1 L254.9,298.1 L259.3,292.9 L263.8,287.6 L268.2,282.1 L272.7,276.5 L277.1,270.7 L281.5,264.8 L286.0,258.7 L290.4,252.5 L294.8,246.1 L299.3,239.5 L303.7,232.8 L308.1,225.9 L312.6,218.9 L317.0,211.6 L321.4,204.2 L325.9,196.7 L330.3,188.9 L334.7,181.0 L339.2,172.9 L343.6,164.6 L348.0,156.1 L352.5,147.5 L356.9,138.6 L361.3,129.6 L365.8,120.4 L370.2,111.0 L374.7,101.4 L379.1,91.6 L383.5,81.6 L388.0,71.4 L392.4,61.0 L396.8,50.4 L401.3,39.6 L405.7,28.6 L410.1,17.4 L414.6,6.0 L419.0,-5.6" fill="none" stroke="#fff" stroke-width="4.3" stroke-linejoin="round"/>
<path d="M92.7,432.0 L96.5,424.5 L101.5,414.5 L106.5,404.8 L112.0,395.0 L119.3,389.9 L126.5,385.1 L133.8,380.4 L141.0,375.9 L148.3,371.6 L155.5,367.5 L162.8,363.5 L170.0,359.7 L177.3,356.0 L184.5,352.5 L191.8,349.1 L199.1,345.8 L206.3,342.6 L213.6,339.6 L220.8,336.6 L228.1,333.7 L235.3,331.0 L242.6,328.3 L249.8,325.7 L257.1,323.1 L264.3,320.6 L271.6,318.2 L278.8,315.9 L286.1,313.5 L293.4,311.3 L300.6,309.1 L307.9,306.9 L315.1,304.8 L322.4,302.7 L329.6,300.6 L336.9,298.6 L344.1,296.6 L351.4,294.6 L358.6,292.7 L365.9,290.7 L373.2,288.8 L380.4,286.9 L387.7,285.1 L394.9,283.2 L402.2,281.4 L409.4,279.6 L416.7,277.8 L423.9,276.0 L431.2,274.3 L438.4,272.5 L445.7,270.8 L452.9,269.1 L460.2,267.4 L467.5,265.8 L474.7,264.2 L482.0,262.6 L489.2,261.1 L496.5,259.6 L503.7,258.1 L511.0,256.7 L518.2,255.3 L525.5,254.0 L532.7,252.7 L540.0,251.5" fill="none" stroke="#fff" stroke-width="4" stroke-dasharray="14.8 6.4"/>
<circle cx="112.1" cy="395.6" r="5.3" fill="#fff" stroke="#000" stroke-width="2.3"/>
<circle cx="132.9" cy="388.3" r="5.3" fill="#fff" stroke="#000" stroke-width="2.3"/>
<circle cx="153.2" cy="379.3" r="5.3" fill="#fff" stroke="#000" stroke-width="2.3"/>
<circle cx="173.6" cy="367.5" r="5.3" fill="#fff" stroke="#000" stroke-width="2.3"/>
<circle cx="193.8" cy="353.9" r="5.3" fill="#fff" stroke="#000" stroke-width="2.3"/>
<circle cx="213.2" cy="336.6" r="5.3" fill="#fff" stroke="#000" stroke-width="2.3"/>
<circle cx="233.2" cy="320.6" r="5.3" fill="#fff" stroke="#000" stroke-width="2.3"/>
<path d="M92.7,432.0 L96.5,424.5 L101.5,414.5 L106.5,404.8 L112.0,394.4 L119.3,389.3 L126.5,384.4 L133.8,379.7 L141.0,375.2 L148.3,370.8 L155.5,366.7 L162.8,362.7 L170.0,358.8 L177.3,355.1 L184.5,351.5 L191.8,348.1 L199.1,344.8 L206.3,341.6 L213.6,338.4 L220.8,335.4 L228.1,332.5 L235.3,329.7 L242.6,326.9 L249.8,324.3 L257.1,321.6 L264.3,319.1 L271.6,316.6 L278.8,314.2 L286.1,311.8 L293.4,309.5 L300.6,307.2 L307.9,304.9 L315.1,302.7 L322.4,300.5 L329.6,298.3 L336.9,296.2 L344.1,294.1 L351.4,292.0 L358.6,289.9 L365.9,287.8 L373.2,285.8 L380.4,283.8 L387.7,281.8 L394.9,279.8 L402.2,277.8 L409.4,275.9 L416.7,273.9 L423.9,272.0 L431.2,270.1 L438.4,268.2 L445.7,266.3 L452.9,264.5 L460.2,262.7 L467.5,260.9 L474.7,259.1 L482.0,257.4 L489.2,255.7 L496.5,254.0 L503.7,252.4 L511.0,250.8 L518.2,249.3 L525.5,247.8 L532.7,246.4 L540.0,245.1" fill="none" stroke="#6c93d4" stroke-width="4" stroke-dasharray="25.6 6.4 4 6.4"/>
<path d="M92.7,432.0 L96.5,424.5 L101.5,414.5 L106.5,404.8 L112.0,395.5 L116.4,394.2 L120.9,392.7 L125.3,391.1 L129.7,389.5 L134.2,387.7 L138.6,385.9 L143.0,383.9 L147.5,381.9 L151.9,379.8 L156.3,377.5 L160.8,375.1 L165.2,372.7 L169.7,370.1 L174.1,367.4 L178.5,364.6 L183.0,361.7 L187.4,358.6 L191.8,355.5 L196.3,352.2 L200.7,348.8 L205.1,345.3 L209.6,341.6 L214.0,337.8 L218.4,333.9 L222.9,329.9 L227.3,325.7 L231.7,321.4 L236.2,317.0 L240.6,312.4 L245.0,307.6 L249.5,302.8 L253.9,297.8 L258.3,292.6 L262.8,287.3 L267.2,281.8 L271.7,276.2 L276.1,270.4 L280.5,264.5 L285.0,258.4 L289.4,252.2 L293.8,245.8 L298.3,239.2 L302.7,232.5 L307.1,225.6 L311.6,218.6 L316.0,211.3 L320.4,203.9 L324.9,196.4 L329.3,188.6 L333.7,180.7 L338.2,172.6 L342.6,164.3 L347.0,155.8 L351.5,147.2 L355.9,138.3 L360.3,129.3 L364.8,120.1 L369.2,110.7 L373.7,101.1 L378.1,91.3 L382.5,81.3 L387.0,71.1 L391.4,60.7 L395.8,50.1 L400.3,39.3 L404.7,28.3 L409.1,17.1 L413.6,5.7 L418.0,-5.9" fill="none" stroke="#2ca02c" stroke-width="4" stroke-dasharray="25.6 6.4 4 6.4"/>
</g>
<g clip-path="url(#cb)">
<path d="M573.5,432.0 L578.0,427.5 L583.0,423.0 L588.0,419.3 L592.0,418.5 L599.3,416.9 L606.5,415.2 L613.8,413.7 L621.1,412.1 L628.3,410.6 L635.6,409.1 L642.9,407.5 L650.1,406.0 L657.4,404.6 L664.7,403.1 L671.9,401.5 L679.2,400.0 L686.5,398.5 L693.7,396.9 L701.0,395.3 L708.3,393.7 L715.5,392.0 L722.8,390.3 L730.1,388.6 L737.3,386.8 L744.6,385.0 L751.8,383.1 L759.1,381.1 L766.4,379.1 L773.6,377.0 L780.9,374.9 L788.2,372.6 L795.4,370.4 L802.7,368.0 L810.0,365.6 L817.2,363.0 L824.5,360.5 L831.8,357.8 L839.0,355.0 L846.3,352.1 L853.6,349.2 L860.8,346.1 L868.1,343.0 L875.4,339.8 L882.6,336.4 L889.9,333.0 L897.2,329.5 L904.4,325.9 L911.7,322.1 L919.0,318.3 L926.2,314.4 L933.5,310.3 L940.8,306.2 L948.0,301.9 L955.3,297.6 L962.6,293.1 L969.8,288.6 L977.1,283.9 L984.4,279.2 L991.6,274.3 L998.9,269.3 L1006.2,264.3 L1013.4,259.1 L1020.7,253.9 L1027.9,248.5 L1035.2,243.1 L1042.5,237.5 L1049.7,231.9 L1057.0,226.2 L1064.3,220.3 L1071.5,214.4 L1078.8,208.5 L1086.1,202.4 L1093.3,196.3 L1100.6,190.0 L1107.9,183.8 L1115.1,177.4 L1122.4,171.0 L1129.7,164.5 L1136.9,157.9 L1144.2,151.3 L1151.5,144.6 L1158.7,137.9 L1166.0,131.2" fill="none" stroke="#fff" stroke-width="4.3" stroke-linejoin="round"/>
<path d="M573.5,432.0 L578.0,427.5 L583.0,423.0 L588.0,419.3 L592.0,418.1 L601.7,415.6 L611.5,413.3 L621.2,411.0 L630.9,408.9 L640.6,406.9 L650.4,405.0 L660.1,403.2 L669.8,401.4 L679.6,399.8 L689.3,398.2 L699.0,396.7 L708.7,395.3 L718.5,393.9 L728.2,392.6 L737.9,391.3 L747.7,390.1 L757.4,388.9 L767.1,387.8 L776.8,386.7 L786.6,385.7 L796.3,384.6 L806.0,383.7 L815.8,382.7 L825.5,381.7 L835.2,380.8 L844.9,379.9 L854.7,379.0 L864.4,378.1 L874.1,377.3 L883.9,376.4 L893.6,375.6 L903.3,374.7 L913.1,373.9 L922.8,373.0 L932.5,372.2 L942.2,371.3 L952.0,370.5 L961.7,369.7 L971.4,368.9 L981.2,368.0 L990.9,367.2 L1000.6,366.4 L1010.3,365.5 L1020.1,364.7 L1029.8,363.9 L1039.5,363.1 L1049.3,362.3 L1059.0,361.5 L1068.7,360.7 L1078.4,359.9 L1088.2,359.1 L1097.9,358.4 L1107.6,357.6 L1117.4,356.9 L1127.1,356.2 L1136.8,355.5 L1146.5,354.9 L1156.3,354.3 L1166.0,353.7" fill="none" stroke="#fff" stroke-width="4" stroke-dasharray="14.8 6.4"/>
<circle cx="592.8" cy="417.0" r="5.3" fill="#fff" stroke="#000" stroke-width="2.3"/>
<circle cx="612.5" cy="413.9" r="5.3" fill="#fff" stroke="#000" stroke-width="2.3"/>
<circle cx="632.2" cy="410.8" r="5.3" fill="#fff" stroke="#000" stroke-width="2.3"/>
<circle cx="651.6" cy="406.3" r="5.3" fill="#fff" stroke="#000" stroke-width="2.3"/>
<circle cx="671.4" cy="401.7" r="5.3" fill="#fff" stroke="#000" stroke-width="2.3"/>
<circle cx="690.6" cy="397.2" r="5.3" fill="#fff" stroke="#000" stroke-width="2.3"/>
<circle cx="710.6" cy="391.2" r="5.3" fill="#fff" stroke="#000" stroke-width="2.3"/>
<path d="M573.5,432.0 L578.0,427.5 L583.0,423.0 L588.0,419.3 L592.0,417.8 L601.7,415.3 L611.5,413.0 L621.2,410.8 L630.9,408.6 L640.6,406.6 L650.4,404.6 L660.1,402.7 L669.8,400.9 L679.6,399.2 L689.3,397.5 L699.0,395.9 L708.7,394.4 L718.5,392.9 L728.2,391.4 L737.9,390.1 L747.7,388.7 L757.4,387.4 L767.1,386.2 L776.8,385.0 L786.6,383.8 L796.3,382.6 L806.0,381.5 L815.8,380.4 L825.5,379.3 L835.2,378.3 L844.9,377.2 L854.7,376.2 L864.4,375.2 L874.1,374.2 L883.9,373.3 L893.6,372.3 L903.3,371.3 L913.1,370.4 L922.8,369.5 L932.5,368.5 L942.2,367.6 L952.0,366.7 L961.7,365.8 L971.4,364.9 L981.2,364.0 L990.9,363.1 L1000.6,362.2 L1010.3,361.3 L1020.1,360.4 L1029.8,359.5 L1039.5,358.6 L1049.3,357.8 L1059.0,356.9 L1068.7,356.1 L1078.4,355.2 L1088.2,354.4 L1097.9,353.6 L1107.6,352.7 L1117.4,351.9 L1127.1,351.2 L1136.8,350.4 L1146.5,349.7 L1156.3,348.9 L1166.0,348.2" fill="none" stroke="#6c93d4" stroke-width="4" stroke-dasharray="25.6 6.4 4 6.4"/>
<path d="M573.5,432.0 L578.0,427.5 L583.0,423.0 L588.0,419.3 L592.0,417.5 L599.3,415.9 L606.5,414.2 L613.8,412.7 L621.1,411.1 L628.3,409.6 L635.6,408.1 L642.9,406.5 L650.1,405.0 L657.4,403.6 L664.7,402.1 L671.9,400.5 L679.2,399.0 L686.5,397.5 L693.7,395.9 L701.0,394.3 L708.3,392.7 L715.5,391.0 L722.8,389.3 L730.1,387.6 L737.3,385.8 L744.6,384.0 L751.8,382.1 L759.1,380.1 L766.4,378.1 L773.6,376.0 L780.9,373.8 L788.2,371.6 L795.4,369.3 L802.7,366.9 L810.0,364.4 L817.2,361.9 L824.5,359.2 L831.8,356.5 L839.0,353.7 L846.3,350.8 L853.6,347.8 L860.8,344.7 L868.1,341.5 L875.4,338.2 L882.6,334.8 L889.9,331.4 L897.2,327.8 L904.4,324.1 L911.7,320.3 L919.0,316.4 L926.2,312.4 L933.5,308.3 L940.8,304.1 L948.0,299.7 L955.3,295.3 L962.6,290.8 L969.8,286.2 L977.1,281.4 L984.4,276.6 L991.6,271.6 L998.9,266.6 L1006.2,261.4 L1013.4,256.2 L1020.7,250.8 L1027.9,245.4 L1035.2,239.9 L1042.5,234.2 L1049.7,228.5 L1057.0,222.7 L1064.3,216.8 L1071.5,210.8 L1078.8,204.7 L1086.1,198.5 L1093.3,192.3 L1100.6,186.0 L1107.9,179.6 L1115.1,173.1 L1122.4,166.6 L1129.7,159.9 L1136.9,153.3 L1144.2,146.6 L1151.5,139.8 L1158.7,133.0 L1166.0,126.1" fill="none" stroke="#2ca02c" stroke-width="4" stroke-dasharray="25.6 6.4 4 6.4"/>
</g>
<rect x="585.3" y="19.5" width="272.7" height="176.0" rx="4" fill="#fff" fill-opacity="0.33" stroke="#ddd" stroke-opacity="0.45" stroke-width="1.5"/>
<circle cx="617.2" cy="38.7" r="5.4" fill="#fff" stroke="#000" stroke-width="2.3"/>
<line x1="592" y1="72.4" x2="642.5" y2="72.4" stroke="#fff" stroke-width="4" stroke-dasharray="14.8 6.4"/>
<line x1="592" y1="106" x2="642.5" y2="106" stroke="#6c93d4" stroke-width="4" stroke-dasharray="25.6 6.4 4 6.4"/>
<line x1="592" y1="139.7" x2="642.5" y2="139.7" stroke="#2ca02c" stroke-width="4" stroke-dasharray="25.6 6.4 4 6.4"/>
<line x1="592" y1="173.5" x2="642.5" y2="173.5" stroke="#fff" stroke-width="5"/>
<text x="658.5" y="47.3" font-size="23.5" text-anchor="start" textLength="125.4" lengthAdjust="spacingAndGlyphs">ab-initio fit</text>
<text x="658.5" y="81.0" font-size="23.5" text-anchor="start" textLength="60.0" lengthAdjust="spacingAndGlyphs">Local</text>
<text x="658.5" y="114.6" font-size="23.5" text-anchor="start" textLength="64.4" lengthAdjust="spacingAndGlyphs">Fermi</text>
<text x="658.5" y="148.3" font-size="23.5" text-anchor="start" textLength="67.3" lengthAdjust="spacingAndGlyphs">Bohm</text>
<text x="658.5" y="182.1" font-size="23.5" text-anchor="start" textLength="191.8" lengthAdjust="spacingAndGlyphs">Anisotropic HDM</text>
<rect x="92.50" y="8.00" width="442.50" height="424.00" fill="none" stroke="#000" stroke-width="1.6"/>
<rect x="573.50" y="8.00" width="588.90" height="424.00" fill="none" stroke="#000" stroke-width="1.6"/>
<line x1="85.5" y1="432.00" x2="92.5" y2="432.00" stroke="#000" stroke-width="1.6"/>
<line x1="566.5" y1="432.00" x2="573.5" y2="432.00" stroke="#000" stroke-width="1.6"/>
<text x="79.5" y="441.6" font-size="24.0" text-anchor="end" textLength="37.5" lengthAdjust="spacingAndGlyphs">0.0</text>
<line x1="85.5" y1="361.33" x2="92.5" y2="361.33" stroke="#000" stroke-width="1.6"/>
<line x1="566.5" y1="361.33" x2="573.5" y2="361.33" stroke="#000" stroke-width="1.6"/>
<text x="79.5" y="370.9" font-size="24.0" text-anchor="end" textLength="37.5" lengthAdjust="spacingAndGlyphs">0.5</text>
<line x1="85.5" y1="290.67" x2="92.5" y2="290.67" stroke="#000" stroke-width="1.6"/>
<line x1="566.5" y1="290.67" x2="573.5" y2="290.67" stroke="#000" stroke-width="1.6"/>
<text x="79.5" y="300.3" font-size="24.0" text-anchor="end" textLength="37.5" lengthAdjust="spacingAndGlyphs">1.0</text>
<line x1="85.5" y1="220.00" x2="92.5" y2="220.00" stroke="#000" stroke-width="1.6"/>
<line x1="566.5" y1="220.00" x2="573.5" y2="220.00" stroke="#000" stroke-width="1.6"/>
<text x="79.5" y="229.6" font-size="24.0" text-anchor="end" textLength="37.5" lengthAdjust="spacingAndGlyphs">1.5</text>
<line x1="85.5" y1="149.33" x2="92.5" y2="149.33" stroke="#000" stroke-width="1.6"/>
<line x1="566.5" y1="149.33" x2="573.5" y2="149.33" stroke="#000" stroke-width="1.6"/>
<text x="79.5" y="158.9" font-size="24.0" text-anchor="end" textLength="37.5" lengthAdjust="spacingAndGlyphs">2.0</text>
<line x1="85.5" y1="78.67" x2="92.5" y2="78.67" stroke="#000" stroke-width="1.6"/>
<line x1="566.5" y1="78.67" x2="573.5" y2="78.67" stroke="#000" stroke-width="1.6"/>
<text x="79.5" y="88.3" font-size="24.0" text-anchor="end" textLength="37.5" lengthAdjust="spacingAndGlyphs">2.5</text>
<line x1="85.5" y1="8.00" x2="92.5" y2="8.00" stroke="#000" stroke-width="1.6"/>
<line x1="566.5" y1="8.00" x2="573.5" y2="8.00" stroke="#000" stroke-width="1.6"/>
<text x="79.5" y="17.6" font-size="24.0" text-anchor="end" textLength="37.5" lengthAdjust="spacingAndGlyphs">3.0</text>
<line x1="92.70" y1="432" x2="92.70" y2="439" stroke="#000" stroke-width="1.6"/>
<text x="92.7" y="463.8" font-size="24.0" text-anchor="middle" textLength="37.5" lengthAdjust="spacingAndGlyphs">0.0</text>
<line x1="215.00" y1="432" x2="215.00" y2="439" stroke="#000" stroke-width="1.6"/>
<text x="215.0" y="463.8" font-size="24.0" text-anchor="middle" textLength="37.5" lengthAdjust="spacingAndGlyphs">0.1</text>
<line x1="337.30" y1="432" x2="337.30" y2="439" stroke="#000" stroke-width="1.6"/>
<text x="337.3" y="463.8" font-size="24.0" text-anchor="middle" textLength="37.5" lengthAdjust="spacingAndGlyphs">0.2</text>
<line x1="459.60" y1="432" x2="459.60" y2="439" stroke="#000" stroke-width="1.6"/>
<text x="459.6" y="463.8" font-size="24.0" text-anchor="middle" textLength="37.5" lengthAdjust="spacingAndGlyphs">0.3</text>
<line x1="573.50" y1="432" x2="573.50" y2="439" stroke="#000" stroke-width="1.6"/>
<text x="573.5" y="463.8" font-size="24.0" text-anchor="middle" textLength="37.5" lengthAdjust="spacingAndGlyphs">0.0</text>
<line x1="690.50" y1="432" x2="690.50" y2="439" stroke="#000" stroke-width="1.6"/>
<text x="690.5" y="463.8" font-size="24.0" text-anchor="middle" textLength="37.5" lengthAdjust="spacingAndGlyphs">0.1</text>
<line x1="807.50" y1="432" x2="807.50" y2="439" stroke="#000" stroke-width="1.6"/>
<text x="807.5" y="463.8" font-size="24.0" text-anchor="middle" textLength="37.5" lengthAdjust="spacingAndGlyphs">0.2</text>
<line x1="924.50" y1="432" x2="924.50" y2="439" stroke="#000" stroke-width="1.6"/>
<text x="924.5" y="463.8" font-size="24.0" text-anchor="middle" textLength="37.5" lengthAdjust="spacingAndGlyphs">0.3</text>
<line x1="1041.50" y1="432" x2="1041.50" y2="439" stroke="#000" stroke-width="1.6"/>
<text x="1041.5" y="463.8" font-size="24.0" text-anchor="middle" textLength="37.5" lengthAdjust="spacingAndGlyphs">0.4</text>
<line x1="1158.50" y1="432" x2="1158.50" y2="439" stroke="#000" stroke-width="1.6"/>
<text x="1158.5" y="463.8" font-size="24.0" text-anchor="middle" textLength="37.5" lengthAdjust="spacingAndGlyphs">0.5</text>
<text x="470.9" y="49.3" font-size="42.4" font-weight="bold">(a)</text>
<text x="1098.8" y="49.2" font-size="42.4" font-weight="bold">(b)</text>
<text x="312.6" y="496.6" font-size="29.5" text-anchor="middle" textLength="447.5" lengthAdjust="spacingAndGlyphs">Photon momentum, (1/a<tspan font-size="20.6" dy="5">0</tspan><tspan dy="-5">) (Γ</tspan><tspan font-size="28.0">→</tspan><tspan font-style="italic">X</tspan>)</text>
<text x="868.0" y="496.6" font-size="29.5" text-anchor="middle" textLength="447.5" lengthAdjust="spacingAndGlyphs">Photon momentum, (1/a<tspan font-size="20.6" dy="5">0</tspan><tspan dy="-5">) (Γ</tspan><tspan font-size="28.0">→</tspan><tspan font-style="italic">Y</tspan>)</text>
<text transform="translate(31.0,221.2) rotate(-90)" font-size="29.5" text-anchor="middle" textLength="319" lengthAdjust="spacingAndGlyphs">Photon energy,<tspan font-style="italic">ħω</tspan>, (eV)</text>
<text transform="translate(1319.0,221.2) rotate(-90)" font-size="29.5" text-anchor="middle" textLength="200" lengthAdjust="spacingAndGlyphs">Absorption (%)</text>
<rect x="1199" y="27" width="21.4" height="385.6" fill="url(#cbg)"/>
<path d="M1199,27 L1209.7,7 L1220.4,27 Z" fill="#faebdd"/>
<path d="M1199,412.6 L1209.7,433 L1220.4,412.6 Z" fill="#0e0f1c"/>
<path d="M1199,27 L1209.7,7 L1220.4,27 L1220.4,412.6 L1209.7,433 L1199,412.6 Z" fill="none" stroke="#000" stroke-width="1.6" stroke-linejoin="miter"/>
<line x1="1220.4" y1="27.00" x2="1226.9" y2="27.00" stroke="#000" stroke-width="1.6"/>
<text x="1235" y="36.3" font-size="24"><tspan textLength="28.5" lengthAdjust="spacingAndGlyphs">10</tspan><tspan font-size="16.8" dx="2" dy="-8.5" textLength="21" lengthAdjust="spacingAndGlyphs">−2</tspan></text>
<line x1="1220.4" y1="155.53" x2="1226.9" y2="155.53" stroke="#000" stroke-width="1.6"/>
<text x="1235" y="164.8" font-size="24"><tspan textLength="28.5" lengthAdjust="spacingAndGlyphs">10</tspan><tspan font-size="16.8" dx="2" dy="-8.5" textLength="21" lengthAdjust="spacingAndGlyphs">−3</tspan></text>
<line x1="1220.4" y1="284.07" x2="1226.9" y2="284.07" stroke="#000" stroke-width="1.6"/>
<text x="1235" y="293.4" font-size="24"><tspan textLength="28.5" lengthAdjust="spacingAndGlyphs">10</tspan><tspan font-size="16.8" dx="2" dy="-8.5" textLength="21" lengthAdjust="spacingAndGlyphs">−4</tspan></text>
<line x1="1220.4" y1="412.60" x2="1226.9" y2="412.60" stroke="#000" stroke-width="1.6"/>
<text x="1235" y="421.9" font-size="24"><tspan textLength="28.5" lengthAdjust="spacingAndGlyphs">10</tspan><tspan font-size="16.8" dx="2" dy="-8.5" textLength="21" lengthAdjust="spacingAndGlyphs">−5</tspan></text>
</svg>
</body></html>
